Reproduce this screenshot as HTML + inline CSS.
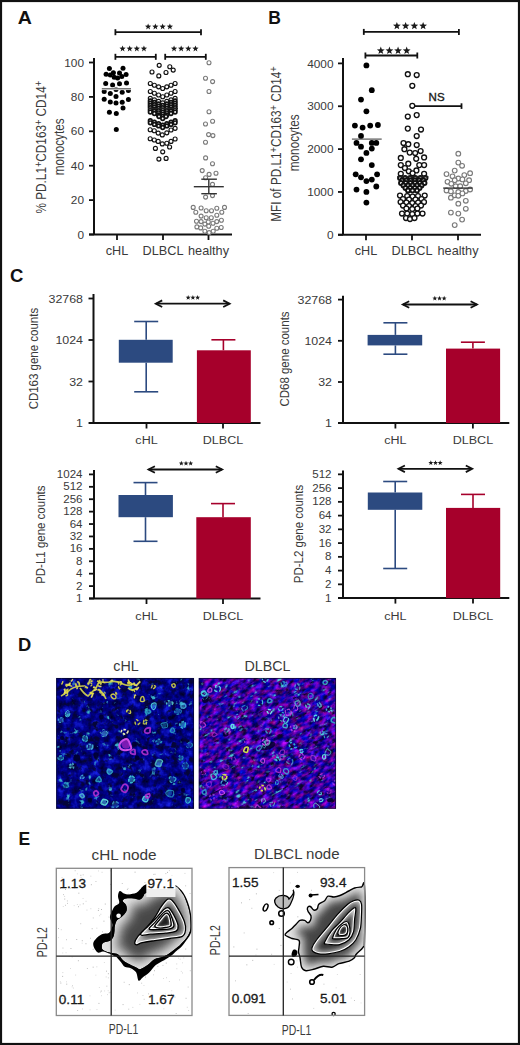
<!DOCTYPE html>
<html><head><meta charset="utf-8"><style>
html,body{margin:0;padding:0;background:#fff;}
svg{display:block;}
text{font-family:"Liberation Sans",sans-serif;}
</style></head><body>
<svg width="520" height="1045" viewBox="0 0 520 1045">
<rect width="520" height="1045" fill="#fff"/>
<rect x="1" y="1" width="518" height="1043" fill="none" stroke="#111" stroke-width="2.2"/>
<text x="0" y="0" font-size="17.5" font-weight="bold" fill="#111" transform="translate(17.8,23.6) scale(1.12,1)">A</text>
<text x="0" y="0" font-size="17.5" font-weight="bold" fill="#111" transform="translate(268.3,23.6) scale(1.0,1)">B</text>
<text x="0" y="0" font-size="18.5" font-weight="bold" fill="#111" transform="translate(10,282.3) scale(1.0,1)">C</text>
<text x="0" y="0" font-size="17.5" font-weight="bold" fill="#111" transform="translate(18,651.3) scale(1.05,1)">D</text>
<text x="0" y="0" font-size="17.5" font-weight="bold" fill="#111" transform="translate(18.5,845) scale(1.0,1)">E</text>
<line x1="94" y1="58" x2="94" y2="234.5" stroke="#111" stroke-width="2"/>
<line x1="89" y1="234.5" x2="94" y2="234.5" stroke="#111" stroke-width="1.8"/>
<text x="0" y="0" font-size="11.5" text-anchor="end" fill="#3a3a3a" transform="translate(84,238.6) scale(1.03,1)">0</text>
<line x1="89" y1="200.1" x2="94" y2="200.1" stroke="#111" stroke-width="1.8"/>
<text x="0" y="0" font-size="11.5" text-anchor="end" fill="#3a3a3a" transform="translate(84,204.2) scale(1.03,1)">20</text>
<line x1="89" y1="165.7" x2="94" y2="165.7" stroke="#111" stroke-width="1.8"/>
<text x="0" y="0" font-size="11.5" text-anchor="end" fill="#3a3a3a" transform="translate(84,169.8) scale(1.03,1)">40</text>
<line x1="89" y1="131.3" x2="94" y2="131.3" stroke="#111" stroke-width="1.8"/>
<text x="0" y="0" font-size="11.5" text-anchor="end" fill="#3a3a3a" transform="translate(84,135.4) scale(1.03,1)">60</text>
<line x1="89" y1="96.9" x2="94" y2="96.9" stroke="#111" stroke-width="1.8"/>
<text x="0" y="0" font-size="11.5" text-anchor="end" fill="#3a3a3a" transform="translate(84,101.0) scale(1.03,1)">80</text>
<line x1="89" y1="62.5" x2="94" y2="62.5" stroke="#111" stroke-width="1.8"/>
<text x="0" y="0" font-size="11.5" text-anchor="end" fill="#3a3a3a" transform="translate(84,66.6) scale(1.03,1)">100</text>
<line x1="89" y1="234.5" x2="232" y2="234.5" stroke="#111" stroke-width="2"/>
<line x1="117" y1="234.5" x2="117" y2="240.0" stroke="#111" stroke-width="1.8"/>
<text x="0" y="0" font-size="12" text-anchor="middle" fill="#3a3a3a" transform="translate(117,255.2) scale(1.06,1)">cHL</text>
<line x1="163" y1="234.5" x2="163" y2="240.0" stroke="#111" stroke-width="1.8"/>
<text x="0" y="0" font-size="12" text-anchor="middle" fill="#3a3a3a" transform="translate(163,255.2) scale(1.06,1)">DLBCL</text>
<line x1="208.5" y1="234.5" x2="208.5" y2="240.0" stroke="#111" stroke-width="1.8"/>
<text x="0" y="0" font-size="12" text-anchor="middle" fill="#3a3a3a" transform="translate(208.5,255.2) scale(1.06,1)">healthy</text>
<text x="0" y="0" font-size="12.8" text-anchor="middle" fill="#3a3a3a" transform="translate(46.3,147.2) rotate(-90) scale(0.92,1.1)">% PD.L1<tspan dy="-4.2" font-size="10">+</tspan><tspan dy="4.2">CD163</tspan><tspan dy="-4.2" font-size="10">+</tspan><tspan dy="4.2"> CD14</tspan><tspan dy="-4.2" font-size="10">+</tspan></text>
<text x="0" y="0" font-size="12.8" text-anchor="middle" fill="#3a3a3a" transform="translate(63.8,146.8) rotate(-90) scale(0.92,1.12)">monocytes</text>
<line x1="115.4" y1="32.2" x2="201" y2="32.2" stroke="#111" stroke-width="1.8"/><line x1="115.4" y1="29.200000000000003" x2="115.4" y2="35.2" stroke="#111" stroke-width="1.8"/><line x1="201" y1="29.200000000000003" x2="201" y2="35.2" stroke="#111" stroke-width="1.8"/><polygon points="148.12,23.43 148.94,25.61 151.26,25.71 149.44,27.16 150.06,29.40 148.12,28.12 146.19,29.40 146.81,27.16 144.99,25.71 147.31,25.61" fill="#1a1a1a"/><polygon points="155.38,23.43 156.19,25.61 158.51,25.71 156.69,27.16 157.31,29.40 155.38,28.12 153.44,29.40 154.06,27.16 152.24,25.71 154.56,25.61" fill="#1a1a1a"/><polygon points="162.62,23.43 163.44,25.61 165.76,25.71 163.94,27.16 164.56,29.40 162.62,28.12 160.69,29.40 161.31,27.16 159.49,25.71 161.81,25.61" fill="#1a1a1a"/><polygon points="169.88,23.43 170.69,25.61 173.01,25.71 171.19,27.16 171.81,29.40 169.88,28.12 167.94,29.40 168.56,27.16 166.74,25.71 169.06,25.61" fill="#1a1a1a"/>
<line x1="115.4" y1="56.8" x2="155.8" y2="56.8" stroke="#111" stroke-width="1.8"/><line x1="115.4" y1="53.8" x2="115.4" y2="59.8" stroke="#111" stroke-width="1.8"/><line x1="155.8" y1="53.8" x2="155.8" y2="59.8" stroke="#111" stroke-width="1.8"/><polygon points="122.56,45.43 123.38,47.61 125.70,47.71 123.88,49.16 124.50,51.40 122.56,50.12 120.62,51.40 121.24,49.16 119.42,47.71 121.75,47.61" fill="#1a1a1a"/><polygon points="129.69,45.43 130.50,47.61 132.83,47.71 131.01,49.16 131.63,51.40 129.69,50.12 127.75,51.40 128.37,49.16 126.55,47.71 128.87,47.61" fill="#1a1a1a"/><polygon points="136.81,45.43 137.63,47.61 139.95,47.71 138.13,49.16 138.75,51.40 136.81,50.12 134.87,51.40 135.49,49.16 133.67,47.71 136.00,47.61" fill="#1a1a1a"/><polygon points="143.94,45.43 144.75,47.61 147.08,47.71 145.26,49.16 145.88,51.40 143.94,50.12 142.00,51.40 142.62,49.16 140.80,47.71 143.12,47.61" fill="#1a1a1a"/>
<line x1="165.2" y1="56.8" x2="205.8" y2="56.8" stroke="#111" stroke-width="1.8"/><line x1="165.2" y1="53.8" x2="165.2" y2="59.8" stroke="#111" stroke-width="1.8"/><line x1="205.8" y1="53.8" x2="205.8" y2="59.8" stroke="#111" stroke-width="1.8"/><polygon points="174.06,45.43 174.88,47.61 177.20,47.71 175.38,49.16 176.00,51.40 174.06,50.12 172.12,51.40 172.74,49.16 170.92,47.71 173.25,47.61" fill="#1a1a1a"/><polygon points="181.19,45.43 182.00,47.61 184.33,47.71 182.51,49.16 183.13,51.40 181.19,50.12 179.25,51.40 179.87,49.16 178.05,47.71 180.37,47.61" fill="#1a1a1a"/><polygon points="188.31,45.43 189.13,47.61 191.45,47.71 189.63,49.16 190.25,51.40 188.31,50.12 186.37,51.40 186.99,49.16 185.17,47.71 187.50,47.61" fill="#1a1a1a"/><polygon points="195.44,45.43 196.25,47.61 198.58,47.71 196.76,49.16 197.38,51.40 195.44,50.12 193.50,51.40 194.12,49.16 192.30,47.71 194.62,47.61" fill="#1a1a1a"/>
<line x1="343" y1="58" x2="343" y2="234.8" stroke="#111" stroke-width="2"/>
<line x1="338" y1="234.8" x2="343" y2="234.8" stroke="#111" stroke-width="1.8"/>
<text x="0" y="0" font-size="11.5" text-anchor="end" fill="#3a3a3a" transform="translate(333.5,238.9) scale(1.03,1)">0</text>
<line x1="338" y1="191.95000000000002" x2="343" y2="191.95000000000002" stroke="#111" stroke-width="1.8"/>
<text x="0" y="0" font-size="11.5" text-anchor="end" fill="#3a3a3a" transform="translate(333.5,196.1) scale(1.03,1)">1000</text>
<line x1="338" y1="149.10000000000002" x2="343" y2="149.10000000000002" stroke="#111" stroke-width="1.8"/>
<text x="0" y="0" font-size="11.5" text-anchor="end" fill="#3a3a3a" transform="translate(333.5,153.2) scale(1.03,1)">2000</text>
<line x1="338" y1="106.25" x2="343" y2="106.25" stroke="#111" stroke-width="1.8"/>
<text x="0" y="0" font-size="11.5" text-anchor="end" fill="#3a3a3a" transform="translate(333.5,110.4) scale(1.03,1)">3000</text>
<line x1="338" y1="63.400000000000006" x2="343" y2="63.400000000000006" stroke="#111" stroke-width="1.8"/>
<text x="0" y="0" font-size="11.5" text-anchor="end" fill="#3a3a3a" transform="translate(333.5,67.5) scale(1.03,1)">4000</text>
<line x1="338" y1="234.8" x2="481" y2="234.8" stroke="#111" stroke-width="2"/>
<line x1="366" y1="234.8" x2="366" y2="240.3" stroke="#111" stroke-width="1.8"/>
<text x="0" y="0" font-size="12" text-anchor="middle" fill="#3a3a3a" transform="translate(366,254.8) scale(1.06,1)">cHL</text>
<line x1="412" y1="234.8" x2="412" y2="240.3" stroke="#111" stroke-width="1.8"/>
<text x="0" y="0" font-size="12" text-anchor="middle" fill="#3a3a3a" transform="translate(412,254.8) scale(1.06,1)">DLBCL</text>
<line x1="458" y1="234.8" x2="458" y2="240.3" stroke="#111" stroke-width="1.8"/>
<text x="0" y="0" font-size="12" text-anchor="middle" fill="#3a3a3a" transform="translate(458,254.8) scale(1.06,1)">healthy</text>
<text x="0" y="0" font-size="12.8" text-anchor="middle" fill="#3a3a3a" transform="translate(281.2,144) rotate(-90) scale(0.92,1.1)">MFI of PD.L1<tspan dy="-4.2" font-size="10">+</tspan><tspan dy="4.2">CD163</tspan><tspan dy="-4.2" font-size="10">+</tspan><tspan dy="4.2"> CD14</tspan><tspan dy="-4.2" font-size="10">+</tspan></text>
<text x="0" y="0" font-size="12.8" text-anchor="middle" fill="#3a3a3a" transform="translate(298.6,142.8) rotate(-90) scale(0.92,1.12)">monocytes</text>
<line x1="363.8" y1="31.9" x2="458.9" y2="31.9" stroke="#111" stroke-width="1.8"/><line x1="363.8" y1="28.9" x2="363.8" y2="34.9" stroke="#111" stroke-width="1.8"/><line x1="458.9" y1="28.9" x2="458.9" y2="34.9" stroke="#111" stroke-width="1.8"/><polygon points="396.88,21.91 397.89,24.62 400.77,24.74 398.51,26.54 399.28,29.33 396.88,27.73 394.47,29.33 395.24,26.54 392.98,24.74 395.86,24.62" fill="#1a1a1a"/><polygon points="405.62,21.91 406.64,24.62 409.52,24.74 407.26,26.54 408.03,29.33 405.62,27.73 403.22,29.33 403.99,26.54 401.73,24.74 404.61,24.62" fill="#1a1a1a"/><polygon points="414.38,21.91 415.39,24.62 418.27,24.74 416.01,26.54 416.78,29.33 414.38,27.73 411.97,29.33 412.74,26.54 410.48,24.74 413.36,24.62" fill="#1a1a1a"/><polygon points="423.12,21.91 424.14,24.62 427.02,24.74 424.76,26.54 425.53,29.33 423.12,27.73 420.72,29.33 421.49,26.54 419.23,24.74 422.11,24.62" fill="#1a1a1a"/>
<line x1="365.4" y1="55.5" x2="417.3" y2="55.5" stroke="#111" stroke-width="1.8"/><line x1="365.4" y1="52.5" x2="365.4" y2="58.5" stroke="#111" stroke-width="1.8"/><line x1="417.3" y1="52.5" x2="417.3" y2="58.5" stroke="#111" stroke-width="1.8"/><polygon points="380.81,46.61 381.82,49.32 384.71,49.44 382.45,51.24 383.22,54.03 380.81,52.43 378.40,54.03 379.17,51.24 376.91,49.44 379.80,49.32" fill="#1a1a1a"/><polygon points="389.44,46.61 390.45,49.32 393.34,49.44 391.08,51.24 391.85,54.03 389.44,52.43 387.03,54.03 387.80,51.24 385.54,49.44 388.43,49.32" fill="#1a1a1a"/><polygon points="398.06,46.61 399.07,49.32 401.96,49.44 399.70,51.24 400.47,54.03 398.06,52.43 395.65,54.03 396.42,51.24 394.16,49.44 397.05,49.32" fill="#1a1a1a"/><polygon points="406.69,46.61 407.70,49.32 410.59,49.44 408.33,51.24 409.10,54.03 406.69,52.43 404.28,54.03 405.05,51.24 402.79,49.44 405.68,49.32" fill="#1a1a1a"/>
<line x1="412.4" y1="106.1" x2="461.5" y2="106.1" stroke="#111" stroke-width="1.8"/><line x1="461.5" y1="103.3" x2="461.5" y2="108.9" stroke="#111" stroke-width="1.8"/>
<text x="428.6" y="100.6" font-size="11.5" text-anchor="start" fill="#1a1a1a" font-weight="normal" stroke="#1a1a1a" stroke-width="0.35">NS</text>
<circle cx="109.4" cy="68.5" r="2.5" fill="#000"/>
<circle cx="123.0" cy="68.3" r="2.5" fill="#000"/>
<circle cx="106.1" cy="74.2" r="2.5" fill="#000"/>
<circle cx="110.3" cy="75.0" r="2.5" fill="#000"/>
<circle cx="113.4" cy="72.7" r="2.5" fill="#000"/>
<circle cx="114.2" cy="77.3" r="2.5" fill="#000"/>
<circle cx="117.6" cy="78.1" r="2.5" fill="#000"/>
<circle cx="119.5" cy="73.1" r="2.5" fill="#000"/>
<circle cx="121.8" cy="76.5" r="2.5" fill="#000"/>
<circle cx="126.1" cy="74.6" r="2.5" fill="#000"/>
<circle cx="105.7" cy="83.5" r="2.5" fill="#000"/>
<circle cx="112.6" cy="85.0" r="2.5" fill="#000"/>
<circle cx="119.5" cy="83.8" r="2.5" fill="#000"/>
<circle cx="126.5" cy="83.1" r="2.5" fill="#000"/>
<circle cx="104.2" cy="91.5" r="2.5" fill="#000"/>
<circle cx="110.3" cy="93.5" r="2.5" fill="#000"/>
<circle cx="116.0" cy="89.5" r="2.5" fill="#000"/>
<circle cx="122.2" cy="92.3" r="2.5" fill="#000"/>
<circle cx="128.4" cy="90.4" r="2.5" fill="#000"/>
<circle cx="116.0" cy="96.5" r="2.5" fill="#000"/>
<circle cx="104.2" cy="99.2" r="2.5" fill="#000"/>
<circle cx="110.3" cy="101.9" r="2.5" fill="#000"/>
<circle cx="116.0" cy="103.0" r="2.5" fill="#000"/>
<circle cx="122.2" cy="102.3" r="2.5" fill="#000"/>
<circle cx="128.4" cy="99.6" r="2.5" fill="#000"/>
<circle cx="123.0" cy="108.0" r="2.5" fill="#000"/>
<circle cx="109.4" cy="112.2" r="2.5" fill="#000"/>
<circle cx="116.3" cy="113.5" r="2.5" fill="#000"/>
<circle cx="116.3" cy="129.6" r="2.5" fill="#000"/>
<line x1="101.8" y1="88.8" x2="131" y2="88.8" stroke="#fff" stroke-width="2.6"/>
<line x1="101.8" y1="88.8" x2="131" y2="88.8" stroke="#555" stroke-width="1.2"/>
<circle cx="159.2" cy="65.3" r="2.0" fill="#fff" stroke="#111" stroke-width="1.15"/>
<circle cx="169.8" cy="66.7" r="2.0" fill="#fff" stroke="#111" stroke-width="1.15"/>
<circle cx="173.2" cy="70.1" r="2.0" fill="#fff" stroke="#111" stroke-width="1.15"/>
<circle cx="152.0" cy="72.0" r="2.0" fill="#fff" stroke="#111" stroke-width="1.15"/>
<circle cx="166.0" cy="72.5" r="2.0" fill="#fff" stroke="#111" stroke-width="1.15"/>
<circle cx="158.8" cy="75.9" r="2.0" fill="#fff" stroke="#111" stroke-width="1.15"/>
<circle cx="150.3" cy="83.5" r="2.0" fill="#fff" stroke="#111" stroke-width="1.15"/>
<circle cx="154.4" cy="85.2" r="2.0" fill="#fff" stroke="#111" stroke-width="1.15"/>
<circle cx="158.6" cy="86.8" r="2.0" fill="#fff" stroke="#111" stroke-width="1.15"/>
<circle cx="162.7" cy="88.5" r="2.0" fill="#fff" stroke="#111" stroke-width="1.15"/>
<circle cx="166.8" cy="86.8" r="2.0" fill="#fff" stroke="#111" stroke-width="1.15"/>
<circle cx="171.0" cy="85.2" r="2.0" fill="#fff" stroke="#111" stroke-width="1.15"/>
<circle cx="175.1" cy="83.5" r="2.0" fill="#fff" stroke="#111" stroke-width="1.15"/>
<circle cx="150.3" cy="91.5" r="2.0" fill="#fff" stroke="#111" stroke-width="1.15"/>
<circle cx="154.4" cy="93.2" r="2.0" fill="#fff" stroke="#111" stroke-width="1.15"/>
<circle cx="158.6" cy="95.0" r="2.0" fill="#fff" stroke="#111" stroke-width="1.15"/>
<circle cx="162.7" cy="96.7" r="2.0" fill="#fff" stroke="#111" stroke-width="1.15"/>
<circle cx="166.8" cy="95.0" r="2.0" fill="#fff" stroke="#111" stroke-width="1.15"/>
<circle cx="171.0" cy="93.2" r="2.0" fill="#fff" stroke="#111" stroke-width="1.15"/>
<circle cx="175.1" cy="91.5" r="2.0" fill="#fff" stroke="#111" stroke-width="1.15"/>
<circle cx="150.3" cy="98.3" r="2.0" fill="#fff" stroke="#111" stroke-width="1.15"/>
<circle cx="154.4" cy="99.8" r="2.0" fill="#fff" stroke="#111" stroke-width="1.15"/>
<circle cx="158.6" cy="101.3" r="2.0" fill="#fff" stroke="#111" stroke-width="1.15"/>
<circle cx="162.7" cy="102.8" r="2.0" fill="#fff" stroke="#111" stroke-width="1.15"/>
<circle cx="166.8" cy="101.3" r="2.0" fill="#fff" stroke="#111" stroke-width="1.15"/>
<circle cx="171.0" cy="99.8" r="2.0" fill="#fff" stroke="#111" stroke-width="1.15"/>
<circle cx="175.1" cy="98.3" r="2.0" fill="#fff" stroke="#111" stroke-width="1.15"/>
<circle cx="150.2" cy="129.7" r="2.0" fill="#fff" stroke="#111" stroke-width="1.15"/>
<circle cx="154.3" cy="130.7" r="2.0" fill="#fff" stroke="#111" stroke-width="1.15"/>
<circle cx="158.2" cy="133.1" r="2.0" fill="#fff" stroke="#111" stroke-width="1.15"/>
<circle cx="162.3" cy="134.9" r="2.0" fill="#fff" stroke="#111" stroke-width="1.15"/>
<circle cx="166.8" cy="132.8" r="2.0" fill="#fff" stroke="#111" stroke-width="1.15"/>
<circle cx="171.0" cy="130.0" r="2.0" fill="#fff" stroke="#111" stroke-width="1.15"/>
<circle cx="175.1" cy="128.3" r="2.0" fill="#fff" stroke="#111" stroke-width="1.15"/>
<circle cx="150.2" cy="138.7" r="2.0" fill="#fff" stroke="#111" stroke-width="1.15"/>
<circle cx="154.3" cy="140.0" r="2.0" fill="#fff" stroke="#111" stroke-width="1.15"/>
<circle cx="158.2" cy="141.4" r="2.0" fill="#fff" stroke="#111" stroke-width="1.15"/>
<circle cx="162.3" cy="143.9" r="2.0" fill="#fff" stroke="#111" stroke-width="1.15"/>
<circle cx="166.8" cy="143.2" r="2.0" fill="#fff" stroke="#111" stroke-width="1.15"/>
<circle cx="171.0" cy="141.4" r="2.0" fill="#fff" stroke="#111" stroke-width="1.15"/>
<circle cx="175.1" cy="139.0" r="2.0" fill="#fff" stroke="#111" stroke-width="1.15"/>
<circle cx="169.6" cy="147.0" r="2.0" fill="#fff" stroke="#111" stroke-width="1.15"/>
<circle cx="155.4" cy="148.4" r="2.0" fill="#fff" stroke="#111" stroke-width="1.15"/>
<circle cx="162.7" cy="151.8" r="2.0" fill="#fff" stroke="#111" stroke-width="1.15"/>
<circle cx="158.9" cy="159.1" r="2.0" fill="#fff" stroke="#111" stroke-width="1.15"/>
<circle cx="166.1" cy="158.4" r="2.0" fill="#fff" stroke="#111" stroke-width="1.15"/>
<circle cx="150.3" cy="101.0" r="1.8" fill="#fff" stroke="#111" stroke-width="1.7"/>
<circle cx="154.4" cy="102.5" r="1.8" fill="#fff" stroke="#111" stroke-width="1.7"/>
<circle cx="158.6" cy="104.0" r="1.8" fill="#fff" stroke="#111" stroke-width="1.7"/>
<circle cx="162.7" cy="105.5" r="1.8" fill="#fff" stroke="#111" stroke-width="1.7"/>
<circle cx="166.8" cy="104.0" r="1.8" fill="#fff" stroke="#111" stroke-width="1.7"/>
<circle cx="171.0" cy="102.5" r="1.8" fill="#fff" stroke="#111" stroke-width="1.7"/>
<circle cx="175.1" cy="101.0" r="1.8" fill="#fff" stroke="#111" stroke-width="1.7"/>
<circle cx="150.3" cy="103.2" r="1.8" fill="#fff" stroke="#111" stroke-width="1.7"/>
<circle cx="154.4" cy="104.7" r="1.8" fill="#fff" stroke="#111" stroke-width="1.7"/>
<circle cx="158.6" cy="106.2" r="1.8" fill="#fff" stroke="#111" stroke-width="1.7"/>
<circle cx="162.7" cy="107.7" r="1.8" fill="#fff" stroke="#111" stroke-width="1.7"/>
<circle cx="166.8" cy="106.2" r="1.8" fill="#fff" stroke="#111" stroke-width="1.7"/>
<circle cx="171.0" cy="104.7" r="1.8" fill="#fff" stroke="#111" stroke-width="1.7"/>
<circle cx="175.1" cy="103.2" r="1.8" fill="#fff" stroke="#111" stroke-width="1.7"/>
<circle cx="150.3" cy="105.4" r="1.8" fill="#fff" stroke="#111" stroke-width="1.7"/>
<circle cx="154.4" cy="106.9" r="1.8" fill="#fff" stroke="#111" stroke-width="1.7"/>
<circle cx="158.6" cy="108.4" r="1.8" fill="#fff" stroke="#111" stroke-width="1.7"/>
<circle cx="162.7" cy="109.9" r="1.8" fill="#fff" stroke="#111" stroke-width="1.7"/>
<circle cx="166.8" cy="108.4" r="1.8" fill="#fff" stroke="#111" stroke-width="1.7"/>
<circle cx="171.0" cy="106.9" r="1.8" fill="#fff" stroke="#111" stroke-width="1.7"/>
<circle cx="175.1" cy="105.4" r="1.8" fill="#fff" stroke="#111" stroke-width="1.7"/>
<circle cx="150.3" cy="107.6" r="1.8" fill="#fff" stroke="#111" stroke-width="1.7"/>
<circle cx="154.4" cy="109.1" r="1.8" fill="#fff" stroke="#111" stroke-width="1.7"/>
<circle cx="158.6" cy="110.6" r="1.8" fill="#fff" stroke="#111" stroke-width="1.7"/>
<circle cx="162.7" cy="112.1" r="1.8" fill="#fff" stroke="#111" stroke-width="1.7"/>
<circle cx="166.8" cy="110.6" r="1.8" fill="#fff" stroke="#111" stroke-width="1.7"/>
<circle cx="171.0" cy="109.1" r="1.8" fill="#fff" stroke="#111" stroke-width="1.7"/>
<circle cx="175.1" cy="107.6" r="1.8" fill="#fff" stroke="#111" stroke-width="1.7"/>
<circle cx="150.3" cy="109.8" r="1.8" fill="#fff" stroke="#111" stroke-width="1.7"/>
<circle cx="154.4" cy="111.3" r="1.8" fill="#fff" stroke="#111" stroke-width="1.7"/>
<circle cx="158.6" cy="112.8" r="1.8" fill="#fff" stroke="#111" stroke-width="1.7"/>
<circle cx="162.7" cy="114.3" r="1.8" fill="#fff" stroke="#111" stroke-width="1.7"/>
<circle cx="166.8" cy="112.8" r="1.8" fill="#fff" stroke="#111" stroke-width="1.7"/>
<circle cx="171.0" cy="111.3" r="1.8" fill="#fff" stroke="#111" stroke-width="1.7"/>
<circle cx="175.1" cy="109.8" r="1.8" fill="#fff" stroke="#111" stroke-width="1.7"/>
<circle cx="150.3" cy="112.0" r="1.8" fill="#fff" stroke="#111" stroke-width="1.7"/>
<circle cx="154.4" cy="113.5" r="1.8" fill="#fff" stroke="#111" stroke-width="1.7"/>
<circle cx="158.6" cy="115.0" r="1.8" fill="#fff" stroke="#111" stroke-width="1.7"/>
<circle cx="162.7" cy="116.5" r="1.8" fill="#fff" stroke="#111" stroke-width="1.7"/>
<circle cx="166.8" cy="115.0" r="1.8" fill="#fff" stroke="#111" stroke-width="1.7"/>
<circle cx="171.0" cy="113.5" r="1.8" fill="#fff" stroke="#111" stroke-width="1.7"/>
<circle cx="175.1" cy="112.0" r="1.8" fill="#fff" stroke="#111" stroke-width="1.7"/>
<circle cx="150.3" cy="120.7" r="1.8" fill="#fff" stroke="#111" stroke-width="1.7"/>
<circle cx="154.4" cy="122.2" r="1.8" fill="#fff" stroke="#111" stroke-width="1.7"/>
<circle cx="158.6" cy="123.7" r="1.8" fill="#fff" stroke="#111" stroke-width="1.7"/>
<circle cx="162.7" cy="125.2" r="1.8" fill="#fff" stroke="#111" stroke-width="1.7"/>
<circle cx="166.8" cy="123.7" r="1.8" fill="#fff" stroke="#111" stroke-width="1.7"/>
<circle cx="171.0" cy="122.2" r="1.8" fill="#fff" stroke="#111" stroke-width="1.7"/>
<circle cx="175.1" cy="120.7" r="1.8" fill="#fff" stroke="#111" stroke-width="1.7"/>
<circle cx="150.3" cy="122.8" r="1.8" fill="#fff" stroke="#111" stroke-width="1.7"/>
<circle cx="154.4" cy="124.4" r="1.8" fill="#fff" stroke="#111" stroke-width="1.7"/>
<circle cx="158.6" cy="125.9" r="1.8" fill="#fff" stroke="#111" stroke-width="1.7"/>
<circle cx="162.7" cy="127.5" r="1.8" fill="#fff" stroke="#111" stroke-width="1.7"/>
<circle cx="166.8" cy="125.9" r="1.8" fill="#fff" stroke="#111" stroke-width="1.7"/>
<circle cx="171.0" cy="124.4" r="1.8" fill="#fff" stroke="#111" stroke-width="1.7"/>
<circle cx="175.1" cy="122.8" r="1.8" fill="#fff" stroke="#111" stroke-width="1.7"/>
<circle cx="159.0" cy="116.5" r="1.8" fill="#fff" stroke="#111" stroke-width="1.7"/>
<circle cx="166.0" cy="116.5" r="1.8" fill="#fff" stroke="#111" stroke-width="1.7"/>
<circle cx="162.7" cy="118.5" r="1.8" fill="#fff" stroke="#111" stroke-width="1.7"/>
<line x1="148" y1="108.5" x2="178" y2="108.5" stroke="#222" stroke-width="1.2"/>
<circle cx="209.0" cy="62.7" r="2.0" fill="#fff" stroke="#7a7a7a" stroke-width="1.1"/>
<circle cx="205.5" cy="78.3" r="2.0" fill="#fff" stroke="#7a7a7a" stroke-width="1.1"/>
<circle cx="212.6" cy="81.6" r="2.0" fill="#fff" stroke="#7a7a7a" stroke-width="1.1"/>
<circle cx="209.0" cy="91.5" r="2.0" fill="#fff" stroke="#7a7a7a" stroke-width="1.1"/>
<circle cx="209.0" cy="111.7" r="2.0" fill="#fff" stroke="#7a7a7a" stroke-width="1.1"/>
<circle cx="212.6" cy="121.3" r="2.0" fill="#fff" stroke="#7a7a7a" stroke-width="1.1"/>
<circle cx="205.5" cy="124.0" r="2.0" fill="#fff" stroke="#7a7a7a" stroke-width="1.1"/>
<circle cx="208.6" cy="134.6" r="2.0" fill="#fff" stroke="#7a7a7a" stroke-width="1.1"/>
<circle cx="212.9" cy="135.6" r="2.0" fill="#fff" stroke="#7a7a7a" stroke-width="1.1"/>
<circle cx="205.5" cy="142.3" r="2.0" fill="#fff" stroke="#7a7a7a" stroke-width="1.1"/>
<circle cx="205.6" cy="157.9" r="2.0" fill="#fff" stroke="#7a7a7a" stroke-width="1.1"/>
<circle cx="212.5" cy="163.7" r="2.0" fill="#fff" stroke="#7a7a7a" stroke-width="1.1"/>
<circle cx="202.2" cy="170.6" r="2.0" fill="#fff" stroke="#7a7a7a" stroke-width="1.1"/>
<circle cx="216.0" cy="173.2" r="2.0" fill="#fff" stroke="#7a7a7a" stroke-width="1.1"/>
<circle cx="209.1" cy="174.4" r="2.0" fill="#fff" stroke="#7a7a7a" stroke-width="1.1"/>
<circle cx="205.6" cy="177.8" r="2.0" fill="#fff" stroke="#7a7a7a" stroke-width="1.1"/>
<circle cx="212.5" cy="184.4" r="2.0" fill="#fff" stroke="#7a7a7a" stroke-width="1.1"/>
<circle cx="205.6" cy="197.1" r="2.0" fill="#fff" stroke="#7a7a7a" stroke-width="1.1"/>
<circle cx="212.5" cy="195.6" r="2.0" fill="#fff" stroke="#7a7a7a" stroke-width="1.1"/>
<circle cx="193.2" cy="207.4" r="2.0" fill="#fff" stroke="#7a7a7a" stroke-width="1.1"/>
<circle cx="195.8" cy="212.3" r="2.0" fill="#fff" stroke="#7a7a7a" stroke-width="1.1"/>
<circle cx="201.1" cy="208.0" r="2.0" fill="#fff" stroke="#7a7a7a" stroke-width="1.1"/>
<circle cx="206.2" cy="210.8" r="2.0" fill="#fff" stroke="#7a7a7a" stroke-width="1.1"/>
<circle cx="211.5" cy="210.8" r="2.0" fill="#fff" stroke="#7a7a7a" stroke-width="1.1"/>
<circle cx="216.8" cy="208.3" r="2.0" fill="#fff" stroke="#7a7a7a" stroke-width="1.1"/>
<circle cx="224.5" cy="207.4" r="2.0" fill="#fff" stroke="#7a7a7a" stroke-width="1.1"/>
<circle cx="221.8" cy="212.3" r="2.0" fill="#fff" stroke="#7a7a7a" stroke-width="1.1"/>
<circle cx="201.1" cy="216.1" r="2.0" fill="#fff" stroke="#7a7a7a" stroke-width="1.1"/>
<circle cx="206.2" cy="217.8" r="2.0" fill="#fff" stroke="#7a7a7a" stroke-width="1.1"/>
<circle cx="211.3" cy="217.8" r="2.0" fill="#fff" stroke="#7a7a7a" stroke-width="1.1"/>
<circle cx="216.8" cy="215.2" r="2.0" fill="#fff" stroke="#7a7a7a" stroke-width="1.1"/>
<circle cx="196.5" cy="221.2" r="2.0" fill="#fff" stroke="#7a7a7a" stroke-width="1.1"/>
<circle cx="201.1" cy="221.6" r="2.0" fill="#fff" stroke="#7a7a7a" stroke-width="1.1"/>
<circle cx="208.3" cy="222.0" r="2.0" fill="#fff" stroke="#7a7a7a" stroke-width="1.1"/>
<circle cx="213.0" cy="223.3" r="2.0" fill="#fff" stroke="#7a7a7a" stroke-width="1.1"/>
<circle cx="216.8" cy="221.6" r="2.0" fill="#fff" stroke="#7a7a7a" stroke-width="1.1"/>
<circle cx="221.4" cy="220.3" r="2.0" fill="#fff" stroke="#7a7a7a" stroke-width="1.1"/>
<circle cx="204.9" cy="224.1" r="2.0" fill="#fff" stroke="#7a7a7a" stroke-width="1.1"/>
<circle cx="196.9" cy="226.9" r="2.0" fill="#fff" stroke="#7a7a7a" stroke-width="1.1"/>
<circle cx="200.7" cy="227.9" r="2.0" fill="#fff" stroke="#7a7a7a" stroke-width="1.1"/>
<circle cx="208.7" cy="226.2" r="2.0" fill="#fff" stroke="#7a7a7a" stroke-width="1.1"/>
<circle cx="216.8" cy="228.3" r="2.0" fill="#fff" stroke="#7a7a7a" stroke-width="1.1"/>
<circle cx="221.2" cy="227.5" r="2.0" fill="#fff" stroke="#7a7a7a" stroke-width="1.1"/>
<circle cx="204.9" cy="231.3" r="2.0" fill="#fff" stroke="#7a7a7a" stroke-width="1.1"/>
<circle cx="209.2" cy="232.6" r="2.0" fill="#fff" stroke="#7a7a7a" stroke-width="1.1"/>
<circle cx="213.2" cy="231.3" r="2.0" fill="#fff" stroke="#7a7a7a" stroke-width="1.1"/>
<g stroke="#333" stroke-width="1.4"><line x1="193.8" y1="186.7" x2="223.8" y2="186.7"/><line x1="201.3" y1="179.2" x2="216.9" y2="179.2"/><line x1="201.3" y1="193.7" x2="216.9" y2="193.7"/><line x1="208.8" y1="179.2" x2="208.8" y2="193.7"/></g>
<circle cx="366.4" cy="65.4" r="2.9" fill="#000"/>
<circle cx="371.8" cy="90.2" r="2.9" fill="#000"/>
<circle cx="361.0" cy="99.6" r="2.9" fill="#000"/>
<circle cx="366.4" cy="111.3" r="2.9" fill="#000"/>
<circle cx="354.9" cy="125.6" r="2.9" fill="#000"/>
<circle cx="362.6" cy="127.6" r="2.9" fill="#000"/>
<circle cx="370.2" cy="125.6" r="2.9" fill="#000"/>
<circle cx="377.9" cy="125.0" r="2.9" fill="#000"/>
<circle cx="361.0" cy="136.0" r="2.9" fill="#000"/>
<circle cx="356.5" cy="142.9" r="2.9" fill="#000"/>
<circle cx="371.8" cy="142.9" r="2.9" fill="#000"/>
<circle cx="376.3" cy="142.9" r="2.9" fill="#000"/>
<circle cx="361.0" cy="146.7" r="2.9" fill="#000"/>
<circle cx="371.8" cy="148.6" r="2.9" fill="#000"/>
<circle cx="366.4" cy="152.9" r="2.9" fill="#000"/>
<circle cx="361.0" cy="159.3" r="2.9" fill="#000"/>
<circle cx="371.8" cy="165.1" r="2.9" fill="#000"/>
<circle cx="355.7" cy="174.3" r="2.9" fill="#000"/>
<circle cx="361.0" cy="177.3" r="2.9" fill="#000"/>
<circle cx="366.4" cy="181.1" r="2.9" fill="#000"/>
<circle cx="371.8" cy="179.6" r="2.9" fill="#000"/>
<circle cx="377.1" cy="174.3" r="2.9" fill="#000"/>
<circle cx="356.5" cy="189.6" r="2.9" fill="#000"/>
<circle cx="366.4" cy="191.9" r="2.9" fill="#000"/>
<circle cx="376.3" cy="186.5" r="2.9" fill="#000"/>
<circle cx="366.4" cy="202.6" r="2.9" fill="#000"/>
<line x1="351.9" y1="139.1" x2="381.7" y2="139.1" stroke="#555" stroke-width="1.2"/>
<circle cx="407.8" cy="74.2" r="2.45" fill="#fff" stroke="#111" stroke-width="1.35"/>
<circle cx="416.7" cy="75.0" r="2.45" fill="#fff" stroke="#111" stroke-width="1.35"/>
<circle cx="412.3" cy="85.8" r="2.45" fill="#fff" stroke="#111" stroke-width="1.35"/>
<circle cx="412.3" cy="105.8" r="2.45" fill="#fff" stroke="#111" stroke-width="1.35"/>
<circle cx="407.8" cy="116.5" r="2.45" fill="#fff" stroke="#111" stroke-width="1.35"/>
<circle cx="416.7" cy="115.1" r="2.45" fill="#fff" stroke="#111" stroke-width="1.35"/>
<circle cx="407.8" cy="128.6" r="2.45" fill="#fff" stroke="#111" stroke-width="1.35"/>
<circle cx="421.0" cy="129.5" r="2.45" fill="#fff" stroke="#111" stroke-width="1.35"/>
<circle cx="416.7" cy="136.0" r="2.45" fill="#fff" stroke="#111" stroke-width="1.35"/>
<circle cx="403.5" cy="143.0" r="2.45" fill="#fff" stroke="#111" stroke-width="1.35"/>
<circle cx="408.3" cy="144.2" r="2.45" fill="#fff" stroke="#111" stroke-width="1.35"/>
<circle cx="416.7" cy="145.0" r="2.45" fill="#fff" stroke="#111" stroke-width="1.35"/>
<circle cx="404.4" cy="149.2" r="2.45" fill="#fff" stroke="#111" stroke-width="1.35"/>
<circle cx="409.7" cy="152.6" r="2.45" fill="#fff" stroke="#111" stroke-width="1.35"/>
<circle cx="415.2" cy="153.0" r="2.45" fill="#fff" stroke="#111" stroke-width="1.35"/>
<circle cx="420.6" cy="151.0" r="2.45" fill="#fff" stroke="#111" stroke-width="1.35"/>
<circle cx="400.8" cy="157.9" r="2.45" fill="#fff" stroke="#111" stroke-width="1.35"/>
<circle cx="416.2" cy="158.8" r="2.45" fill="#fff" stroke="#111" stroke-width="1.35"/>
<circle cx="424.1" cy="157.4" r="2.45" fill="#fff" stroke="#111" stroke-width="1.35"/>
<circle cx="400.8" cy="165.1" r="2.45" fill="#fff" stroke="#111" stroke-width="1.35"/>
<circle cx="408.3" cy="163.7" r="2.45" fill="#fff" stroke="#111" stroke-width="1.35"/>
<circle cx="419.3" cy="165.1" r="2.45" fill="#fff" stroke="#111" stroke-width="1.35"/>
<circle cx="424.1" cy="165.1" r="2.45" fill="#fff" stroke="#111" stroke-width="1.35"/>
<circle cx="404.9" cy="168.0" r="2.45" fill="#fff" stroke="#111" stroke-width="1.35"/>
<circle cx="408.8" cy="171.3" r="2.45" fill="#fff" stroke="#111" stroke-width="1.35"/>
<circle cx="416.4" cy="170.4" r="2.45" fill="#fff" stroke="#111" stroke-width="1.35"/>
<circle cx="400.8" cy="173.8" r="2.45" fill="#fff" stroke="#111" stroke-width="1.35"/>
<circle cx="412.6" cy="173.3" r="2.45" fill="#fff" stroke="#111" stroke-width="1.35"/>
<circle cx="424.1" cy="173.8" r="2.45" fill="#fff" stroke="#111" stroke-width="1.35"/>
<circle cx="400.0" cy="195.5" r="2.45" fill="#fff" stroke="#111" stroke-width="1.35"/>
<circle cx="407.2" cy="196.0" r="2.45" fill="#fff" stroke="#111" stroke-width="1.35"/>
<circle cx="412.6" cy="196.5" r="2.45" fill="#fff" stroke="#111" stroke-width="1.35"/>
<circle cx="418.0" cy="196.0" r="2.45" fill="#fff" stroke="#111" stroke-width="1.35"/>
<circle cx="424.7" cy="195.5" r="2.45" fill="#fff" stroke="#111" stroke-width="1.35"/>
<circle cx="403.0" cy="199.0" r="2.45" fill="#fff" stroke="#111" stroke-width="1.35"/>
<circle cx="409.0" cy="199.5" r="2.45" fill="#fff" stroke="#111" stroke-width="1.35"/>
<circle cx="415.5" cy="199.5" r="2.45" fill="#fff" stroke="#111" stroke-width="1.35"/>
<circle cx="421.5" cy="199.0" r="2.45" fill="#fff" stroke="#111" stroke-width="1.35"/>
<circle cx="400.6" cy="202.0" r="2.45" fill="#fff" stroke="#111" stroke-width="1.35"/>
<circle cx="406.4" cy="202.5" r="2.45" fill="#fff" stroke="#111" stroke-width="1.35"/>
<circle cx="412.3" cy="203.0" r="2.45" fill="#fff" stroke="#111" stroke-width="1.35"/>
<circle cx="418.1" cy="202.5" r="2.45" fill="#fff" stroke="#111" stroke-width="1.35"/>
<circle cx="424.0" cy="202.0" r="2.45" fill="#fff" stroke="#111" stroke-width="1.35"/>
<circle cx="403.0" cy="205.5" r="2.45" fill="#fff" stroke="#111" stroke-width="1.35"/>
<circle cx="409.0" cy="206.0" r="2.45" fill="#fff" stroke="#111" stroke-width="1.35"/>
<circle cx="415.5" cy="206.0" r="2.45" fill="#fff" stroke="#111" stroke-width="1.35"/>
<circle cx="421.0" cy="205.5" r="2.45" fill="#fff" stroke="#111" stroke-width="1.35"/>
<circle cx="406.4" cy="208.5" r="2.45" fill="#fff" stroke="#111" stroke-width="1.35"/>
<circle cx="412.3" cy="209.0" r="2.45" fill="#fff" stroke="#111" stroke-width="1.35"/>
<circle cx="417.4" cy="208.5" r="2.45" fill="#fff" stroke="#111" stroke-width="1.35"/>
<circle cx="402.0" cy="213.5" r="2.45" fill="#fff" stroke="#111" stroke-width="1.35"/>
<circle cx="407.2" cy="213.5" r="2.45" fill="#fff" stroke="#111" stroke-width="1.35"/>
<circle cx="412.3" cy="214.0" r="2.45" fill="#fff" stroke="#111" stroke-width="1.35"/>
<circle cx="417.4" cy="213.5" r="2.45" fill="#fff" stroke="#111" stroke-width="1.35"/>
<circle cx="422.5" cy="213.5" r="2.45" fill="#fff" stroke="#111" stroke-width="1.35"/>
<circle cx="406.0" cy="218.0" r="2.45" fill="#fff" stroke="#111" stroke-width="1.35"/>
<circle cx="410.0" cy="219.0" r="2.45" fill="#fff" stroke="#111" stroke-width="1.35"/>
<circle cx="414.5" cy="218.0" r="2.45" fill="#fff" stroke="#111" stroke-width="1.35"/>
<circle cx="400.0" cy="178.0" r="2.0" fill="#fff" stroke="#111" stroke-width="1.9"/>
<circle cx="405.1" cy="178.0" r="2.0" fill="#fff" stroke="#111" stroke-width="1.9"/>
<circle cx="410.2" cy="178.0" r="2.0" fill="#fff" stroke="#111" stroke-width="1.9"/>
<circle cx="415.3" cy="178.0" r="2.0" fill="#fff" stroke="#111" stroke-width="1.9"/>
<circle cx="420.4" cy="178.0" r="2.0" fill="#fff" stroke="#111" stroke-width="1.9"/>
<circle cx="425.5" cy="178.0" r="2.0" fill="#fff" stroke="#111" stroke-width="1.9"/>
<circle cx="402.0" cy="180.5" r="2.0" fill="#fff" stroke="#111" stroke-width="1.9"/>
<circle cx="406.3" cy="180.5" r="2.0" fill="#fff" stroke="#111" stroke-width="1.9"/>
<circle cx="410.6" cy="180.5" r="2.0" fill="#fff" stroke="#111" stroke-width="1.9"/>
<circle cx="414.9" cy="180.5" r="2.0" fill="#fff" stroke="#111" stroke-width="1.9"/>
<circle cx="419.2" cy="180.5" r="2.0" fill="#fff" stroke="#111" stroke-width="1.9"/>
<circle cx="423.5" cy="180.5" r="2.0" fill="#fff" stroke="#111" stroke-width="1.9"/>
<circle cx="401.0" cy="183.0" r="2.0" fill="#fff" stroke="#111" stroke-width="1.9"/>
<circle cx="405.7" cy="183.0" r="2.0" fill="#fff" stroke="#111" stroke-width="1.9"/>
<circle cx="410.4" cy="183.0" r="2.0" fill="#fff" stroke="#111" stroke-width="1.9"/>
<circle cx="415.1" cy="183.0" r="2.0" fill="#fff" stroke="#111" stroke-width="1.9"/>
<circle cx="419.8" cy="183.0" r="2.0" fill="#fff" stroke="#111" stroke-width="1.9"/>
<circle cx="424.5" cy="183.0" r="2.0" fill="#fff" stroke="#111" stroke-width="1.9"/>
<circle cx="403.5" cy="185.5" r="2.0" fill="#fff" stroke="#111" stroke-width="1.9"/>
<circle cx="408.0" cy="185.5" r="2.0" fill="#fff" stroke="#111" stroke-width="1.9"/>
<circle cx="412.5" cy="185.5" r="2.0" fill="#fff" stroke="#111" stroke-width="1.9"/>
<circle cx="417.0" cy="185.5" r="2.0" fill="#fff" stroke="#111" stroke-width="1.9"/>
<circle cx="421.5" cy="185.5" r="2.0" fill="#fff" stroke="#111" stroke-width="1.9"/>
<circle cx="405.5" cy="188.0" r="2.0" fill="#fff" stroke="#111" stroke-width="1.9"/>
<circle cx="410.2" cy="188.0" r="2.0" fill="#fff" stroke="#111" stroke-width="1.9"/>
<circle cx="414.8" cy="188.0" r="2.0" fill="#fff" stroke="#111" stroke-width="1.9"/>
<circle cx="419.5" cy="188.0" r="2.0" fill="#fff" stroke="#111" stroke-width="1.9"/>
<circle cx="408.0" cy="190.5" r="2.0" fill="#fff" stroke="#111" stroke-width="1.9"/>
<circle cx="412.5" cy="190.5" r="2.0" fill="#fff" stroke="#111" stroke-width="1.9"/>
<circle cx="417.0" cy="190.5" r="2.0" fill="#fff" stroke="#111" stroke-width="1.9"/>
<line x1="397.3" y1="176.8" x2="428.4" y2="176.8" stroke="#222" stroke-width="1.3"/>
<circle cx="458.3" cy="153.7" r="2.35" fill="#fff" stroke="#7a7a7a" stroke-width="1.15"/>
<circle cx="458.3" cy="162.6" r="2.35" fill="#fff" stroke="#7a7a7a" stroke-width="1.15"/>
<circle cx="462.1" cy="165.8" r="2.35" fill="#fff" stroke="#7a7a7a" stroke-width="1.15"/>
<circle cx="454.7" cy="170.6" r="2.35" fill="#fff" stroke="#7a7a7a" stroke-width="1.15"/>
<circle cx="446.5" cy="174.1" r="2.35" fill="#fff" stroke="#7a7a7a" stroke-width="1.15"/>
<circle cx="470.1" cy="173.2" r="2.35" fill="#fff" stroke="#7a7a7a" stroke-width="1.15"/>
<circle cx="452.5" cy="176.3" r="2.35" fill="#fff" stroke="#7a7a7a" stroke-width="1.15"/>
<circle cx="464.3" cy="175.1" r="2.35" fill="#fff" stroke="#7a7a7a" stroke-width="1.15"/>
<circle cx="458.3" cy="178.5" r="2.35" fill="#fff" stroke="#7a7a7a" stroke-width="1.15"/>
<circle cx="447.5" cy="181.8" r="2.35" fill="#fff" stroke="#7a7a7a" stroke-width="1.15"/>
<circle cx="454.7" cy="180.2" r="2.35" fill="#fff" stroke="#7a7a7a" stroke-width="1.15"/>
<circle cx="462.4" cy="179.4" r="2.35" fill="#fff" stroke="#7a7a7a" stroke-width="1.15"/>
<circle cx="469.1" cy="180.2" r="2.35" fill="#fff" stroke="#7a7a7a" stroke-width="1.15"/>
<circle cx="451.3" cy="183.8" r="2.35" fill="#fff" stroke="#7a7a7a" stroke-width="1.15"/>
<circle cx="465.8" cy="183.3" r="2.35" fill="#fff" stroke="#7a7a7a" stroke-width="1.15"/>
<circle cx="455.7" cy="186.2" r="2.35" fill="#fff" stroke="#7a7a7a" stroke-width="1.15"/>
<circle cx="460.2" cy="186.2" r="2.35" fill="#fff" stroke="#7a7a7a" stroke-width="1.15"/>
<circle cx="446.5" cy="190.5" r="2.35" fill="#fff" stroke="#7a7a7a" stroke-width="1.15"/>
<circle cx="450.9" cy="191.4" r="2.35" fill="#fff" stroke="#7a7a7a" stroke-width="1.15"/>
<circle cx="458.3" cy="192.0" r="2.35" fill="#fff" stroke="#7a7a7a" stroke-width="1.15"/>
<circle cx="465.8" cy="191.0" r="2.35" fill="#fff" stroke="#7a7a7a" stroke-width="1.15"/>
<circle cx="470.1" cy="189.5" r="2.35" fill="#fff" stroke="#7a7a7a" stroke-width="1.15"/>
<circle cx="450.9" cy="197.7" r="2.35" fill="#fff" stroke="#7a7a7a" stroke-width="1.15"/>
<circle cx="454.7" cy="195.3" r="2.35" fill="#fff" stroke="#7a7a7a" stroke-width="1.15"/>
<circle cx="458.3" cy="195.8" r="2.35" fill="#fff" stroke="#7a7a7a" stroke-width="1.15"/>
<circle cx="462.4" cy="193.4" r="2.35" fill="#fff" stroke="#7a7a7a" stroke-width="1.15"/>
<circle cx="465.8" cy="200.8" r="2.35" fill="#fff" stroke="#7a7a7a" stroke-width="1.15"/>
<circle cx="458.3" cy="203.7" r="2.35" fill="#fff" stroke="#7a7a7a" stroke-width="1.15"/>
<circle cx="465.8" cy="208.8" r="2.35" fill="#fff" stroke="#7a7a7a" stroke-width="1.15"/>
<circle cx="450.9" cy="212.6" r="2.35" fill="#fff" stroke="#7a7a7a" stroke-width="1.15"/>
<circle cx="458.3" cy="213.6" r="2.35" fill="#fff" stroke="#7a7a7a" stroke-width="1.15"/>
<circle cx="462.1" cy="219.6" r="2.35" fill="#fff" stroke="#7a7a7a" stroke-width="1.15"/>
<circle cx="454.7" cy="225.1" r="2.35" fill="#fff" stroke="#7a7a7a" stroke-width="1.15"/>
<line x1="443.2" y1="188.1" x2="472.5" y2="188.1" stroke="#333" stroke-width="1.4"/>
<line x1="93.5" y1="294" x2="93.5" y2="423" stroke="#111" stroke-width="2"/>
<line x1="88.5" y1="298.5" x2="93.5" y2="298.5" stroke="#111" stroke-width="1.8"/>
<text x="0" y="0" font-size="11.3" text-anchor="end" fill="#3a3a3a" transform="translate(83,302.6) scale(1.1,1)">32768</text>
<line x1="88.5" y1="340" x2="93.5" y2="340" stroke="#111" stroke-width="1.8"/>
<text x="0" y="0" font-size="11.3" text-anchor="end" fill="#3a3a3a" transform="translate(83,344.1) scale(1.1,1)">1024</text>
<line x1="88.5" y1="381.5" x2="93.5" y2="381.5" stroke="#111" stroke-width="1.8"/>
<text x="0" y="0" font-size="11.3" text-anchor="end" fill="#3a3a3a" transform="translate(83,385.6) scale(1.1,1)">32</text>
<line x1="88.5" y1="423" x2="93.5" y2="423" stroke="#111" stroke-width="1.8"/>
<text x="0" y="0" font-size="11.3" text-anchor="end" fill="#3a3a3a" transform="translate(83,427.1) scale(1.1,1)">1</text>
<line x1="89" y1="423" x2="260.5" y2="423" stroke="#111" stroke-width="2"/>
<line x1="146.5" y1="423" x2="146.5" y2="428.5" stroke="#111" stroke-width="1.8"/>
<text x="0" y="0" font-size="11" text-anchor="middle" fill="#3a3a3a" transform="translate(146.5,443.6) scale(1.14,1)">cHL</text>
<line x1="223" y1="423" x2="223" y2="428.5" stroke="#111" stroke-width="1.8"/>
<text x="0" y="0" font-size="11" text-anchor="middle" fill="#3a3a3a" transform="translate(223,443.6) scale(1.14,1)">DLBCL</text>
<text x="0" y="0" font-size="11.5" text-anchor="middle" fill="#3a3a3a" transform="translate(38.3,358.6) rotate(-90) scale(1.0,1.18)">CD163 gene counts</text>
<rect x="118.8" y="339.8" width="53.89999999999999" height="22.899999999999977" fill="#2c4a80"/>
<line x1="146.2" y1="321.5" x2="146.2" y2="339.8" stroke="#2c4a80" stroke-width="1.6"/>
<line x1="134.2" y1="321.5" x2="158.2" y2="321.5" stroke="#2c4a80" stroke-width="1.6"/>
<line x1="146.2" y1="362.7" x2="146.2" y2="391.8" stroke="#2c4a80" stroke-width="1.6"/>
<line x1="134.2" y1="391.8" x2="158.2" y2="391.8" stroke="#2c4a80" stroke-width="1.6"/>
<rect x="196.9" y="350.3" width="53.900000000000006" height="72.69999999999999" fill="#a6002b"/>
<line x1="223.4" y1="339.8" x2="223.4" y2="350.3" stroke="#a6002b" stroke-width="1.6"/>
<line x1="211.4" y1="339.8" x2="235.4" y2="339.8" stroke="#a6002b" stroke-width="1.6"/>
<line x1="156" y1="303.7" x2="229.4" y2="303.7" stroke="#111" stroke-width="1.8"/><polyline points="162.2,300.4 155.8,303.7 162.2,307.0" fill="none" stroke="#111" stroke-width="1.8" stroke-linejoin="miter"/><polyline points="223.20000000000002,300.4 229.6,303.7 223.20000000000002,307.0" fill="none" stroke="#111" stroke-width="1.8" stroke-linejoin="miter"/><polygon points="188.17,294.96 188.81,296.68 190.64,296.76 189.21,297.90 189.69,299.66 188.17,298.65 186.64,299.66 187.13,297.90 185.69,296.76 187.52,296.68" fill="#1a1a1a"/><polygon points="192.90,294.96 193.54,296.68 195.37,296.76 193.94,297.90 194.43,299.66 192.90,298.65 191.37,299.66 191.86,297.90 190.43,296.76 192.26,296.68" fill="#1a1a1a"/><polygon points="197.63,294.96 198.28,296.68 200.11,296.76 198.67,297.90 199.16,299.66 197.63,298.65 196.11,299.66 196.59,297.90 195.16,296.76 196.99,296.68" fill="#1a1a1a"/>
<line x1="343" y1="295.7" x2="343" y2="423" stroke="#111" stroke-width="2"/>
<line x1="338" y1="299.6" x2="343" y2="299.6" stroke="#111" stroke-width="1.8"/>
<text x="0" y="0" font-size="11.3" text-anchor="end" fill="#3a3a3a" transform="translate(332,303.7) scale(1.1,1)">32768</text>
<line x1="338" y1="340.8" x2="343" y2="340.8" stroke="#111" stroke-width="1.8"/>
<text x="0" y="0" font-size="11.3" text-anchor="end" fill="#3a3a3a" transform="translate(332,344.9) scale(1.1,1)">1024</text>
<line x1="338" y1="382" x2="343" y2="382" stroke="#111" stroke-width="1.8"/>
<text x="0" y="0" font-size="11.3" text-anchor="end" fill="#3a3a3a" transform="translate(332,386.1) scale(1.1,1)">32</text>
<line x1="338" y1="423" x2="343" y2="423" stroke="#111" stroke-width="1.8"/>
<text x="0" y="0" font-size="11.3" text-anchor="end" fill="#3a3a3a" transform="translate(332,427.1) scale(1.1,1)">1</text>
<line x1="338" y1="423" x2="509.3" y2="423" stroke="#111" stroke-width="2"/>
<line x1="395.4" y1="423" x2="395.4" y2="428.5" stroke="#111" stroke-width="1.8"/>
<text x="0" y="0" font-size="11" text-anchor="middle" fill="#3a3a3a" transform="translate(395.4,443.6) scale(1.14,1)">cHL</text>
<line x1="472.9" y1="423" x2="472.9" y2="428.5" stroke="#111" stroke-width="1.8"/>
<text x="0" y="0" font-size="11" text-anchor="middle" fill="#3a3a3a" transform="translate(472.9,443.6) scale(1.14,1)">DLBCL</text>
<text x="0" y="0" font-size="11.5" text-anchor="middle" fill="#3a3a3a" transform="translate(289,359) rotate(-90) scale(1.0,1.18)">CD68 gene counts</text>
<rect x="367.6" y="334.9" width="54.599999999999966" height="10.5" fill="#2c4a80"/>
<line x1="395.4" y1="322.8" x2="395.4" y2="334.9" stroke="#2c4a80" stroke-width="1.6"/>
<line x1="383.4" y1="322.8" x2="407.4" y2="322.8" stroke="#2c4a80" stroke-width="1.6"/>
<line x1="395.4" y1="345.4" x2="395.4" y2="354.2" stroke="#2c4a80" stroke-width="1.6"/>
<line x1="383.4" y1="354.2" x2="407.4" y2="354.2" stroke="#2c4a80" stroke-width="1.6"/>
<rect x="446" y="348.6" width="54.10000000000002" height="74.39999999999998" fill="#a6002b"/>
<line x1="472.9" y1="342.2" x2="472.9" y2="348.6" stroke="#a6002b" stroke-width="1.6"/>
<line x1="460.9" y1="342.2" x2="484.9" y2="342.2" stroke="#a6002b" stroke-width="1.6"/>
<line x1="403" y1="304.5" x2="476.8" y2="304.5" stroke="#111" stroke-width="1.8"/><polyline points="409.2,301.2 402.8,304.5 409.2,307.8" fill="none" stroke="#111" stroke-width="1.8" stroke-linejoin="miter"/><polyline points="470.6,301.2 477.0,304.5 470.6,307.8" fill="none" stroke="#111" stroke-width="1.8" stroke-linejoin="miter"/><polygon points="434.83,295.86 435.48,297.58 437.31,297.66 435.87,298.80 436.36,300.56 434.83,299.55 433.31,300.56 433.79,298.80 432.36,297.66 434.19,297.58" fill="#1a1a1a"/><polygon points="439.50,295.86 440.14,297.58 441.97,297.66 440.54,298.80 441.03,300.56 439.50,299.55 437.97,300.56 438.46,298.80 437.03,297.66 438.86,297.58" fill="#1a1a1a"/><polygon points="444.17,295.86 444.81,297.58 446.64,297.66 445.21,298.80 445.69,300.56 444.17,299.55 442.64,300.56 443.13,298.80 441.69,297.66 443.52,297.58" fill="#1a1a1a"/>
<line x1="94" y1="470" x2="94" y2="598.5" stroke="#111" stroke-width="2"/>
<line x1="89" y1="598.5" x2="94" y2="598.5" stroke="#111" stroke-width="1.8"/>
<text x="0" y="0" font-size="11.8" text-anchor="end" fill="#3a3a3a" transform="translate(82.5,602.0) scale(0.98,1)">1</text>
<line x1="89" y1="586.09" x2="94" y2="586.09" stroke="#111" stroke-width="1.8"/>
<text x="0" y="0" font-size="11.8" text-anchor="end" fill="#3a3a3a" transform="translate(82.5,589.6) scale(0.98,1)">2</text>
<line x1="89" y1="573.68" x2="94" y2="573.68" stroke="#111" stroke-width="1.8"/>
<text x="0" y="0" font-size="11.8" text-anchor="end" fill="#3a3a3a" transform="translate(82.5,577.2) scale(0.98,1)">4</text>
<line x1="89" y1="561.27" x2="94" y2="561.27" stroke="#111" stroke-width="1.8"/>
<text x="0" y="0" font-size="11.8" text-anchor="end" fill="#3a3a3a" transform="translate(82.5,564.8) scale(0.98,1)">8</text>
<line x1="89" y1="548.86" x2="94" y2="548.86" stroke="#111" stroke-width="1.8"/>
<text x="0" y="0" font-size="11.8" text-anchor="end" fill="#3a3a3a" transform="translate(82.5,552.4) scale(0.98,1)">16</text>
<line x1="89" y1="536.45" x2="94" y2="536.45" stroke="#111" stroke-width="1.8"/>
<text x="0" y="0" font-size="11.8" text-anchor="end" fill="#3a3a3a" transform="translate(82.5,540.0) scale(0.98,1)">32</text>
<line x1="89" y1="524.04" x2="94" y2="524.04" stroke="#111" stroke-width="1.8"/>
<text x="0" y="0" font-size="11.8" text-anchor="end" fill="#3a3a3a" transform="translate(82.5,527.6) scale(0.98,1)">64</text>
<line x1="89" y1="511.63" x2="94" y2="511.63" stroke="#111" stroke-width="1.8"/>
<text x="0" y="0" font-size="11.8" text-anchor="end" fill="#3a3a3a" transform="translate(82.5,515.2) scale(0.98,1)">128</text>
<line x1="89" y1="499.22" x2="94" y2="499.22" stroke="#111" stroke-width="1.8"/>
<text x="0" y="0" font-size="11.8" text-anchor="end" fill="#3a3a3a" transform="translate(82.5,502.8) scale(0.98,1)">256</text>
<line x1="89" y1="486.81" x2="94" y2="486.81" stroke="#111" stroke-width="1.8"/>
<text x="0" y="0" font-size="11.8" text-anchor="end" fill="#3a3a3a" transform="translate(82.5,490.4) scale(0.98,1)">512</text>
<line x1="89" y1="474.4" x2="94" y2="474.4" stroke="#111" stroke-width="1.8"/>
<text x="0" y="0" font-size="11.8" text-anchor="end" fill="#3a3a3a" transform="translate(82.5,477.9) scale(0.98,1)">1024</text>
<line x1="89" y1="598.5" x2="260.5" y2="598.5" stroke="#111" stroke-width="2"/>
<line x1="146.5" y1="598.5" x2="146.5" y2="604.0" stroke="#111" stroke-width="1.8"/>
<text x="0" y="0" font-size="11" text-anchor="middle" fill="#3a3a3a" transform="translate(146.5,619.6) scale(1.14,1)">cHL</text>
<line x1="223" y1="598.5" x2="223" y2="604.0" stroke="#111" stroke-width="1.8"/>
<text x="0" y="0" font-size="11" text-anchor="middle" fill="#3a3a3a" transform="translate(223,619.6) scale(1.14,1)">DLBCL</text>
<text x="0" y="0" font-size="11.5" text-anchor="middle" fill="#3a3a3a" transform="translate(44.5,534.7) rotate(-90) scale(1.0,1.18)">PD-L1 gene counts</text>
<rect x="118.5" y="495" width="54.400000000000006" height="22.200000000000045" fill="#2c4a80"/>
<line x1="145.5" y1="482.6" x2="145.5" y2="495" stroke="#2c4a80" stroke-width="1.6"/>
<line x1="133.5" y1="482.6" x2="157.5" y2="482.6" stroke="#2c4a80" stroke-width="1.6"/>
<line x1="145.5" y1="517.2" x2="145.5" y2="541.3" stroke="#2c4a80" stroke-width="1.6"/>
<line x1="133.5" y1="541.3" x2="157.5" y2="541.3" stroke="#2c4a80" stroke-width="1.6"/>
<rect x="196.3" y="517.2" width="54.5" height="81.29999999999995" fill="#a6002b"/>
<line x1="223" y1="503.6" x2="223" y2="517.2" stroke="#a6002b" stroke-width="1.6"/>
<line x1="211.0" y1="503.6" x2="235.0" y2="503.6" stroke="#a6002b" stroke-width="1.6"/>
<line x1="148.7" y1="469.5" x2="222" y2="469.5" stroke="#111" stroke-width="1.8"/><polyline points="154.89999999999998,466.2 148.5,469.5 154.89999999999998,472.8" fill="none" stroke="#111" stroke-width="1.8" stroke-linejoin="miter"/><polyline points="215.8,466.2 222.2,469.5 215.8,472.8" fill="none" stroke="#111" stroke-width="1.8" stroke-linejoin="miter"/><polygon points="181.33,460.86 181.98,462.58 183.81,462.66 182.37,463.80 182.86,465.56 181.33,464.55 179.81,465.56 180.29,463.80 178.86,462.66 180.69,462.58" fill="#1a1a1a"/><polygon points="186.00,460.86 186.64,462.58 188.47,462.66 187.04,463.80 187.53,465.56 186.00,464.55 184.47,465.56 184.96,463.80 183.53,462.66 185.36,462.58" fill="#1a1a1a"/><polygon points="190.67,460.86 191.31,462.58 193.14,462.66 191.71,463.80 192.19,465.56 190.67,464.55 189.14,465.56 189.63,463.80 188.19,462.66 190.02,462.58" fill="#1a1a1a"/>
<line x1="343" y1="470.6" x2="343" y2="598.1" stroke="#111" stroke-width="2"/>
<line x1="338" y1="598.1" x2="343" y2="598.1" stroke="#111" stroke-width="1.8"/>
<text x="0" y="0" font-size="11.8" text-anchor="end" fill="#3a3a3a" transform="translate(331.5,601.6) scale(0.98,1)">1</text>
<line x1="338" y1="584.35" x2="343" y2="584.35" stroke="#111" stroke-width="1.8"/>
<text x="0" y="0" font-size="11.8" text-anchor="end" fill="#3a3a3a" transform="translate(331.5,587.9) scale(0.98,1)">2</text>
<line x1="338" y1="570.6" x2="343" y2="570.6" stroke="#111" stroke-width="1.8"/>
<text x="0" y="0" font-size="11.8" text-anchor="end" fill="#3a3a3a" transform="translate(331.5,574.1) scale(0.98,1)">4</text>
<line x1="338" y1="556.85" x2="343" y2="556.85" stroke="#111" stroke-width="1.8"/>
<text x="0" y="0" font-size="11.8" text-anchor="end" fill="#3a3a3a" transform="translate(331.5,560.4) scale(0.98,1)">8</text>
<line x1="338" y1="543.1" x2="343" y2="543.1" stroke="#111" stroke-width="1.8"/>
<text x="0" y="0" font-size="11.8" text-anchor="end" fill="#3a3a3a" transform="translate(331.5,546.6) scale(0.98,1)">16</text>
<line x1="338" y1="529.35" x2="343" y2="529.35" stroke="#111" stroke-width="1.8"/>
<text x="0" y="0" font-size="11.8" text-anchor="end" fill="#3a3a3a" transform="translate(331.5,532.9) scale(0.98,1)">32</text>
<line x1="338" y1="515.6" x2="343" y2="515.6" stroke="#111" stroke-width="1.8"/>
<text x="0" y="0" font-size="11.8" text-anchor="end" fill="#3a3a3a" transform="translate(331.5,519.1) scale(0.98,1)">64</text>
<line x1="338" y1="501.85" x2="343" y2="501.85" stroke="#111" stroke-width="1.8"/>
<text x="0" y="0" font-size="11.8" text-anchor="end" fill="#3a3a3a" transform="translate(331.5,505.4) scale(0.98,1)">128</text>
<line x1="338" y1="488.1" x2="343" y2="488.1" stroke="#111" stroke-width="1.8"/>
<text x="0" y="0" font-size="11.8" text-anchor="end" fill="#3a3a3a" transform="translate(331.5,491.6) scale(0.98,1)">256</text>
<line x1="338" y1="474.35" x2="343" y2="474.35" stroke="#111" stroke-width="1.8"/>
<text x="0" y="0" font-size="11.8" text-anchor="end" fill="#3a3a3a" transform="translate(331.5,477.9) scale(0.98,1)">512</text>
<line x1="338" y1="598.1" x2="509.3" y2="598.1" stroke="#111" stroke-width="2"/>
<line x1="395.4" y1="598.1" x2="395.4" y2="603.6" stroke="#111" stroke-width="1.8"/>
<text x="0" y="0" font-size="11" text-anchor="middle" fill="#3a3a3a" transform="translate(395.4,619.6) scale(1.14,1)">cHL</text>
<line x1="473" y1="598.1" x2="473" y2="603.6" stroke="#111" stroke-width="1.8"/>
<text x="0" y="0" font-size="11" text-anchor="middle" fill="#3a3a3a" transform="translate(473,619.6) scale(1.14,1)">DLBCL</text>
<text x="0" y="0" font-size="11.5" text-anchor="middle" fill="#3a3a3a" transform="translate(302.5,534) rotate(-90) scale(1.0,1.18)">PD-L2 gene counts</text>
<rect x="367.8" y="492.5" width="54.5" height="17.30000000000001" fill="#2c4a80"/>
<line x1="395.2" y1="481.5" x2="395.2" y2="492.5" stroke="#2c4a80" stroke-width="1.6"/>
<line x1="383.2" y1="481.5" x2="407.2" y2="481.5" stroke="#2c4a80" stroke-width="1.6"/>
<line x1="395.2" y1="509.8" x2="395.2" y2="568.5" stroke="#2c4a80" stroke-width="1.6"/>
<line x1="383.2" y1="568.5" x2="407.2" y2="568.5" stroke="#2c4a80" stroke-width="1.6"/>
<rect x="446" y="507.9" width="54.19999999999999" height="90.20000000000005" fill="#a6002b"/>
<line x1="473" y1="494.4" x2="473" y2="507.9" stroke="#a6002b" stroke-width="1.6"/>
<line x1="461.0" y1="494.4" x2="485.0" y2="494.4" stroke="#a6002b" stroke-width="1.6"/>
<line x1="398.7" y1="468.8" x2="472" y2="468.8" stroke="#111" stroke-width="1.8"/><polyline points="404.9,465.5 398.5,468.8 404.9,472.1" fill="none" stroke="#111" stroke-width="1.8" stroke-linejoin="miter"/><polyline points="465.8,465.5 472.2,468.8 465.8,472.1" fill="none" stroke="#111" stroke-width="1.8" stroke-linejoin="miter"/><polygon points="430.83,460.26 431.48,461.98 433.31,462.06 431.87,463.20 432.36,464.96 430.83,463.95 429.31,464.96 429.79,463.20 428.36,462.06 430.19,461.98" fill="#1a1a1a"/><polygon points="435.50,460.26 436.14,461.98 437.97,462.06 436.54,463.20 437.03,464.96 435.50,463.95 433.97,464.96 434.46,463.20 433.03,462.06 434.86,461.98" fill="#1a1a1a"/><polygon points="440.17,460.26 440.81,461.98 442.64,462.06 441.21,463.20 441.69,464.96 440.17,463.95 438.64,464.96 439.13,463.20 437.69,462.06 439.52,461.98" fill="#1a1a1a"/>
<defs>
<filter id="texA" x="0" y="0" width="1" height="1" color-interpolation-filters="sRGB">
 <feTurbulence type="fractalNoise" baseFrequency="0.14" numOctaves="3" seed="4" result="n"/>
 <feColorMatrix in="n" type="matrix" values="0.3 0 0 0 -0.16  0.4 0 0 0 -0.21  1.05 0 0 0 0.0  0 0 0 0 1" result="b"/>
 <feColorMatrix in="n" type="matrix" values="0 0 0 0 0.02  0 0 0 0 0.02  0 0 0 0 0.22  0 -5 0 0 2.25" result="d"/>
 <feColorMatrix in="n" type="matrix" values="0 0 0 0 0.22  0 0 0 0 0.68  0 0 0 0 0.78  0 0 6 0 -4.1" result="c"/>
 <feComposite in="d" in2="b" operator="over" result="bd"/>
 <feComposite in="c" in2="bd" operator="over" result="bc"/>
 <feGaussianBlur in="bc" stdDeviation="0.4"/>
</filter>
<filter id="texB" x="0" y="0" width="1" height="1" color-interpolation-filters="sRGB">
 <feTurbulence type="fractalNoise" baseFrequency="0.14 0.26" numOctaves="3" seed="9" result="n"/>
 <feColorMatrix in="n" type="matrix" values="0.15 1.55 0 0 -0.64  0.4 0 0 0 -0.25  1.1 0.35 0 0 -0.08  0 0 0 0 1" result="b"/>
 <feColorMatrix in="n" type="matrix" values="0 0 0 0 0.04  0 0 0 0 0.02  0 0 0 0 0.16  0 0 0 -6 2.45" result="d"/>
 <feColorMatrix in="n" type="matrix" values="0 0 0 0 0.3  0 0 0 0 0.8  0 0 0 0 0.85  0 0 6 0 -4.0" result="c"/>
 <feComposite in="d" in2="b" operator="over" result="bd"/>
 <feComposite in="c" in2="bd" operator="over" result="bc"/>
 <feGaussianBlur in="bc" stdDeviation="0.4"/>
</filter>
<filter id="blur2" x="-20%" y="-20%" width="140%" height="140%"><feGaussianBlur stdDeviation="0.5"/></filter>
<clipPath id="clA"><rect x="56.2" y="678" width="137.8" height="130.7"/></clipPath><clipPath id="clB"><rect x="198.8" y="678" width="137.2" height="130.7"/></clipPath></defs>
<text x="0" y="0" font-size="14.3" text-anchor="middle" fill="#3a3a3a" transform="translate(126,670.6) scale(1,1.05)">cHL</text>
<text x="0" y="0" font-size="14.3" text-anchor="middle" fill="#3a3a3a" transform="translate(267.5,670.6) scale(1,1.05)">DLBCL</text>
<g clip-path="url(#clA)">
<rect x="56.2" y="678" width="137.8" height="130.7" filter="url(#texA)"/>
<g filter="url(#blur2)">
<circle cx="76.8" cy="758" r="3.4" fill="#04042a" opacity="0.85"/>
<circle cx="96" cy="755" r="2.8" fill="#04042a" opacity="0.85"/>
<circle cx="134.2" cy="744.2" r="2.4" fill="#04042a" opacity="0.85"/>
<circle cx="101.4" cy="717" r="2.4" fill="#04042a" opacity="0.85"/>
<circle cx="137" cy="758" r="2.4" fill="#04042a" opacity="0.85"/>
<circle cx="90" cy="800" r="2.2" fill="#04042a" opacity="0.85"/>
<circle cx="170" cy="718" r="2" fill="#04042a" opacity="0.85"/>
<circle cx="183" cy="790" r="2.2" fill="#04042a" opacity="0.85"/>
<circle cx="62" cy="738" r="2" fill="#04042a" opacity="0.85"/>
<path d="M62.6,719.7 C62.6,720.5 62.5,721.5 61.9,721.9 C61.4,722.3 60.0,722.5 59.3,722.1 C58.6,721.8 57.7,720.4 57.8,719.7 C57.8,719.0 59.1,718.6 59.7,718.2 C60.3,717.7 61.1,717.0 61.6,717.2 C62.0,717.5 62.5,718.9 62.6,719.7Z" fill="#48b8e0" opacity="0.35"/>
<path d="M62.8,720.0 C62.8,720.7 63.3,721.2 62.8,721.7 C62.3,722.1 60.8,722.6 60.0,722.5 C59.3,722.5 58.7,722.0 58.5,721.4 C58.2,720.8 58.3,719.5 58.7,718.9 C59.0,718.3 59.9,718.1 60.6,717.9 C61.3,717.7 62.5,717.2 62.8,717.6 C63.2,718.0 62.8,719.4 62.8,720.0Z" fill="none" stroke="#48b8e0" stroke-width="1.1" opacity="0.76" stroke-dasharray="2.3 1.2"/>
<path d="M70.3,714.0 C70.4,714.8 69.8,716.1 69.0,716.6 C68.2,717.1 66.2,717.3 65.6,716.9 C64.9,716.5 64.9,714.8 65.0,714.0 C65.1,713.2 65.7,712.6 66.3,712.2 C66.8,711.9 67.6,711.7 68.2,712.0 C68.9,712.3 70.1,713.2 70.3,714.0Z" fill="#50d8e0" opacity="0.40"/>
<path d="M69.9,713.8 C69.9,714.7 69.1,716.0 68.6,716.5 C68.1,717.0 67.5,717.1 67.0,716.8 C66.4,716.5 65.5,715.4 65.3,714.7 C65.0,714.0 65.4,713.3 65.7,712.6 C66.0,711.9 66.6,710.9 67.0,710.6 C67.5,710.3 68.1,710.4 68.6,710.9 C69.0,711.4 69.8,712.8 69.9,713.8Z" fill="none" stroke="#50d8e0" stroke-width="1.0" opacity="0.87" stroke-dasharray="3.2 0.8"/>
<path d="M88.1,738.8 C88.0,739.6 86.9,740.5 86.1,740.9 C85.3,741.3 83.9,741.6 83.3,741.2 C82.6,740.9 82.0,739.6 82.1,738.8 C82.2,738.0 83.1,736.9 83.8,736.4 C84.5,735.9 85.8,735.4 86.5,735.8 C87.2,736.3 88.2,738.0 88.1,738.8Z" fill="#3cc8d8" opacity="0.34"/>
<path d="M87.5,739.5 C87.5,740.2 87.2,740.7 86.8,741.1 C86.4,741.4 85.6,741.8 85.0,741.5 C84.3,741.3 83.1,740.3 82.7,739.6 C82.3,738.9 82.3,738.0 82.7,737.3 C83.0,736.6 84.1,735.5 84.8,735.5 C85.6,735.4 86.6,736.2 87.0,736.9 C87.4,737.6 87.5,738.8 87.5,739.5Z" fill="none" stroke="#3cc8d8" stroke-width="1.2" opacity="0.81" stroke-dasharray="3.4 0.9"/>
<path d="M93.0,747.0 C92.9,747.8 92.5,749.4 91.9,749.8 C91.3,750.2 89.8,749.6 89.2,749.2 C88.7,748.7 88.6,747.7 88.6,747.0 C88.7,746.3 89.0,745.0 89.6,744.7 C90.2,744.4 91.6,744.9 92.1,745.3 C92.7,745.6 93.0,746.2 93.0,747.0Z" fill="#48b8e0" opacity="0.43"/>
<path d="M92.7,747.4 C92.6,748.0 92.6,748.4 92.0,748.7 C91.5,749.1 90.2,749.3 89.4,749.3 C88.6,749.3 87.5,749.4 87.2,748.7 C86.9,747.9 87.2,745.5 87.6,744.8 C88.0,744.0 89.0,744.2 89.8,744.2 C90.6,744.3 92.1,744.5 92.6,745.0 C93.0,745.6 92.8,746.8 92.7,747.4Z" fill="none" stroke="#48b8e0" stroke-width="1.6" opacity="0.86" stroke-dasharray="2.8 1.0"/>
<path d="M107.3,733.3 C107.3,734.2 106.9,736.1 106.1,736.6 C105.4,737.0 103.8,736.4 103.0,735.9 C102.2,735.4 101.2,734.0 101.2,733.3 C101.1,732.6 101.9,731.8 102.7,731.4 C103.5,731.1 105.2,730.6 106.0,730.9 C106.8,731.2 107.3,732.4 107.3,733.3Z" fill="#60e0d8" opacity="0.40"/>
<path d="M107.8,733.4 C107.7,734.2 106.4,735.3 105.5,735.8 C104.6,736.3 103.1,736.8 102.4,736.5 C101.7,736.2 101.6,734.5 101.3,733.8 C100.9,733.1 100.1,733.0 100.4,732.3 C100.8,731.6 102.4,729.9 103.3,729.6 C104.2,729.4 105.0,730.3 105.7,730.9 C106.5,731.5 107.8,732.6 107.8,733.4Z" fill="none" stroke="#60e0d8" stroke-width="1.0" opacity="0.78" stroke-dasharray="3.0 1.6"/>
<path d="M150.5,711.5 C150.5,712.1 150.0,712.9 149.3,713.4 C148.6,713.8 147.0,714.4 146.3,714.1 C145.6,713.8 145.1,712.3 145.1,711.5 C145.1,710.7 145.6,709.7 146.2,709.4 C146.9,709.1 148.3,709.5 149.0,709.9 C149.7,710.2 150.4,710.9 150.5,711.5Z" fill="#2aa8c8" opacity="0.46"/>
<path d="M150.7,711.8 C150.8,712.5 149.6,713.0 148.9,713.3 C148.2,713.7 147.3,714.2 146.8,714.0 C146.2,713.9 145.7,713.0 145.4,712.4 C145.2,711.7 144.9,710.6 145.2,710.0 C145.5,709.4 146.8,708.7 147.4,708.6 C148.0,708.5 148.0,709.0 148.6,709.5 C149.2,710.1 150.7,711.2 150.7,711.8Z" fill="none" stroke="#2aa8c8" stroke-width="1.6" opacity="0.82" stroke-dasharray="3.3 1.1"/>
<path d="M155.2,706.0 C155.2,706.7 154.9,707.3 154.4,707.7 C153.9,708.0 152.8,708.4 152.3,708.1 C151.7,707.8 151.1,706.7 151.1,706.0 C151.1,705.3 151.8,704.1 152.3,703.7 C152.9,703.2 154.1,703.0 154.6,703.4 C155.1,703.8 155.3,705.3 155.2,706.0Z" fill="#50d8e0" opacity="0.40"/>
<path d="M156.0,705.2 C155.9,706.0 155.8,707.2 155.4,708.0 C154.9,708.7 154.0,709.7 153.3,709.6 C152.7,709.4 151.7,707.9 151.4,707.1 C151.0,706.3 151.1,705.5 151.3,704.9 C151.5,704.2 152.0,703.6 152.8,703.3 C153.5,703.0 155.3,702.9 155.8,703.2 C156.3,703.5 156.1,704.4 156.0,705.2Z" fill="none" stroke="#50d8e0" stroke-width="1.1" opacity="0.93"/>
<path d="M172.3,703.3 C172.3,703.9 171.5,704.6 170.9,705.0 C170.3,705.3 169.1,705.7 168.5,705.4 C168.0,705.2 167.7,704.1 167.7,703.3 C167.7,702.5 168.2,701.0 168.8,700.7 C169.4,700.3 170.5,700.9 171.1,701.3 C171.7,701.7 172.3,702.7 172.3,703.3Z" fill="#60e0d8" opacity="0.33"/>
<path d="M173.0,703.0 C172.9,703.6 172.0,704.9 171.2,705.4 C170.5,705.8 169.1,705.8 168.4,705.7 C167.7,705.5 167.3,705.2 167.0,704.6 C166.7,704.1 166.4,702.8 166.7,702.1 C166.9,701.4 167.7,700.8 168.5,700.7 C169.3,700.6 170.7,701.3 171.5,701.7 C172.2,702.0 173.0,702.3 173.0,703.0Z" fill="none" stroke="#60e0d8" stroke-width="1.5" opacity="0.83" stroke-dasharray="2.0 1.9"/>
<path d="M180.1,711.5 C180.1,712.4 179.5,713.6 178.9,713.9 C178.3,714.3 177.3,713.8 176.6,713.4 C176.0,713.0 174.8,712.2 174.8,711.5 C174.9,710.8 176.3,709.7 177.0,709.2 C177.7,708.7 178.5,708.2 179.0,708.6 C179.5,709.0 180.2,710.6 180.1,711.5Z" fill="#2aa8c8" opacity="0.45"/>
<path d="M181.4,710.8 C181.5,711.5 180.7,713.0 180.0,713.6 C179.3,714.2 178.1,714.6 177.3,714.5 C176.4,714.3 175.4,713.3 174.9,712.7 C174.5,712.1 174.4,711.4 174.7,710.8 C175.1,710.1 176.2,709.0 176.9,708.8 C177.7,708.6 178.5,709.1 179.3,709.4 C180.0,709.7 181.3,710.1 181.4,710.8Z" fill="none" stroke="#2aa8c8" stroke-width="1.1" opacity="0.77" stroke-dasharray="2.9 1.2"/>
<path d="M184.7,706.0 C184.7,706.6 184.9,707.1 184.5,707.4 C184.1,707.6 182.6,707.7 182.1,707.5 C181.6,707.2 181.2,706.6 181.3,706.0 C181.3,705.4 181.6,704.2 182.2,703.9 C182.7,703.6 184.3,703.6 184.7,704.0 C185.1,704.3 184.8,705.4 184.7,706.0Z" fill="#48b8e0" opacity="0.46"/>
<path d="M185.9,706.3 C185.9,707.0 184.8,707.8 184.3,708.1 C183.7,708.3 183.0,708.0 182.5,707.9 C182.0,707.9 181.6,708.3 181.3,707.8 C181.1,707.3 180.8,705.4 181.1,704.8 C181.3,704.2 182.2,704.2 182.8,704.0 C183.4,703.8 184.0,703.3 184.5,703.7 C185.0,704.1 185.9,705.6 185.9,706.3Z" fill="none" stroke="#48b8e0" stroke-width="1.5" opacity="0.82"/>
<path d="M166.7,725.0 C166.7,725.8 165.7,727.4 165.1,727.7 C164.5,727.9 163.5,727.1 163.1,726.7 C162.6,726.2 162.3,725.6 162.3,725.0 C162.3,724.4 162.5,723.2 163.0,722.8 C163.5,722.4 164.5,722.5 165.1,722.8 C165.8,723.2 166.7,724.2 166.7,725.0Z" fill="#2aa8c8" opacity="0.37"/>
<path d="M167.6,725.2 C167.7,726.0 167.8,726.7 167.0,727.2 C166.1,727.6 163.4,728.0 162.6,727.8 C161.8,727.6 162.4,726.7 162.1,726.1 C161.8,725.5 160.8,724.7 160.9,724.1 C161.1,723.6 162.2,723.1 163.1,722.9 C164.0,722.6 165.5,722.2 166.2,722.6 C167.0,723.0 167.5,724.5 167.6,725.2Z" fill="none" stroke="#2aa8c8" stroke-width="1.1" opacity="0.73"/>
<path d="M174.6,730.6 C174.6,731.2 174.2,731.7 173.7,731.9 C173.2,732.2 172.0,732.4 171.4,732.2 C170.8,731.9 170.3,731.1 170.2,730.6 C170.2,730.1 170.6,729.3 171.1,729.0 C171.6,728.6 172.5,728.3 173.1,728.6 C173.7,728.9 174.5,730.0 174.6,730.6Z" fill="#2aa8c8" opacity="0.29"/>
<path d="M174.6,731.2 C174.6,731.8 173.9,732.0 173.5,732.2 C173.0,732.4 172.5,732.6 171.9,732.5 C171.4,732.3 170.5,731.6 170.3,731.3 C170.0,730.9 170.3,730.7 170.6,730.2 C170.8,729.7 171.2,728.5 171.7,728.2 C172.1,727.9 173.1,727.9 173.6,728.4 C174.0,728.9 174.6,730.5 174.6,731.2Z" fill="none" stroke="#2aa8c8" stroke-width="1.4" opacity="0.83"/>
<path d="M185.2,725.0 C185.2,725.9 185.2,726.9 184.7,727.3 C184.1,727.6 182.9,727.7 182.0,727.3 C181.2,726.9 179.8,725.8 179.8,725.0 C179.7,724.2 181.1,723.1 181.9,722.6 C182.7,722.1 184.0,721.7 184.5,722.1 C185.1,722.5 185.1,724.1 185.2,725.0Z" fill="#3cc8d8" opacity="0.49"/>
<path d="M185.5,725.3 C185.4,726.2 184.9,727.2 184.5,727.7 C184.1,728.1 183.8,728.4 183.1,728.3 C182.4,728.1 180.8,727.5 180.3,726.7 C179.7,726.0 179.4,724.7 179.8,723.8 C180.3,723.0 182.1,721.9 183.0,721.6 C183.8,721.3 184.7,721.7 185.2,722.3 C185.6,722.9 185.6,724.4 185.5,725.3Z" fill="none" stroke="#3cc8d8" stroke-width="1.3" opacity="0.90" stroke-dasharray="2.6 1.6"/>
<path d="M161.6,741.5 C161.6,742.1 161.0,743.4 160.3,743.6 C159.7,743.9 158.4,743.4 157.8,743.1 C157.2,742.7 156.8,742.1 156.7,741.5 C156.6,740.9 156.5,739.5 157.1,739.2 C157.8,739.0 159.6,739.6 160.3,740.0 C161.1,740.4 161.6,740.9 161.6,741.5Z" fill="#2aa8c8" opacity="0.37"/>
<path d="M161.6,741.4 C161.7,742.0 161.1,742.4 160.6,742.9 C160.1,743.4 159.6,744.1 158.7,744.1 C157.9,744.2 156.2,743.8 155.8,743.2 C155.4,742.7 156.0,741.6 156.4,740.9 C156.8,740.3 157.4,739.6 158.0,739.3 C158.6,739.1 159.5,739.1 160.1,739.4 C160.7,739.8 161.5,740.8 161.6,741.4Z" fill="none" stroke="#2aa8c8" stroke-width="1.5" opacity="0.85" stroke-dasharray="2.1 1.9"/>
<path d="M62.2,758.0 C62.2,758.8 62.1,760.1 61.7,760.5 C61.2,760.9 60.1,760.9 59.6,760.5 C59.0,760.0 58.4,758.9 58.4,758.0 C58.4,757.1 59.0,755.7 59.5,755.3 C60.0,754.9 60.9,755.2 61.3,755.6 C61.8,756.1 62.1,757.2 62.2,758.0Z" fill="#2aa8c8" opacity="0.39"/>
<path d="M63.3,758.7 C63.2,759.4 62.1,759.6 61.6,759.8 C61.1,760.0 60.8,760.2 60.2,759.9 C59.6,759.7 58.2,758.9 58.0,758.4 C57.8,757.9 58.5,757.1 58.8,756.8 C59.1,756.4 59.1,756.4 59.8,756.2 C60.4,756.1 61.9,755.4 62.5,755.9 C63.0,756.3 63.4,758.0 63.3,758.7Z" fill="none" stroke="#2aa8c8" stroke-width="1.4" opacity="0.85" stroke-dasharray="2.9 1.3"/>
<path d="M72.9,766.0 C72.9,766.7 73.2,767.6 72.7,768.0 C72.3,768.3 70.5,768.5 70.0,768.2 C69.5,767.8 69.5,766.7 69.6,766.0 C69.7,765.3 70.1,764.5 70.6,764.1 C71.1,763.8 72.2,763.6 72.6,763.9 C73.0,764.2 72.9,765.3 72.9,766.0Z" fill="#60e0d8" opacity="0.37"/>
<path d="M73.7,766.5 C73.7,767.3 73.5,768.2 73.0,768.4 C72.5,768.6 71.1,768.0 70.5,767.7 C69.8,767.5 69.1,767.2 69.0,766.8 C68.8,766.5 69.0,766.1 69.4,765.5 C69.9,764.9 71.0,763.6 71.5,763.2 C72.0,762.9 72.3,762.7 72.6,763.2 C73.0,763.8 73.6,765.6 73.7,766.5Z" fill="none" stroke="#60e0d8" stroke-width="1.5" opacity="0.71" stroke-dasharray="2.2 1.7"/>
<path d="M84.4,777.0 C84.4,777.5 83.9,778.3 83.3,778.6 C82.8,778.9 81.8,779.3 81.2,779.0 C80.6,778.7 79.7,777.7 79.7,777.0 C79.8,776.3 80.8,775.1 81.3,774.9 C81.9,774.7 82.6,775.4 83.1,775.7 C83.6,776.1 84.3,776.5 84.4,777.0Z" fill="#48b8e0" opacity="0.33"/>
<path d="M84.2,777.4 C84.3,777.8 83.9,777.8 83.6,778.0 C83.3,778.3 82.7,778.7 82.2,778.7 C81.6,778.7 80.5,778.4 80.3,778.1 C80.1,777.7 80.4,777.0 80.7,776.5 C81.0,776.1 81.7,775.6 82.1,775.4 C82.5,775.2 82.9,775.0 83.2,775.3 C83.5,775.6 84.1,776.9 84.2,777.4Z" fill="none" stroke="#48b8e0" stroke-width="1.1" opacity="0.89" stroke-dasharray="2.2 1.3"/>
<path d="M101.6,779.7 C101.6,780.5 100.4,782.2 99.8,782.5 C99.1,782.7 98.3,781.6 97.8,781.2 C97.3,780.7 96.9,780.2 96.8,779.7 C96.7,779.2 96.8,778.6 97.2,778.3 C97.7,777.9 98.8,777.4 99.6,777.7 C100.3,777.9 101.6,778.9 101.6,779.7Z" fill="#2aa8c8" opacity="0.28"/>
<path d="M101.1,779.4 C101.2,780.0 101.2,781.0 100.8,781.4 C100.3,781.7 99.3,781.7 98.5,781.6 C97.7,781.6 96.3,781.3 95.9,780.9 C95.6,780.6 96.1,780.1 96.6,779.4 C97.1,778.6 98.3,776.8 98.9,776.6 C99.5,776.3 99.7,777.4 100.1,777.8 C100.4,778.3 100.9,778.9 101.1,779.4Z" fill="none" stroke="#2aa8c8" stroke-width="1.5" opacity="0.84"/>
<path d="M111.8,771.5 C111.7,772.0 111.2,772.4 110.6,772.8 C110.0,773.2 109.0,774.1 108.4,773.9 C107.8,773.7 107.0,772.2 107.0,771.5 C107.0,770.8 107.8,770.3 108.4,770.0 C109.1,769.6 110.3,769.3 110.9,769.6 C111.4,769.9 111.8,771.0 111.8,771.5Z" fill="#3cc8d8" opacity="0.48"/>
<path d="M112.6,771.2 C112.7,771.7 111.7,772.8 111.1,773.3 C110.5,773.8 109.7,774.5 109.1,774.3 C108.4,774.1 107.4,772.7 107.1,772.0 C106.9,771.2 107.5,770.3 107.7,769.8 C107.9,769.3 107.8,768.9 108.3,768.9 C108.8,768.9 110.0,769.6 110.7,770.0 C111.4,770.4 112.5,770.6 112.6,771.2Z" fill="none" stroke="#3cc8d8" stroke-width="1.5" opacity="0.73"/>
<path d="M134.1,779.7 C134.1,780.7 133.5,781.8 132.9,782.3 C132.3,782.9 130.9,783.4 130.2,783.0 C129.6,782.5 128.9,780.8 128.8,779.7 C128.7,778.6 129.0,777.0 129.7,776.5 C130.4,775.9 132.2,775.9 132.9,776.4 C133.7,777.0 134.1,778.7 134.1,779.7Z" fill="#3cc8d8" opacity="0.45"/>
<path d="M134.8,778.8 C134.7,779.5 133.9,781.0 133.4,781.7 C132.8,782.3 132.0,782.8 131.3,782.9 C130.6,782.9 129.4,782.5 129.0,781.7 C128.7,780.9 128.6,779.0 129.1,778.0 C129.5,777.0 130.8,775.8 131.6,775.7 C132.4,775.7 133.4,776.9 134.0,777.4 C134.5,777.9 134.9,778.1 134.8,778.8Z" fill="none" stroke="#3cc8d8" stroke-width="1.4" opacity="0.93" stroke-dasharray="3.1 0.9"/>
<path d="M146.8,798.8 C146.7,799.4 146.9,800.2 146.4,800.5 C145.9,800.8 144.5,800.9 144.0,800.7 C143.5,800.4 143.4,799.5 143.4,798.8 C143.4,798.1 143.5,797.0 144.0,796.7 C144.5,796.4 146.0,796.5 146.5,796.8 C147.0,797.2 146.8,798.2 146.8,798.8Z" fill="#50d8e0" opacity="0.50"/>
<path d="M148.0,799.1 C148.0,799.9 147.5,800.9 147.0,801.3 C146.4,801.7 145.4,801.8 144.7,801.6 C144.0,801.3 142.8,800.3 142.6,799.7 C142.3,799.1 142.9,798.7 143.2,798.2 C143.4,797.7 143.3,796.9 144.0,796.6 C144.6,796.3 146.4,796.1 147.1,796.5 C147.8,796.9 148.0,798.3 148.0,799.1Z" fill="none" stroke="#50d8e0" stroke-width="1.5" opacity="0.93"/>
<path d="M171.9,793.4 C171.8,794.2 171.6,794.7 171.0,795.3 C170.5,795.9 169.2,797.3 168.5,797.0 C167.9,796.7 167.1,794.6 166.9,793.4 C166.8,792.2 167.0,790.3 167.8,789.8 C168.5,789.3 170.7,789.9 171.4,790.5 C172.1,791.1 171.9,792.6 171.9,793.4Z" fill="#2aa8c8" opacity="0.37"/>
<path d="M173.7,793.0 C173.6,794.0 173.4,796.1 172.6,796.7 C171.7,797.3 169.7,796.8 168.7,796.5 C167.6,796.1 166.8,795.1 166.3,794.4 C165.9,793.8 165.6,793.0 166.0,792.4 C166.4,791.7 167.5,790.7 168.7,790.4 C169.8,790.2 172.1,790.3 173.0,790.7 C173.8,791.1 173.8,792.0 173.7,793.0Z" fill="none" stroke="#2aa8c8" stroke-width="1.1" opacity="0.73"/>
<path d="M182.3,758.0 C182.3,758.8 182.4,759.9 182.0,760.4 C181.6,760.8 180.3,761.0 179.8,760.6 C179.3,760.2 179.0,758.8 179.0,758.0 C178.9,757.2 179.2,756.2 179.7,755.8 C180.2,755.4 181.4,755.5 181.8,755.8 C182.2,756.2 182.3,757.2 182.3,758.0Z" fill="#2aa8c8" opacity="0.41"/>
<path d="M183.0,757.6 C183.0,758.2 182.3,759.4 181.8,759.7 C181.4,760.1 180.8,760.1 180.3,759.9 C179.7,759.7 178.7,758.9 178.4,758.5 C178.2,758.0 178.5,757.7 178.8,757.2 C179.0,756.7 179.2,755.8 179.7,755.6 C180.3,755.4 181.6,755.9 182.2,756.2 C182.7,756.5 183.1,757.0 183.0,757.6Z" fill="none" stroke="#2aa8c8" stroke-width="1.3" opacity="0.80" stroke-dasharray="2.2 1.7"/>
<path d="M188.2,766.0 C188.1,767.0 188.4,768.8 187.9,769.3 C187.3,769.8 185.7,769.6 184.8,769.1 C184.0,768.6 182.9,767.0 182.9,766.0 C182.9,765.0 184.1,763.6 184.9,763.2 C185.7,762.7 187.3,763.1 187.9,763.5 C188.4,764.0 188.2,765.0 188.2,766.0Z" fill="#2aa8c8" opacity="0.28"/>
<path d="M188.5,765.4 C188.4,766.0 188.1,767.4 187.5,768.0 C186.9,768.7 185.6,769.5 184.8,769.3 C184.0,769.1 182.9,767.8 182.5,766.9 C182.2,766.0 182.2,764.6 182.8,763.9 C183.5,763.2 185.4,762.5 186.3,762.6 C187.1,762.8 187.7,764.1 188.1,764.6 C188.5,765.0 188.6,764.8 188.5,765.4Z" fill="none" stroke="#2aa8c8" stroke-width="1.1" opacity="0.74" stroke-dasharray="2.1 1.0"/>
<path d="M68.7,785.2 C68.8,785.8 67.9,786.5 67.2,786.8 C66.5,787.1 64.9,787.3 64.5,787.1 C64.0,786.8 64.4,785.7 64.4,785.2 C64.4,784.7 64.1,784.1 64.5,783.8 C64.8,783.5 65.9,783.2 66.6,783.4 C67.3,783.7 68.6,784.6 68.7,785.2Z" fill="#2aa8c8" opacity="0.34"/>
<path d="M68.5,785.9 C68.7,786.4 68.9,786.5 68.2,786.8 C67.5,787.1 65.2,787.6 64.5,787.6 C63.9,787.5 64.4,787.0 64.1,786.5 C63.9,786.0 62.8,785.2 63.1,784.5 C63.3,783.9 64.9,782.7 65.5,782.5 C66.1,782.3 66.2,782.9 66.7,783.5 C67.2,784.1 68.2,785.3 68.5,785.9Z" fill="none" stroke="#2aa8c8" stroke-width="1.4" opacity="0.82" stroke-dasharray="3.9 0.9"/>
<path d="M84.2,796.0 C84.2,796.4 83.9,797.1 83.4,797.3 C83.0,797.5 82.0,797.5 81.4,797.3 C80.9,797.1 80.3,796.5 80.3,796.0 C80.3,795.5 80.7,794.6 81.3,794.4 C81.8,794.1 83.1,794.4 83.6,794.7 C84.1,795.0 84.3,795.6 84.2,796.0Z" fill="#60e0d8" opacity="0.34"/>
<path d="M84.3,796.3 C84.4,796.8 84.3,796.8 83.9,797.1 C83.5,797.4 82.4,798.1 81.9,798.0 C81.4,798.0 81.2,797.2 80.8,796.7 C80.4,796.2 79.4,795.7 79.6,795.2 C79.8,794.8 81.2,794.1 81.7,793.9 C82.3,793.7 82.7,793.8 83.1,794.2 C83.5,794.6 84.2,795.8 84.3,796.3Z" fill="none" stroke="#60e0d8" stroke-width="1.5" opacity="0.70"/>
<path d="M106.0,801.6 C106.0,802.3 106.3,803.3 105.8,803.8 C105.2,804.2 103.5,804.8 102.8,804.5 C102.1,804.1 101.2,802.3 101.3,801.6 C101.4,800.9 102.6,800.4 103.3,800.1 C104.0,799.7 105.3,799.2 105.7,799.5 C106.2,799.7 106.0,800.9 106.0,801.6Z" fill="#60e0d8" opacity="0.47"/>
<path d="M107.8,801.3 C107.9,802.2 106.5,804.0 105.9,804.6 C105.3,805.2 105.0,805.1 104.2,804.9 C103.3,804.7 101.3,804.1 101.0,803.3 C100.8,802.5 102.0,800.7 102.4,800.0 C102.9,799.3 103.0,799.3 103.5,799.2 C104.1,799.2 105.0,799.3 105.7,799.6 C106.4,800.0 107.8,800.5 107.8,801.3Z" fill="none" stroke="#60e0d8" stroke-width="1.5" opacity="0.93"/>
<path d="M175.9,779.7 C175.9,780.4 174.9,781.1 174.1,781.5 C173.3,781.8 171.8,782.0 171.0,781.7 C170.2,781.4 169.2,780.4 169.2,779.7 C169.1,779.0 170.2,777.9 170.9,777.5 C171.7,777.0 173.0,776.8 173.8,777.2 C174.7,777.6 175.8,779.0 175.9,779.7Z" fill="#3cc8d8" opacity="0.27"/>
<path d="M176.0,778.6 C176.1,779.3 175.2,780.6 174.4,781.2 C173.7,781.9 172.2,782.4 171.5,782.5 C170.8,782.5 170.5,782.2 170.1,781.3 C169.7,780.5 169.1,778.0 169.4,777.2 C169.7,776.5 171.2,777.0 171.9,776.9 C172.6,776.9 173.0,776.7 173.7,777.0 C174.4,777.2 175.9,777.9 176.0,778.6Z" fill="none" stroke="#3cc8d8" stroke-width="1.2" opacity="0.85" stroke-dasharray="3.8 1.5"/>
<path d="M161.4,763.4 C161.4,764.3 160.9,765.9 160.1,766.3 C159.4,766.6 157.7,766.0 157.0,765.5 C156.2,765.0 155.5,764.3 155.6,763.4 C155.8,762.5 156.9,760.6 157.7,760.1 C158.5,759.7 159.7,760.1 160.3,760.6 C160.9,761.2 161.5,762.5 161.4,763.4Z" fill="#60e0d8" opacity="0.40"/>
<path d="M161.4,763.4 C161.1,764.2 161.3,765.2 160.9,765.7 C160.5,766.2 159.9,766.6 159.0,766.5 C158.1,766.4 155.9,766.0 155.5,765.1 C155.0,764.3 155.9,762.2 156.4,761.3 C156.8,760.4 157.0,759.7 158.0,759.6 C159.0,759.5 161.7,760.2 162.3,760.8 C162.9,761.5 161.6,762.6 161.4,763.4Z" fill="none" stroke="#60e0d8" stroke-width="1.5" opacity="0.71"/>
<path d="M193.2,745.0 C193.3,745.7 192.4,746.4 191.7,746.9 C190.9,747.3 189.4,748.2 188.8,747.8 C188.1,747.5 187.9,745.9 187.8,745.0 C187.7,744.1 187.5,743.0 188.2,742.6 C188.8,742.2 190.6,742.0 191.4,742.4 C192.3,742.8 193.2,744.3 193.2,745.0Z" fill="#2aa8c8" opacity="0.27"/>
<path d="M192.4,745.1 C192.5,745.9 191.9,746.8 191.3,747.2 C190.7,747.7 189.4,747.8 188.7,747.8 C187.9,747.7 186.8,747.7 186.7,747.0 C186.5,746.4 187.3,744.6 187.6,743.9 C188.0,743.1 188.2,742.7 188.8,742.4 C189.3,742.2 190.5,741.9 191.1,742.4 C191.7,742.8 192.4,744.3 192.4,745.1Z" fill="none" stroke="#2aa8c8" stroke-width="1.0" opacity="0.84" stroke-dasharray="3.6 1.6"/>
<path d="M118.0,805.0 C117.9,805.9 116.9,806.5 116.2,807.0 C115.5,807.5 114.7,808.4 113.9,808.1 C113.2,807.8 111.8,806.1 111.8,805.0 C111.8,803.9 113.1,802.3 113.9,801.8 C114.7,801.2 115.9,801.1 116.5,801.7 C117.2,802.2 118.0,804.1 118.0,805.0Z" fill="#48b8e0" opacity="0.26"/>
<path d="M118.5,805.5 C118.3,806.2 117.4,807.0 116.6,807.3 C115.8,807.6 114.5,807.3 113.8,807.3 C113.0,807.3 112.4,807.9 112.2,807.4 C112.0,806.9 112.2,805.5 112.5,804.5 C112.8,803.5 113.2,801.8 114.1,801.5 C115.0,801.2 117.2,802.0 118.0,802.7 C118.7,803.4 118.7,804.7 118.5,805.5Z" fill="none" stroke="#48b8e0" stroke-width="1.4" opacity="0.73" stroke-dasharray="3.3 1.8"/>
<path d="M190.2,800.0 C190.2,800.8 189.6,802.3 189.1,802.7 C188.5,803.1 187.5,802.8 186.9,802.4 C186.3,801.9 185.6,800.9 185.5,800.0 C185.5,799.1 186.0,797.6 186.6,797.2 C187.2,796.8 188.5,797.2 189.1,797.7 C189.7,798.1 190.2,799.2 190.2,800.0Z" fill="#3cc8d8" opacity="0.36"/>
<path d="M190.6,800.2 C190.6,800.9 190.0,801.5 189.6,802.0 C189.1,802.5 188.5,803.4 187.9,803.3 C187.2,803.3 186.1,802.4 185.8,801.6 C185.6,800.8 186.0,799.0 186.1,798.4 C186.3,797.7 186.1,797.8 186.7,797.7 C187.3,797.7 189.1,797.5 189.8,798.0 C190.4,798.4 190.6,799.5 190.6,800.2Z" fill="none" stroke="#3cc8d8" stroke-width="1.1" opacity="0.95"/>
<path d="M61,696 q6,-3 10,-7 q5,-3 12,-3 M80,688 q4,6 8,8 q4,-4 8,-8 q2,-4 4,-8 M97,681 q6,2 12,1 q8,-2 14,2 q6,3 12,-1 M128,688 q4,4 9,0 M100,690 q4,4 6,9" fill="none" stroke="#d8d848" stroke-width="1.7" opacity="0.9"/>
<path d="M115.8,696.1 C115.9,696.6 116.1,697.7 115.7,698.2 C115.3,698.6 114.2,698.9 113.5,698.8 C112.9,698.6 112.2,697.9 111.7,697.3 C111.3,696.7 110.7,695.8 110.9,695.3 C111.2,694.8 112.5,694.1 113.2,694.0 C113.9,694.0 114.6,694.8 115.1,695.1 C115.5,695.5 115.7,695.6 115.8,696.1Z" fill="none" stroke="#d8d848" stroke-width="1.4" opacity="0.90"/>
<path d="M144.1,699.4 C144.2,700.0 144.8,700.4 144.5,700.8 C144.1,701.2 142.8,701.7 142.2,701.6 C141.5,701.6 140.6,701.2 140.4,700.7 C140.2,700.1 140.6,699.0 140.8,698.4 C141.0,697.8 141.2,697.1 141.6,696.9 C142.1,696.6 143.1,696.4 143.5,696.9 C143.9,697.3 143.9,698.7 144.1,699.4Z" fill="none" stroke="#d8d848" stroke-width="1.4" opacity="0.90"/>
<path d="M130.4,711.3 C130.6,711.8 130.8,713.0 130.4,713.3 C130.1,713.6 128.9,713.1 128.5,713.0 C128.0,712.8 127.9,712.8 127.6,712.4 C127.3,712.1 126.3,711.5 126.5,711.0 C126.7,710.6 128.3,709.8 128.8,709.7 C129.3,709.5 129.3,710.0 129.6,710.3 C129.9,710.6 130.3,710.8 130.4,711.3Z" fill="none" stroke="#d8d848" stroke-width="1.4" opacity="0.90" stroke-dasharray="3.9 1.4"/>
<path d="M139.8,722.7 C139.9,723.2 139.1,723.7 138.6,724.1 C138.2,724.4 137.6,724.8 137.1,724.8 C136.5,724.7 135.6,724.3 135.3,723.7 C135.0,723.2 135.1,722.1 135.3,721.4 C135.5,720.8 136.2,719.8 136.6,719.7 C137.1,719.5 137.6,720.3 138.1,720.8 C138.6,721.3 139.7,722.1 139.8,722.7Z" fill="none" stroke="#d8d848" stroke-width="1.4" opacity="0.90" stroke-dasharray="2.9 1.8"/>
<path d="M155.6,686.4 C155.5,686.8 154.3,688.1 153.9,688.4 C153.4,688.8 153.2,688.5 152.8,688.5 C152.4,688.5 151.5,688.8 151.4,688.4 C151.3,688.0 151.9,686.8 152.1,686.2 C152.2,685.6 152.1,684.9 152.5,684.8 C152.9,684.7 154.0,685.5 154.5,685.7 C155.0,686.0 155.7,685.9 155.6,686.4Z" fill="none" stroke="#d8d848" stroke-width="1.4" opacity="0.90" stroke-dasharray="3.6 1.6"/>
<path d="M175.2,685.3 C175.2,685.7 175.1,686.6 174.8,686.9 C174.5,687.3 173.9,687.5 173.5,687.4 C173.1,687.4 172.7,687.2 172.4,686.7 C172.1,686.2 171.6,685.1 171.8,684.6 C172.0,684.1 173.2,683.9 173.7,683.8 C174.2,683.7 174.3,683.9 174.5,684.2 C174.8,684.4 175.2,684.8 175.2,685.3Z" fill="none" stroke="#d8d848" stroke-width="1.4" opacity="0.90"/>
<path d="M67.5,694.2 C67.6,694.6 67.6,695.2 67.2,695.5 C66.9,695.7 65.8,695.7 65.3,695.6 C64.8,695.5 64.4,695.6 64.2,695.2 C64.0,694.7 64.1,693.5 64.3,693.0 C64.6,692.5 65.3,692.3 65.6,692.2 C66.0,692.2 66.3,692.5 66.6,692.9 C66.9,693.2 67.4,693.8 67.5,694.2Z" fill="none" stroke="#d8d848" stroke-width="1.4" opacity="0.90" stroke-dasharray="3.0 1.8"/>
<path d="M91.9,684.4 C91.9,684.9 91.5,685.5 91.2,685.7 C90.9,685.9 90.5,685.9 90.1,685.7 C89.6,685.6 88.8,685.1 88.4,684.7 C88.1,684.3 87.7,683.6 87.9,683.2 C88.1,682.8 88.9,682.5 89.4,682.5 C90.0,682.5 90.8,682.8 91.2,683.2 C91.6,683.5 91.9,684.0 91.9,684.4Z" fill="none" stroke="#d8d848" stroke-width="1.4" opacity="0.90" stroke-dasharray="2.3 2.0"/>
<path d="M121.5,682.9 C121.5,683.4 121.2,684.3 120.9,684.6 C120.5,685.0 119.9,685.3 119.6,685.1 C119.2,685.0 118.8,684.2 118.6,683.7 C118.3,683.1 118.2,682.3 118.3,681.9 C118.4,681.5 118.6,681.4 119.1,681.4 C119.6,681.4 120.8,681.5 121.2,681.7 C121.6,682.0 121.6,682.4 121.5,682.9Z" fill="none" stroke="#d8d848" stroke-width="1.4" opacity="0.90" stroke-dasharray="2.9 1.2"/>
<path d="M146.6,722.1 C146.5,722.8 146.3,724.3 146.0,724.6 C145.8,725.0 145.6,724.4 145.1,724.1 C144.5,723.9 143.2,723.8 143.0,723.4 C142.7,723.0 143.3,722.4 143.6,721.8 C143.8,721.2 143.8,720.1 144.4,719.9 C145.0,719.7 146.6,720.1 146.9,720.5 C147.3,720.9 146.8,721.5 146.6,722.1Z" fill="none" stroke="#d8d848" stroke-width="1.4" opacity="0.90" stroke-dasharray="2.5 0.9"/>
<path d="M136.5,685.0 Q134.0,685.4 134.2,683.7" fill="none" stroke="#f0e860" stroke-width="1.9" opacity="0.9"/>
<path d="M97.6,690.5 Q99.6,688.4 100.1,691.6" fill="none" stroke="#e8e040" stroke-width="1.7" opacity="0.9"/>
<path d="M77.2,681.8 Q79.6,681.6 79.4,685.9" fill="none" stroke="#d8d850" stroke-width="1.7" opacity="0.9"/>
<path d="M64.0,692.4 Q66.0,693.1 64.4,688.6" fill="none" stroke="#f0e860" stroke-width="2.0" opacity="0.9"/>
<path d="M130.1,682.1 Q130.1,684.9 128.2,679.4" fill="none" stroke="#f0e860" stroke-width="1.6" opacity="0.9"/>
<path d="M70.0,685.0 Q67.0,684.5 72.3,686.4" fill="none" stroke="#d8d850" stroke-width="1.5" opacity="0.9"/>
<path d="M131.7,685.4 Q131.0,683.5 132.0,683.0" fill="none" stroke="#e8e040" stroke-width="1.6" opacity="0.9"/>
<path d="M98.1,685.7 Q99.7,686.8 101.4,686.2" fill="none" stroke="#f0e860" stroke-width="1.5" opacity="0.9"/>
<path d="M69.4,682.6 Q71.3,685.0 65.4,684.7" fill="none" stroke="#f0e860" stroke-width="2.0" opacity="0.9"/>
<path d="M119.1,686.3 Q117.6,687.4 120.2,689.0" fill="none" stroke="#e8e040" stroke-width="1.5" opacity="0.9"/>
<path d="M104.7,693.2 Q105.3,692.4 103.2,694.9" fill="none" stroke="#e8e040" stroke-width="1.8" opacity="0.9"/>
<path d="M76.6,688.0 Q78.0,689.2 75.2,683.4" fill="none" stroke="#d8d850" stroke-width="2.1" opacity="0.9"/>
<path d="M128.7,684.2 Q126.6,681.2 130.7,683.2" fill="none" stroke="#e8e040" stroke-width="1.9" opacity="0.9"/>
<path d="M91.6,694.0 Q93.9,693.0 91.2,697.7" fill="none" stroke="#f0e860" stroke-width="1.6" opacity="0.9"/>
<path d="M93.5,688.3 Q93.3,685.9 95.5,688.0" fill="none" stroke="#f0e860" stroke-width="1.4" opacity="0.9"/>
<path d="M105.0,682.3 Q102.5,683.7 103.0,679.1" fill="none" stroke="#d8d850" stroke-width="1.4" opacity="0.9"/>
<path d="M90.0,692.0 Q91.7,694.5 93.8,693.0" fill="none" stroke="#e8e040" stroke-width="1.9" opacity="0.9"/>
<path d="M131.7,690.4 Q134.0,688.7 134.7,692.2" fill="none" stroke="#d8d850" stroke-width="1.4" opacity="0.9"/>
<path d="M84.3,686.4 Q82.7,685.1 87.9,688.1" fill="none" stroke="#e8e040" stroke-width="1.8" opacity="0.9"/>
<path d="M67.8,685.1 Q68.6,684.6 65.7,686.4" fill="none" stroke="#d8d850" stroke-width="2.0" opacity="0.9"/>
<path d="M90.5,680.3 Q90.5,677.5 88.5,684.3" fill="none" stroke="#d8d850" stroke-width="1.9" opacity="0.9"/>
<path d="M136.5,688.9 Q136.2,691.2 138.7,687.0" fill="none" stroke="#f0e860" stroke-width="1.6" opacity="0.9"/>
<path d="M102.5,693.3 Q103.5,694.0 99.5,691.9" fill="none" stroke="#d8d850" stroke-width="2.0" opacity="0.9"/>
<path d="M71.9,679.6 Q73.6,679.1 71.0,681.5" fill="none" stroke="#f0e860" stroke-width="1.4" opacity="0.9"/>
<path d="M62.7,681.0 Q63.3,682.2 61.5,684.5" fill="none" stroke="#e8e040" stroke-width="1.4" opacity="0.9"/>
<path d="M68.5,689.5 Q65.7,689.2 67.7,693.3" fill="none" stroke="#e8e040" stroke-width="1.9" opacity="0.9"/>
<path d="M104.2,695.9 Q104.0,695.7 101.3,694.7" fill="none" stroke="#e8e040" stroke-width="1.4" opacity="0.9"/>
<path d="M100.0,684.1 Q102.3,683.3 98.3,682.4" fill="none" stroke="#d8d850" stroke-width="2.1" opacity="0.9"/>
<path d="M137.2,685.3 Q135.0,686.8 140.3,681.4" fill="none" stroke="#f0e860" stroke-width="1.7" opacity="0.9"/>
<path d="M90.6,681.7 Q91.7,680.6 92.6,681.5" fill="none" stroke="#e8e040" stroke-width="1.8" opacity="0.9"/>
<path d="M97.0,689.2 Q94.2,691.1 94.2,690.0" fill="none" stroke="#f0e860" stroke-width="1.6" opacity="0.9"/>
<path d="M117.3,693.8 Q115.0,694.1 116.3,692.0" fill="none" stroke="#e8e040" stroke-width="1.6" opacity="0.9"/>
<path d="M110.9,681.3 Q110.9,680.0 112.9,680.5" fill="none" stroke="#f0e860" stroke-width="1.5" opacity="0.9"/>
<path d="M135.7,695.9 Q134.9,693.0 134.3,698.4" fill="none" stroke="#f0e860" stroke-width="1.4" opacity="0.9"/>
<path d="M128.0,731.4 C128.1,732.0 126.8,733.2 126.3,733.7 C125.7,734.1 125.5,734.3 124.7,734.1 C123.9,733.9 122.0,733.2 121.5,732.5 C121.1,731.8 121.6,730.4 122.1,729.9 C122.6,729.4 123.9,729.7 124.5,729.7 C125.1,729.6 125.1,729.6 125.7,729.9 C126.3,730.2 127.9,730.7 128.0,731.4Z" fill="none" stroke="#e8e8b0" stroke-width="1.6" opacity="1.00" stroke-dasharray="2.4 1.7"/>
<circle cx="126" cy="744.2" r="4.5" fill="#9020b8" opacity="0.85"/><path d="M130.1,744.2 C130.6,745.7 131.9,748.0 130.8,749.0 C129.7,749.9 125.2,750.4 123.3,750.0 C121.4,749.6 119.7,747.7 119.4,746.3 C119.0,745.0 120.4,742.9 121.3,741.7 C122.3,740.6 124.0,739.7 125.1,739.3 C126.2,739.0 127.1,738.9 127.9,739.7 C128.7,740.5 129.6,742.6 130.1,744.2Z" fill="none" stroke="#d050e8" stroke-width="2.0" opacity="1.00"/>
<path d="M150.0,730.1 C149.9,730.8 150.4,731.9 149.8,732.4 C149.2,732.9 147.3,733.3 146.4,733.1 C145.5,733.0 144.7,732.0 144.6,731.4 C144.4,730.8 145.1,729.9 145.5,729.3 C145.9,728.8 146.3,728.3 147.1,728.1 C147.8,727.9 149.7,727.7 150.2,728.0 C150.7,728.4 150.0,729.4 150.0,730.1Z" fill="none" stroke="#b030d0" stroke-width="1.8" opacity="0.90"/>
<path d="M147.4,752.1 C147.6,752.7 148.0,753.7 147.6,754.1 C147.2,754.5 145.7,754.6 145.0,754.5 C144.2,754.4 143.5,754.2 143.0,753.7 C142.5,753.2 141.7,752.2 142.0,751.5 C142.3,750.9 143.8,750.0 144.7,749.9 C145.5,749.7 146.4,750.3 146.9,750.7 C147.3,751.1 147.3,751.5 147.4,752.1Z" fill="none" stroke="#b030d0" stroke-width="1.8" opacity="0.90"/>
<path d="M128.1,787.2 C128.2,788.3 127.3,790.5 126.6,791.3 C125.9,792.1 124.6,792.4 123.7,792.0 C122.8,791.7 121.4,790.1 121.1,789.4 C120.8,788.6 121.4,788.2 121.8,787.5 C122.3,786.7 123.0,785.1 123.8,784.6 C124.5,784.1 125.5,784.0 126.2,784.5 C126.9,784.9 128.0,786.1 128.1,787.2Z" fill="none" stroke="#b030d0" stroke-width="1.8" opacity="0.90"/>
<path d="M98.5,793.4 C98.5,794.0 97.5,794.9 97.0,795.3 C96.5,795.8 95.8,796.1 95.3,795.9 C94.8,795.7 94.2,794.7 94.0,794.2 C93.7,793.6 93.5,793.2 93.7,792.7 C94.0,792.1 95.0,791.0 95.6,790.8 C96.1,790.6 96.6,790.8 97.0,791.3 C97.5,791.7 98.5,792.7 98.5,793.4Z" fill="none" stroke="#b030d0" stroke-width="1.8" opacity="0.90"/>
<path d="M149.7,795.7 C149.5,796.3 148.9,797.2 148.5,797.6 C148.1,798.0 147.7,798.1 147.3,798.1 C146.9,798.1 146.5,797.9 146.2,797.4 C145.9,797.0 145.3,796.0 145.6,795.4 C145.8,794.9 147.2,794.4 147.8,794.1 C148.5,793.9 149.0,793.5 149.3,793.7 C149.6,794.0 149.8,795.0 149.7,795.7Z" fill="none" stroke="#b030d0" stroke-width="1.8" opacity="0.90"/>
<path d="M135.0,751.4 C135.0,752.1 135.5,753.6 135.1,754.1 C134.8,754.5 133.3,754.2 132.6,754.1 C131.9,753.9 131.2,753.5 130.8,753.1 C130.5,752.6 130.1,751.9 130.4,751.4 C130.7,750.8 132.0,749.9 132.8,749.6 C133.5,749.3 134.4,749.5 134.8,749.8 C135.2,750.1 134.9,750.7 135.0,751.4Z" fill="none" stroke="#b030d0" stroke-width="1.8" opacity="0.90"/>
</g></g>
<g clip-path="url(#clB)">
<g transform="rotate(-30 267.75 743.45)"><rect x="170" y="650" width="200" height="190" filter="url(#texB)"/></g>
<g filter="url(#blur2)">
<ellipse cx="226" cy="734" rx="3" ry="2.5" fill="#05052a" opacity="0.85" transform="rotate(-20 226 734)"/>
<ellipse cx="268" cy="746" rx="8" ry="3.5" fill="#05052a" opacity="0.85" transform="rotate(-20 268 746)"/>
<ellipse cx="330" cy="800" rx="3" ry="2" fill="#05052a" opacity="0.85" transform="rotate(-20 330 800)"/>
<ellipse cx="205" cy="700" rx="3" ry="3" fill="#05052a" opacity="0.85" transform="rotate(-20 205 700)"/>
<path d="M285.6,683.9 C285.7,684.7 285.3,685.7 284.7,686.1 C284.2,686.4 283.0,686.4 282.4,686.1 C281.9,685.8 281.7,685.0 281.5,684.4 C281.3,683.8 281.1,683.1 281.2,682.6 C281.3,682.1 281.6,681.7 282.1,681.6 C282.6,681.4 283.7,681.5 284.3,681.9 C284.9,682.3 285.5,683.2 285.6,683.9Z" fill="none" stroke="#38b0d0" stroke-width="1.5" opacity="0.72" stroke-dasharray="3.4 1.7"/>
<path d="M265.6,800.9 C265.7,801.4 265.4,801.5 265.0,801.9 C264.5,802.3 263.4,803.2 262.9,803.1 C262.3,803.0 261.8,801.9 261.6,801.3 C261.4,800.7 261.5,800.2 261.8,799.6 C262.0,799.0 262.6,797.9 263.1,797.7 C263.5,797.6 263.9,798.3 264.3,798.8 C264.7,799.3 265.4,800.4 265.6,800.9Z" fill="none" stroke="#70e8e0" stroke-width="1.2" opacity="0.66" stroke-dasharray="3.5 1.8"/>
<path d="M262.7,702.0 C262.8,702.9 262.2,704.2 261.5,704.8 C260.8,705.3 259.2,705.5 258.4,705.3 C257.7,705.0 257.4,704.0 257.2,703.2 C256.9,702.4 257.0,701.2 257.2,700.5 C257.3,699.8 257.3,699.0 258.0,698.9 C258.6,698.7 260.4,699.1 261.1,699.6 C261.9,700.1 262.6,701.2 262.7,702.0Z" fill="none" stroke="#48d0e0" stroke-width="1.2" opacity="0.90" stroke-dasharray="2.4 1.9"/>
<path d="M239.1,717.5 C239.0,717.9 238.8,718.2 238.5,718.5 C238.1,718.7 237.3,719.2 236.7,719.0 C236.2,718.9 235.5,718.0 235.2,717.5 C235.0,717.1 234.9,716.9 235.2,716.3 C235.6,715.8 236.6,714.3 237.2,714.3 C237.8,714.2 238.3,715.4 238.6,715.9 C239.0,716.5 239.1,717.0 239.1,717.5Z" fill="none" stroke="#60e0e8" stroke-width="1.0" opacity="0.77" stroke-dasharray="2.5 1.4"/>
<path d="M287.2,684.1 C287.2,684.5 287.0,684.5 286.7,684.8 C286.4,685.1 285.7,685.8 285.3,685.7 C284.9,685.6 284.5,684.9 284.3,684.4 C284.2,683.9 284.0,682.9 284.1,682.5 C284.2,682.2 284.8,682.3 285.2,682.3 C285.6,682.2 286.0,681.8 286.3,682.1 C286.7,682.4 287.1,683.6 287.2,684.1Z" fill="none" stroke="#48d0e0" stroke-width="1.2" opacity="0.62" stroke-dasharray="2.3 1.7"/>
<path d="M287.4,724.8 C287.4,725.4 287.1,727.3 286.7,727.8 C286.4,728.2 286.0,727.7 285.4,727.6 C284.8,727.5 283.6,727.6 283.3,727.2 C282.9,726.7 282.9,725.6 283.2,724.9 C283.5,724.3 284.5,723.5 285.0,723.3 C285.6,723.1 286.0,723.7 286.3,724.0 C286.7,724.2 287.3,724.2 287.4,724.8Z" fill="none" stroke="#38b0d0" stroke-width="1.3" opacity="0.98"/>
<path d="M265.6,745.9 C265.4,746.4 265.4,747.2 265.1,747.5 C264.8,747.8 264.4,747.9 264.0,747.7 C263.6,747.6 262.9,747.2 262.7,746.7 C262.4,746.2 262.5,745.1 262.6,744.8 C262.7,744.5 262.9,744.7 263.4,744.7 C264.0,744.7 265.4,744.5 265.7,744.7 C266.1,744.9 265.7,745.5 265.6,745.9Z" fill="none" stroke="#60e0e8" stroke-width="1.0" opacity="0.60" stroke-dasharray="3.4 0.9"/>
<path d="M322.7,800.3 C322.6,800.7 322.6,800.9 322.2,801.1 C321.9,801.4 321.4,801.6 320.9,801.7 C320.4,801.7 319.4,801.7 319.2,801.2 C319.1,800.8 319.5,799.5 319.8,799.1 C320.1,798.6 320.6,798.8 321.1,798.8 C321.7,798.7 322.7,798.7 323.0,798.9 C323.3,799.2 322.9,799.9 322.7,800.3Z" fill="none" stroke="#60e0e8" stroke-width="1.3" opacity="0.93" stroke-dasharray="3.8 1.2"/>
<path d="M336.3,719.5 C336.4,720.4 336.3,722.7 335.8,723.1 C335.2,723.6 333.8,722.4 333.1,722.2 C332.4,721.9 331.8,721.9 331.5,721.5 C331.3,721.1 331.2,720.2 331.4,719.5 C331.7,718.9 332.6,717.8 333.2,717.5 C333.9,717.2 334.7,717.4 335.2,717.8 C335.7,718.1 336.2,718.6 336.3,719.5Z" fill="none" stroke="#38b0d0" stroke-width="1.7" opacity="0.88"/>
<path d="M283.1,776.6 C283.2,777.3 283.1,778.1 282.7,778.3 C282.3,778.4 281.1,778.1 280.5,777.8 C279.9,777.5 279.3,776.8 279.0,776.4 C278.8,776.0 278.7,775.6 278.9,775.3 C279.2,774.9 280.0,774.3 280.5,774.2 C281.0,774.1 281.5,774.2 281.9,774.6 C282.4,775.0 283.0,776.0 283.1,776.6Z" fill="none" stroke="#48d0e0" stroke-width="1.0" opacity="0.90" stroke-dasharray="3.7 1.2"/>
<path d="M247.5,708.1 C247.4,708.7 246.4,708.9 245.8,709.5 C245.1,710.0 244.3,711.3 243.6,711.2 C243.0,711.1 242.2,709.4 241.8,708.8 C241.5,708.1 241.1,707.9 241.5,707.4 C241.9,706.9 243.4,706.0 244.2,705.7 C245.0,705.4 245.8,705.2 246.4,705.6 C246.9,706.0 247.6,707.5 247.5,708.1Z" fill="none" stroke="#48d0e0" stroke-width="1.2" opacity="0.59" stroke-dasharray="3.6 1.5"/>
<path d="M216.8,777.1 C216.6,777.7 215.6,778.7 214.8,779.1 C214.0,779.4 212.7,779.6 212.1,779.2 C211.6,778.9 211.7,777.7 211.5,777.0 C211.3,776.3 210.6,775.8 210.9,775.2 C211.2,774.7 212.6,773.6 213.3,773.6 C214.1,773.5 215.0,774.6 215.6,775.2 C216.1,775.8 216.9,776.4 216.8,777.1Z" fill="none" stroke="#48d0e0" stroke-width="1.4" opacity="0.86"/>
<path d="M229.2,729.7 C229.2,730.2 228.6,730.4 228.2,730.8 C227.8,731.1 227.2,732.1 226.7,732.0 C226.2,731.9 225.5,730.8 225.2,730.2 C224.9,729.7 224.9,728.9 225.1,728.6 C225.3,728.2 226.0,728.3 226.5,728.2 C226.9,728.0 227.4,727.5 227.9,727.7 C228.3,728.0 229.1,729.2 229.2,729.7Z" fill="none" stroke="#60e0e8" stroke-width="1.6" opacity="0.68" stroke-dasharray="4.0 1.5"/>
<path d="M319.5,806.4 C319.7,807.2 319.7,808.6 318.9,809.2 C318.1,809.7 315.4,810.0 314.6,809.8 C313.8,809.5 314.1,808.5 314.0,807.7 C313.9,806.8 313.6,805.3 313.8,804.6 C314.0,803.9 314.9,803.3 315.5,803.2 C316.1,803.2 316.7,803.9 317.3,804.4 C318.0,804.9 319.2,805.6 319.5,806.4Z" fill="none" stroke="#70e8e0" stroke-width="1.0" opacity="0.82"/>
<path d="M283.2,708.1 C283.2,708.7 282.2,709.8 281.8,710.3 C281.4,710.7 281.5,711.1 280.9,711.0 C280.4,710.8 278.7,709.8 278.4,709.2 C278.2,708.6 279.0,707.7 279.3,707.3 C279.7,706.8 280.1,706.4 280.6,706.4 C281.0,706.3 281.6,706.8 282.1,707.0 C282.5,707.3 283.3,707.6 283.2,708.1Z" fill="none" stroke="#48d0e0" stroke-width="1.1" opacity="0.89" stroke-dasharray="3.1 1.5"/>
<path d="M325.5,756.9 C325.5,757.4 326.0,757.6 325.7,758.0 C325.4,758.3 324.2,759.1 323.7,759.1 C323.1,759.0 322.7,758.0 322.5,757.5 C322.3,757.0 322.4,756.5 322.5,756.1 C322.7,755.7 322.8,755.0 323.3,754.9 C323.8,754.7 325.1,754.7 325.4,755.1 C325.8,755.4 325.4,756.4 325.5,756.9Z" fill="none" stroke="#70e8e0" stroke-width="1.1" opacity="0.94"/>
<path d="M217.3,772.7 C217.3,773.4 217.1,773.9 216.7,774.1 C216.3,774.3 215.0,774.0 214.6,773.8 C214.2,773.7 214.2,773.4 214.1,773.0 C214.1,772.6 214.0,771.8 214.2,771.4 C214.4,771.0 215.1,770.9 215.5,770.6 C215.9,770.4 216.4,769.7 216.7,770.0 C217.0,770.4 217.3,772.0 217.3,772.7Z" fill="none" stroke="#48d0e0" stroke-width="1.6" opacity="0.79" stroke-dasharray="3.5 1.2"/>
<path d="M233.7,725.9 C233.7,726.4 234.1,727.3 233.8,727.7 C233.5,728.1 232.4,728.5 232.0,728.3 C231.5,728.2 231.2,727.4 231.1,726.9 C231.0,726.4 231.0,725.8 231.2,725.4 C231.3,725.1 231.5,724.7 231.9,724.6 C232.4,724.5 233.6,724.6 233.9,724.8 C234.2,725.0 233.7,725.4 233.7,725.9Z" fill="none" stroke="#60e0e8" stroke-width="1.5" opacity="0.99"/>
<path d="M269.7,742.5 C269.6,743.1 269.0,744.3 268.4,744.7 C267.9,745.0 266.9,745.1 266.4,744.8 C265.8,744.5 265.6,743.4 265.3,742.8 C264.9,742.3 263.9,742.1 264.2,741.7 C264.5,741.3 266.3,740.7 267.1,740.5 C268.0,740.4 268.8,740.4 269.3,740.7 C269.7,741.0 269.9,741.8 269.7,742.5Z" fill="none" stroke="#70e8e0" stroke-width="1.5" opacity="0.69"/>
<path d="M296.9,726.9 C296.9,727.6 296.4,728.6 296.1,728.8 C295.8,729.1 295.4,728.6 295.0,728.6 C294.6,728.5 293.7,728.8 293.6,728.4 C293.5,728.0 294.1,726.7 294.3,726.2 C294.5,725.7 294.8,725.4 295.1,725.2 C295.4,725.0 295.9,724.8 296.2,725.1 C296.5,725.3 296.9,726.3 296.9,726.9Z" fill="none" stroke="#48d0e0" stroke-width="1.1" opacity="0.64"/>
<path d="M268.0,679.3 C268.1,679.8 267.2,681.0 266.7,681.5 C266.2,682.0 265.7,682.4 265.1,682.2 C264.4,682.0 263.2,681.0 262.8,680.3 C262.3,679.6 262.2,678.4 262.5,678.0 C262.8,677.6 264.2,677.9 264.8,677.9 C265.4,678.0 265.7,678.1 266.2,678.3 C266.8,678.5 268.0,678.8 268.0,679.3Z" fill="none" stroke="#48d0e0" stroke-width="1.3" opacity="0.95" stroke-dasharray="2.7 1.0"/>
<path d="M296.3,747.2 C296.3,747.7 295.2,747.5 294.4,747.7 C293.6,748.0 292.1,748.8 291.4,748.9 C290.7,749.0 290.6,749.0 290.2,748.2 C289.9,747.3 289.0,744.7 289.3,743.8 C289.6,742.8 291.1,742.4 292.0,742.5 C292.8,742.6 293.7,743.7 294.4,744.5 C295.2,745.2 296.3,746.6 296.3,747.2Z" fill="none" stroke="#38b0d0" stroke-width="1.6" opacity="0.99" stroke-dasharray="2.3 1.8"/>
<path d="M292.8,761.2 C292.8,761.8 292.6,763.1 292.2,763.6 C291.8,764.1 291.3,764.4 290.4,764.2 C289.5,764.0 287.3,763.0 286.9,762.3 C286.4,761.5 287.2,760.6 287.7,759.9 C288.1,759.2 288.9,758.1 289.7,758.1 C290.4,758.1 291.7,759.3 292.2,759.8 C292.7,760.3 292.8,760.5 292.8,761.2Z" fill="none" stroke="#60e0e8" stroke-width="1.3" opacity="0.56" stroke-dasharray="3.9 1.5"/>
<path d="M284.6,717.6 C284.7,718.4 283.0,720.0 282.4,720.6 C281.7,721.1 281.4,721.1 280.8,720.8 C280.2,720.4 279.2,719.3 278.9,718.5 C278.6,717.7 278.6,716.5 278.8,715.9 C279.0,715.3 279.4,714.7 279.9,714.7 C280.5,714.8 281.4,715.6 282.2,716.1 C282.9,716.6 284.6,716.9 284.6,717.6Z" fill="none" stroke="#70e8e0" stroke-width="1.1" opacity="0.74" stroke-dasharray="2.1 1.9"/>
<path d="M278.1,756.8 C278.3,757.6 278.4,758.9 277.9,759.4 C277.3,760.0 275.7,760.4 275.0,760.1 C274.3,759.8 274.0,758.4 273.6,757.7 C273.3,757.0 272.5,756.7 272.8,756.2 C273.1,755.6 274.8,754.8 275.5,754.6 C276.1,754.4 276.4,754.4 276.9,754.7 C277.3,755.1 278.0,756.0 278.1,756.8Z" fill="none" stroke="#38b0d0" stroke-width="1.5" opacity="0.67" stroke-dasharray="2.8 1.9"/>
<path d="M284.6,714.7 C284.7,715.3 284.2,715.7 283.7,716.0 C283.2,716.2 282.2,716.1 281.8,716.1 C281.3,716.1 280.9,716.1 280.9,715.7 C280.8,715.4 281.1,714.4 281.3,713.9 C281.6,713.3 282.0,712.7 282.4,712.4 C282.7,712.2 282.9,712.2 283.3,712.6 C283.7,713.0 284.6,714.1 284.6,714.7Z" fill="none" stroke="#38b0d0" stroke-width="1.2" opacity="0.85" stroke-dasharray="2.7 1.0"/>
<path d="M328.5,735.8 C328.5,736.3 327.9,736.9 327.4,737.2 C326.8,737.6 325.7,738.0 325.2,737.9 C324.7,737.8 324.4,737.2 324.3,736.6 C324.2,736.1 324.3,735.0 324.5,734.5 C324.8,734.0 325.2,733.8 325.6,733.7 C326.1,733.7 326.7,733.6 327.2,733.9 C327.6,734.3 328.4,735.3 328.5,735.8Z" fill="none" stroke="#48d0e0" stroke-width="1.3" opacity="0.73" stroke-dasharray="2.4 1.9"/>
<path d="M207.3,697.4 C207.1,698.1 206.1,698.9 205.4,699.1 C204.6,699.4 203.4,699.3 203.0,699.0 C202.5,698.7 202.6,697.7 202.5,697.1 C202.4,696.6 202.1,696.1 202.4,695.5 C202.7,694.9 203.6,693.6 204.2,693.5 C204.9,693.4 205.6,694.2 206.1,694.9 C206.6,695.5 207.4,696.7 207.3,697.4Z" fill="none" stroke="#38b0d0" stroke-width="1.0" opacity="0.68" stroke-dasharray="2.3 1.4"/>
<path d="M310.1,706.4 C310.0,706.9 309.3,707.5 308.9,707.9 C308.6,708.3 308.5,708.9 308.1,708.8 C307.8,708.7 307.2,707.9 306.8,707.4 C306.4,706.9 305.7,706.2 305.7,705.7 C305.7,705.1 306.4,704.2 307.1,704.1 C307.7,704.0 309.2,704.6 309.7,705.0 C310.3,705.4 310.3,705.9 310.1,706.4Z" fill="none" stroke="#70e8e0" stroke-width="1.5" opacity="0.71" stroke-dasharray="3.6 0.9"/>
<path d="M318.5,717.6 C318.3,718.3 317.6,719.6 316.9,720.1 C316.3,720.6 315.1,720.9 314.6,720.8 C314.1,720.8 314.1,720.4 314.0,719.8 C313.8,719.2 313.5,718.0 313.7,717.3 C314.0,716.5 314.7,715.5 315.4,715.3 C316.1,715.1 317.4,715.6 317.9,716.0 C318.4,716.4 318.7,716.9 318.5,717.6Z" fill="none" stroke="#60e0e8" stroke-width="1.7" opacity="0.91" stroke-dasharray="3.6 1.3"/>
<path d="M227.7,781.9 C227.8,782.6 226.5,784.7 225.7,785.2 C224.9,785.7 223.8,785.1 223.1,785.0 C222.4,784.9 221.5,785.2 221.3,784.7 C221.0,784.2 221.0,782.7 221.5,781.8 C222.0,781.0 223.7,779.9 224.3,779.7 C224.9,779.5 224.6,780.5 225.1,780.8 C225.7,781.2 227.6,781.1 227.7,781.9Z" fill="none" stroke="#60e0e8" stroke-width="1.1" opacity="0.79" stroke-dasharray="3.3 1.5"/>
<path d="M321.3,793.3 C321.4,793.9 321.7,794.3 321.3,794.5 C320.8,794.7 319.1,794.5 318.5,794.4 C317.8,794.3 317.6,794.2 317.4,793.8 C317.3,793.5 317.3,792.7 317.5,792.2 C317.7,791.8 318.3,791.3 318.8,791.0 C319.3,790.7 319.9,790.2 320.3,790.6 C320.7,790.9 321.1,792.6 321.3,793.3Z" fill="none" stroke="#48d0e0" stroke-width="1.1" opacity="0.94" stroke-dasharray="3.8 2.0"/>
<path d="M292.5,714.2 C292.7,714.8 293.1,715.5 292.7,715.8 C292.3,716.0 290.9,715.8 290.3,715.7 C289.7,715.6 289.3,715.4 289.1,715.0 C288.8,714.6 288.4,713.7 288.8,713.3 C289.1,712.8 290.6,712.6 291.1,712.4 C291.7,712.2 291.7,711.7 291.9,712.0 C292.1,712.3 292.4,713.5 292.5,714.2Z" fill="none" stroke="#38b0d0" stroke-width="1.6" opacity="0.64" stroke-dasharray="2.1 1.5"/>
<path d="M261.8,747.2 C261.8,747.9 260.4,749.1 259.8,749.7 C259.3,750.3 259.3,751.0 258.7,750.9 C258.2,750.8 256.6,749.9 256.4,749.2 C256.1,748.6 256.8,747.5 257.3,746.9 C257.7,746.4 258.3,746.2 258.8,746.0 C259.3,745.8 259.6,745.3 260.1,745.5 C260.6,745.7 261.9,746.5 261.8,747.2Z" fill="none" stroke="#38b0d0" stroke-width="1.3" opacity="0.73"/>
<path d="M242.1,728.1 C242.0,728.6 241.7,729.4 241.3,729.8 C241.0,730.2 240.4,730.5 240.1,730.3 C239.7,730.1 239.3,729.3 239.1,728.8 C239.0,728.3 238.8,727.7 239.0,727.3 C239.1,726.9 239.8,726.3 240.3,726.2 C240.7,726.1 241.6,726.4 241.9,726.7 C242.2,727.0 242.2,727.6 242.1,728.1Z" fill="none" stroke="#38b0d0" stroke-width="1.6" opacity="0.63" stroke-dasharray="3.9 1.9"/>
<path d="M313.0,697.1 C313.0,697.7 313.4,697.8 312.8,698.0 C312.1,698.3 310.0,698.9 309.2,698.8 C308.5,698.7 308.6,698.1 308.4,697.5 C308.2,696.9 308.0,695.8 308.3,695.2 C308.5,694.5 309.1,693.6 309.9,693.5 C310.6,693.4 312.3,694.1 312.8,694.7 C313.4,695.3 313.0,696.6 313.0,697.1Z" fill="none" stroke="#38b0d0" stroke-width="1.2" opacity="0.70"/>
<path d="M300.3,704.1 C300.3,704.9 300.0,705.1 299.5,705.5 C299.0,705.9 297.9,706.5 297.3,706.4 C296.7,706.4 296.3,706.0 296.0,705.3 C295.6,704.5 294.8,702.8 295.0,702.1 C295.2,701.4 296.3,701.2 297.0,701.0 C297.8,700.9 298.9,700.5 299.4,701.0 C300.0,701.5 300.2,703.4 300.3,704.1Z" fill="none" stroke="#70e8e0" stroke-width="1.6" opacity="0.62"/>
<path d="M274.5,803.3 C274.4,803.9 273.7,805.3 273.1,805.8 C272.6,806.4 271.6,806.6 271.1,806.4 C270.6,806.2 270.3,805.3 270.1,804.7 C269.8,804.1 269.1,803.4 269.5,803.0 C269.8,802.6 271.3,802.4 272.0,802.3 C272.7,802.2 273.3,802.3 273.7,802.5 C274.1,802.7 274.6,802.8 274.5,803.3Z" fill="none" stroke="#70e8e0" stroke-width="1.3" opacity="0.58" stroke-dasharray="3.4 1.1"/>
<path d="M303.1,751.2 C303.1,751.6 302.6,751.9 302.3,752.2 C301.9,752.4 301.5,752.6 301.1,752.6 C300.7,752.5 300.3,752.0 300.1,751.7 C299.9,751.3 299.6,751.0 299.8,750.6 C299.9,750.3 300.5,749.7 301.0,749.6 C301.4,749.4 301.9,749.5 302.3,749.7 C302.7,750.0 303.1,750.8 303.1,751.2Z" fill="none" stroke="#48d0e0" stroke-width="1.6" opacity="0.98" stroke-dasharray="3.9 0.9"/>
<path d="M323.7,732.9 C323.7,733.2 323.6,733.4 323.1,733.7 C322.7,734.0 321.5,734.7 321.0,734.6 C320.5,734.5 320.3,733.5 320.2,733.1 C320.1,732.7 320.2,732.4 320.4,732.0 C320.6,731.6 321.0,730.8 321.4,730.8 C321.8,730.7 322.5,731.5 322.9,731.9 C323.3,732.2 323.7,732.6 323.7,732.9Z" fill="none" stroke="#48d0e0" stroke-width="1.4" opacity="0.70" stroke-dasharray="2.4 1.8"/>
<path d="M271.8,711.7 C271.7,712.3 270.9,713.2 270.5,713.6 C270.1,714.0 269.8,714.3 269.3,714.1 C268.8,713.9 268.1,713.1 267.7,712.6 C267.4,712.0 267.1,711.1 267.2,710.6 C267.3,710.0 267.6,709.6 268.3,709.5 C269.0,709.4 270.8,709.7 271.4,710.0 C271.9,710.4 271.9,711.1 271.8,711.7Z" fill="none" stroke="#70e8e0" stroke-width="1.4" opacity="0.99" stroke-dasharray="2.9 1.6"/>
<path d="M271.1,730.5 C271.1,731.2 270.0,732.9 269.4,733.3 C268.7,733.8 267.9,733.2 267.4,733.0 C266.9,732.9 266.8,732.9 266.5,732.3 C266.2,731.7 265.2,729.8 265.4,729.2 C265.6,728.7 266.9,729.0 267.6,729.0 C268.3,729.0 269.0,728.9 269.6,729.2 C270.2,729.4 271.2,729.8 271.1,730.5Z" fill="none" stroke="#38b0d0" stroke-width="1.4" opacity="0.80" stroke-dasharray="3.6 1.3"/>
<path d="M288.4,719.7 C288.3,720.5 287.4,721.6 287.0,722.1 C286.6,722.6 286.6,722.7 286.0,722.6 C285.4,722.4 283.8,721.7 283.4,721.0 C283.1,720.4 283.7,719.3 284.0,718.7 C284.2,718.1 284.4,717.3 285.1,717.2 C285.7,717.0 287.2,717.3 287.8,717.7 C288.4,718.1 288.6,719.0 288.4,719.7Z" fill="none" stroke="#60e0e8" stroke-width="1.3" opacity="0.86" stroke-dasharray="3.9 0.9"/>
<path d="M288.7,771.6 C288.7,772.3 288.1,773.5 287.6,773.8 C287.1,774.1 286.5,773.9 285.9,773.6 C285.3,773.3 284.2,772.7 283.9,772.1 C283.5,771.4 283.4,770.2 283.8,769.6 C284.1,769.0 285.2,768.7 285.8,768.7 C286.5,768.6 287.4,769.1 287.8,769.6 C288.3,770.1 288.8,770.9 288.7,771.6Z" fill="none" stroke="#38b0d0" stroke-width="1.2" opacity="0.88"/>
<path d="M327.6,682.1 C327.6,682.5 326.8,683.6 326.5,683.9 C326.1,684.3 326.0,684.1 325.5,684.2 C325.0,684.2 323.9,684.4 323.5,684.0 C323.2,683.5 323.0,682.0 323.4,681.4 C323.8,680.8 325.1,680.6 325.7,680.6 C326.3,680.6 326.5,681.2 326.8,681.4 C327.1,681.7 327.7,681.7 327.6,682.1Z" fill="none" stroke="#48d0e0" stroke-width="1.5" opacity="0.73"/>
<path d="M299.7,686.7 C299.9,687.4 299.9,688.6 299.5,689.1 C299.1,689.5 297.9,689.6 297.2,689.5 C296.5,689.4 295.4,689.2 295.1,688.5 C294.8,687.8 294.9,686.2 295.3,685.4 C295.7,684.6 296.9,683.8 297.4,683.8 C298.0,683.7 298.2,684.4 298.5,684.9 C298.9,685.4 299.6,686.0 299.7,686.7Z" fill="none" stroke="#70e8e0" stroke-width="1.4" opacity="0.58" stroke-dasharray="3.2 0.9"/>
<path d="M280.3,758.3 C280.2,758.8 280.1,759.9 279.7,760.3 C279.4,760.7 279.0,760.9 278.4,760.9 C277.8,760.9 276.8,760.6 276.3,760.1 C275.9,759.5 275.5,758.0 275.6,757.6 C275.8,757.1 276.8,757.2 277.5,757.3 C278.2,757.3 279.4,757.5 279.9,757.7 C280.4,757.8 280.3,757.9 280.3,758.3Z" fill="none" stroke="#48d0e0" stroke-width="1.6" opacity="0.93" stroke-dasharray="2.6 1.9"/>
<path d="M330.9,751.9 C331.0,752.8 329.8,754.7 329.0,755.1 C328.2,755.6 327.0,754.7 326.3,754.6 C325.7,754.5 325.0,755.2 324.9,754.6 C324.8,754.0 325.4,751.9 325.8,750.9 C326.2,749.9 327.0,748.9 327.4,748.7 C327.9,748.5 328.0,749.4 328.6,749.9 C329.2,750.4 330.9,751.0 330.9,751.9Z" fill="none" stroke="#48d0e0" stroke-width="1.1" opacity="0.68"/>
<path d="M206.1,791.9 C206.2,792.6 206.5,793.2 206.0,793.6 C205.5,794.0 203.9,794.4 203.2,794.1 C202.6,793.9 202.4,792.8 202.3,792.3 C202.1,791.9 202.1,791.9 202.3,791.6 C202.6,791.3 203.3,790.7 203.8,790.4 C204.4,790.0 205.1,789.2 205.5,789.5 C205.8,789.7 206.0,791.2 206.1,791.9Z" fill="none" stroke="#38b0d0" stroke-width="1.6" opacity="0.78"/>
<path d="M220.3,687.9 C220.4,688.6 220.4,690.4 219.7,691.0 C219.1,691.6 217.1,691.6 216.3,691.4 C215.4,691.2 214.7,690.5 214.6,689.8 C214.5,689.2 215.5,688.1 215.7,687.4 C216.0,686.7 215.2,685.6 215.9,685.5 C216.5,685.5 218.8,686.4 219.6,686.8 C220.3,687.2 220.3,687.2 220.3,687.9Z" fill="none" stroke="#60e0e8" stroke-width="1.3" opacity="0.92" stroke-dasharray="3.8 1.7"/>
<path d="M321.2,705.4 C321.3,705.9 321.1,706.3 320.7,706.6 C320.2,706.9 318.8,707.2 318.4,707.1 C318.0,707.0 318.3,706.5 318.2,705.9 C318.1,705.4 317.5,704.1 317.6,703.6 C317.8,703.1 318.6,703.1 319.0,703.0 C319.4,703.0 319.6,703.1 320.0,703.5 C320.4,703.9 321.1,704.9 321.2,705.4Z" fill="none" stroke="#60e0e8" stroke-width="1.7" opacity="0.67" stroke-dasharray="3.1 1.3"/>
<path d="M206.5,694.0 C206.6,694.5 206.2,694.7 205.8,695.1 C205.5,695.4 205.1,696.1 204.3,695.9 C203.6,695.8 201.8,694.8 201.5,694.1 C201.1,693.4 201.8,692.4 202.3,691.9 C202.7,691.5 203.6,691.4 204.2,691.4 C204.7,691.4 205.1,691.6 205.5,692.0 C205.9,692.4 206.5,693.5 206.5,694.0Z" fill="none" stroke="#48d0e0" stroke-width="1.6" opacity="0.89"/>
<path d="M271.9,701.2 C271.8,701.6 271.2,702.0 270.7,702.3 C270.2,702.5 269.5,702.8 269.0,702.7 C268.5,702.6 267.7,702.0 267.5,701.7 C267.3,701.3 267.7,701.0 267.9,700.6 C268.1,700.2 268.0,699.2 268.6,699.1 C269.1,698.9 270.8,699.2 271.3,699.6 C271.9,699.9 272.0,700.7 271.9,701.2Z" fill="none" stroke="#38b0d0" stroke-width="1.6" opacity="0.83"/>
<path d="M278.5,782.4 C278.4,782.9 278.2,783.7 277.8,784.0 C277.4,784.4 276.3,784.7 275.9,784.6 C275.6,784.5 275.7,784.1 275.7,783.5 C275.6,783.0 275.6,781.9 275.7,781.4 C275.8,780.8 275.9,780.3 276.3,780.2 C276.7,780.2 277.7,780.7 278.1,781.0 C278.4,781.4 278.5,781.9 278.5,782.4Z" fill="none" stroke="#38b0d0" stroke-width="1.1" opacity="0.87" stroke-dasharray="3.0 1.0"/>
<path d="M331.1,710.0 C331.2,710.7 332.2,711.5 331.7,711.7 C331.2,712.0 329.1,711.8 328.3,711.6 C327.4,711.4 326.8,710.9 326.6,710.4 C326.3,709.9 326.4,709.4 326.7,708.8 C327.1,708.2 327.9,706.7 328.6,706.5 C329.3,706.4 330.4,707.2 330.8,707.8 C331.2,708.3 330.9,709.4 331.1,710.0Z" fill="none" stroke="#60e0e8" stroke-width="1.5" opacity="0.76" stroke-dasharray="2.1 1.4"/>
<path d="M238.2,807.3 C238.1,807.9 237.4,809.3 236.8,810.0 C236.1,810.7 235.1,811.6 234.4,811.6 C233.6,811.6 232.7,810.6 232.3,809.9 C231.9,809.2 231.8,808.2 231.9,807.4 C232.1,806.6 232.2,805.1 233.2,804.9 C234.1,804.7 236.7,805.9 237.6,806.3 C238.4,806.7 238.3,806.7 238.2,807.3Z" fill="none" stroke="#c040e0" stroke-width="1.3" opacity="0.62" stroke-dasharray="2.8 1.7"/>
<path d="M280.6,770.7 C280.5,771.3 280.7,772.5 280.3,772.7 C279.9,773.0 278.9,772.5 278.2,772.3 C277.5,772.1 276.6,771.9 276.2,771.5 C275.8,771.2 275.6,770.8 275.9,770.1 C276.2,769.5 277.3,768.0 278.1,767.7 C278.9,767.5 280.3,768.2 280.7,768.7 C281.1,769.2 280.7,770.0 280.6,770.7Z" fill="none" stroke="#b030d0" stroke-width="1.2" opacity="0.92"/>
<path d="M264.6,760.6 C264.6,761.2 264.5,762.5 264.1,762.9 C263.8,763.3 263.2,763.2 262.7,763.0 C262.1,762.8 261.1,762.0 260.8,761.5 C260.5,761.0 260.5,760.7 260.9,760.2 C261.3,759.7 262.6,758.6 263.2,758.4 C263.7,758.3 264.1,759.0 264.3,759.3 C264.5,759.7 264.7,760.0 264.6,760.6Z" fill="none" stroke="#c040e0" stroke-width="1.2" opacity="0.96"/>
<path d="M337.8,782.7 C337.8,783.3 337.1,784.4 336.8,784.9 C336.4,785.3 336.4,785.6 335.7,785.4 C335.1,785.2 333.4,784.4 333.1,783.8 C332.7,783.1 333.4,781.9 333.8,781.5 C334.2,781.0 335.2,780.8 335.7,780.9 C336.2,780.9 336.4,781.3 336.8,781.6 C337.1,781.9 337.8,782.2 337.8,782.7Z" fill="none" stroke="#d050f0" stroke-width="1.4" opacity="0.65" stroke-dasharray="3.0 1.9"/>
<path d="M230.4,730.8 C230.4,731.3 229.5,733.0 228.8,733.5 C228.1,734.0 226.8,733.9 226.3,733.9 C225.7,733.8 225.6,733.7 225.3,733.0 C225.1,732.3 224.6,730.4 224.9,729.8 C225.1,729.3 226.2,729.5 226.8,729.6 C227.5,729.7 228.4,730.1 229.0,730.3 C229.5,730.5 230.4,730.2 230.4,730.8Z" fill="none" stroke="#d050f0" stroke-width="1.6" opacity="0.51" stroke-dasharray="3.6 1.9"/>
<path d="M296.7,727.1 C296.7,727.9 295.7,730.2 295.0,730.9 C294.4,731.6 293.5,731.7 292.7,731.3 C292.0,730.9 291.1,729.2 290.8,728.5 C290.4,727.7 290.2,727.1 290.5,726.6 C290.7,726.1 291.6,725.8 292.4,725.8 C293.2,725.7 294.4,725.9 295.1,726.1 C295.8,726.4 296.8,726.3 296.7,727.1Z" fill="none" stroke="#d050f0" stroke-width="1.5" opacity="0.70" stroke-dasharray="2.0 1.6"/>
<path d="M236.2,760.1 C236.3,760.7 236.1,760.7 235.6,760.9 C235.1,761.0 233.7,761.3 233.0,761.1 C232.4,760.9 232.1,760.2 231.9,759.7 C231.6,759.2 231.2,758.5 231.5,758.1 C231.7,757.8 232.8,757.7 233.3,757.5 C233.8,757.4 234.1,756.8 234.6,757.3 C235.0,757.7 236.0,759.5 236.2,760.1Z" fill="none" stroke="#d050f0" stroke-width="1.1" opacity="0.51" stroke-dasharray="3.2 1.7"/>
<path d="M205.8,773.0 C205.7,773.7 204.9,774.7 204.5,775.0 C204.1,775.2 204.0,774.7 203.5,774.6 C203.0,774.5 202.0,774.8 201.7,774.3 C201.4,773.8 201.3,772.0 201.5,771.5 C201.8,770.9 202.7,771.1 203.2,771.0 C203.8,770.8 204.3,770.4 204.7,770.7 C205.2,771.1 205.8,772.3 205.8,773.0Z" fill="none" stroke="#b030d0" stroke-width="1.0" opacity="0.93" stroke-dasharray="2.0 1.5"/>
<path d="M268.8,742.3 C269.0,743.1 267.6,743.4 267.1,743.9 C266.5,744.4 266.0,745.4 265.3,745.4 C264.5,745.3 263.0,744.4 262.6,743.6 C262.2,742.7 262.6,741.0 262.9,740.3 C263.1,739.5 263.7,739.1 264.2,738.9 C264.8,738.6 265.4,738.2 266.1,738.8 C266.9,739.3 268.7,741.4 268.8,742.3Z" fill="none" stroke="#d050f0" stroke-width="1.3" opacity="0.93" stroke-dasharray="3.4 1.6"/>
<path d="M330.9,792.0 C330.8,792.6 330.5,792.9 330.2,793.2 C329.8,793.6 329.4,794.0 328.9,793.9 C328.4,793.7 327.4,793.2 327.2,792.6 C327.0,792.0 327.3,790.6 327.5,790.1 C327.7,789.7 328.0,789.9 328.5,789.9 C329.1,789.8 330.3,789.4 330.7,789.7 C331.1,790.1 331.0,791.4 330.9,792.0Z" fill="none" stroke="#b030d0" stroke-width="1.2" opacity="0.76" stroke-dasharray="2.3 1.2"/>
<path d="M291.5,712.0 C291.6,712.8 290.9,714.0 290.1,714.6 C289.4,715.2 287.8,715.6 287.1,715.6 C286.5,715.6 286.4,715.3 286.1,714.5 C285.8,713.8 285.0,711.8 285.4,710.9 C285.9,710.0 288.1,709.2 288.9,709.1 C289.6,709.0 289.3,709.6 289.7,710.1 C290.2,710.6 291.4,711.3 291.5,712.0Z" fill="none" stroke="#d050f0" stroke-width="1.4" opacity="0.74" stroke-dasharray="3.5 0.9"/>
<path d="M315.9,759.1 C315.9,759.9 315.3,760.9 314.7,761.1 C314.0,761.2 312.5,760.4 312.0,760.1 C311.4,759.9 311.5,760.1 311.3,759.7 C311.1,759.3 310.9,758.1 310.9,757.5 C310.9,756.8 310.8,755.9 311.4,755.7 C312.1,755.6 314.2,755.8 314.9,756.4 C315.7,757.0 316.0,758.3 315.9,759.1Z" fill="none" stroke="#d050f0" stroke-width="1.2" opacity="0.60"/>
<path d="M270.8,780.1 C270.8,780.6 270.3,781.0 269.9,781.3 C269.4,781.6 268.5,781.9 268.0,781.8 C267.5,781.7 267.1,781.4 266.9,780.7 C266.6,780.1 266.4,778.5 266.5,778.1 C266.7,777.6 267.1,778.2 267.7,778.3 C268.3,778.3 269.5,778.2 270.0,778.5 C270.5,778.8 270.8,779.6 270.8,780.1Z" fill="none" stroke="#c040e0" stroke-width="1.1" opacity="0.62"/>
<path d="M283.8,756.4 C283.8,757.1 283.9,758.3 283.5,758.8 C283.0,759.3 281.7,759.6 281.2,759.5 C280.7,759.3 280.5,758.7 280.3,758.0 C280.1,757.4 279.7,756.4 280.0,755.8 C280.2,755.3 281.2,754.9 281.7,754.7 C282.2,754.5 282.6,754.3 283.0,754.6 C283.3,754.9 283.7,755.7 283.8,756.4Z" fill="none" stroke="#b030d0" stroke-width="1.5" opacity="0.63"/>
<path d="M211.4,784.4 C211.3,785.3 210.5,786.4 210.1,786.8 C209.7,787.2 209.5,787.0 209.0,786.8 C208.4,786.6 207.3,786.2 206.9,785.5 C206.5,784.9 206.3,783.5 206.6,782.9 C206.9,782.3 207.9,782.3 208.6,782.0 C209.2,781.8 210.2,781.3 210.7,781.7 C211.1,782.1 211.5,783.6 211.4,784.4Z" fill="none" stroke="#c040e0" stroke-width="1.1" opacity="0.56"/>
<path d="M304.9,756.1 C304.8,756.7 303.7,758.7 303.2,759.3 C302.7,759.9 302.4,760.2 301.8,759.9 C301.1,759.6 299.6,758.3 299.2,757.5 C298.8,756.8 299.1,756.1 299.5,755.5 C300.0,754.8 301.2,753.4 301.9,753.4 C302.5,753.4 302.9,755.0 303.4,755.4 C303.9,755.9 304.9,755.4 304.9,756.1Z" fill="none" stroke="#c040e0" stroke-width="1.2" opacity="0.97" stroke-dasharray="3.4 1.0"/>
<path d="M324.6,775.9 C324.7,776.5 323.8,777.2 323.2,777.6 C322.6,778.0 321.8,778.4 321.1,778.3 C320.5,778.1 319.6,777.3 319.3,776.8 C318.9,776.4 318.6,776.2 318.9,775.7 C319.3,775.3 320.8,774.3 321.4,774.0 C322.1,773.7 322.2,773.8 322.8,774.2 C323.3,774.5 324.5,775.4 324.6,775.9Z" fill="none" stroke="#c040e0" stroke-width="1.1" opacity="0.87" stroke-dasharray="3.2 1.3"/>
<path d="M205.6,725.5 C205.5,726.3 204.1,727.0 203.4,727.3 C202.7,727.6 202.1,727.8 201.4,727.4 C200.8,727.1 199.8,726.0 199.6,725.3 C199.4,724.5 200.1,723.6 200.3,723.0 C200.6,722.3 200.5,721.5 201.1,721.4 C201.7,721.4 203.2,722.1 203.9,722.8 C204.7,723.5 205.7,724.8 205.6,725.5Z" fill="none" stroke="#b030d0" stroke-width="1.5" opacity="0.96" stroke-dasharray="3.8 1.0"/>
<path d="M271.6,788.0 C271.7,788.7 270.6,788.9 270.1,789.1 C269.6,789.4 269.1,789.4 268.6,789.3 C268.1,789.1 267.4,788.5 267.2,788.1 C266.9,787.6 266.8,787.2 267.0,786.7 C267.3,786.1 268.2,785.2 268.7,785.0 C269.2,784.8 269.6,785.0 270.0,785.5 C270.5,786.0 271.6,787.4 271.6,788.0Z" fill="none" stroke="#b030d0" stroke-width="1.3" opacity="0.92"/>
<path d="M214.2,797.0 C214.1,797.8 213.8,799.2 213.4,799.7 C213.0,800.2 212.3,800.2 211.6,799.9 C211.0,799.7 209.8,798.7 209.4,798.2 C209.1,797.6 209.4,797.1 209.7,796.5 C210.0,795.9 210.4,794.8 211.1,794.5 C211.8,794.2 213.3,794.2 213.8,794.6 C214.3,795.0 214.3,796.1 214.2,797.0Z" fill="none" stroke="#d050f0" stroke-width="1.4" opacity="0.58" stroke-dasharray="2.3 2.0"/>
<path d="M228.6,766.6 C228.7,767.1 229.2,767.9 228.8,768.4 C228.3,768.8 226.9,769.5 225.9,769.4 C225.0,769.3 223.5,768.4 223.1,767.6 C222.7,766.7 223.1,764.8 223.6,764.2 C224.2,763.7 225.7,764.3 226.4,764.5 C227.1,764.6 227.5,764.8 227.8,765.1 C228.2,765.5 228.4,766.0 228.6,766.6Z" fill="none" stroke="#b030d0" stroke-width="1.1" opacity="0.60"/>
<path d="M217.1,734.4 C217.1,734.9 215.9,735.7 215.3,736.0 C214.7,736.4 213.9,736.7 213.4,736.6 C212.8,736.5 212.2,735.8 212.1,735.4 C212.0,734.9 212.3,734.6 212.6,734.0 C212.9,733.5 213.6,732.2 214.0,732.0 C214.5,731.8 214.8,732.6 215.3,733.0 C215.8,733.3 217.1,733.8 217.1,734.4Z" fill="none" stroke="#b030d0" stroke-width="1.2" opacity="0.71"/>
<path d="M211.6,690.5 C211.6,691.0 211.7,691.3 211.4,691.6 C211.0,691.8 209.9,692.2 209.4,692.2 C208.8,692.2 208.1,692.1 207.9,691.7 C207.7,691.3 207.7,690.5 208.1,689.9 C208.4,689.2 209.5,687.9 210.1,687.7 C210.7,687.6 211.4,688.6 211.7,689.0 C211.9,689.5 211.7,690.1 211.6,690.5Z" fill="none" stroke="#c040e0" stroke-width="1.5" opacity="0.87"/>
<path d="M297.7,708.4 C297.7,708.9 297.4,709.8 297.0,710.1 C296.7,710.4 296.0,710.4 295.5,710.2 C295.1,710.0 294.3,709.3 294.1,708.9 C293.8,708.5 293.8,708.4 293.9,707.8 C294.0,707.3 294.1,705.7 294.6,705.5 C295.1,705.4 296.6,706.3 297.2,706.8 C297.7,707.2 297.7,707.8 297.7,708.4Z" fill="none" stroke="#c040e0" stroke-width="1.1" opacity="0.94" stroke-dasharray="3.9 1.6"/>
<path d="M248.3,741.7 C248.3,742.2 248.0,742.3 247.6,742.6 C247.2,742.9 246.2,743.6 245.7,743.5 C245.2,743.4 244.7,742.7 244.5,742.1 C244.4,741.5 244.7,740.5 244.8,740.0 C244.9,739.6 244.8,739.5 245.2,739.4 C245.6,739.2 246.7,738.9 247.2,739.2 C247.7,739.6 248.2,741.1 248.3,741.7Z" fill="none" stroke="#c040e0" stroke-width="1.0" opacity="0.72" stroke-dasharray="2.3 1.8"/>
<path d="M299.2,701.3 C299.1,702.0 298.1,702.8 297.6,703.4 C297.2,703.9 297.0,704.5 296.5,704.6 C295.9,704.6 294.7,704.4 294.3,703.6 C293.9,702.8 293.9,700.6 294.2,699.9 C294.5,699.1 295.8,699.2 296.4,699.1 C297.0,699.0 297.5,698.8 298.0,699.2 C298.4,699.5 299.3,700.6 299.2,701.3Z" fill="none" stroke="#c040e0" stroke-width="1.2" opacity="0.59" stroke-dasharray="3.9 1.9"/>
<path d="M284.2,753.1 C284.1,753.8 284.4,754.4 283.9,754.6 C283.4,754.8 281.8,754.4 281.1,754.3 C280.3,754.1 279.5,754.0 279.4,753.6 C279.2,753.3 279.7,752.6 280.0,752.1 C280.3,751.5 280.5,750.6 281.2,750.3 C281.9,750.0 283.8,749.8 284.3,750.2 C284.8,750.7 284.2,752.4 284.2,753.1Z" fill="none" stroke="#c040e0" stroke-width="1.1" opacity="0.64"/>
<path d="M260.7,807.5 C260.6,808.0 259.9,809.6 259.4,810.2 C258.8,810.8 257.9,811.2 257.3,811.0 C256.6,810.8 255.8,809.9 255.6,809.1 C255.3,808.3 255.6,807.0 255.9,806.3 C256.2,805.7 256.7,805.0 257.3,805.1 C257.9,805.2 259.0,806.6 259.6,807.0 C260.2,807.4 260.7,806.9 260.7,807.5Z" fill="none" stroke="#c040e0" stroke-width="1.3" opacity="0.76"/>
<path d="M224.6,793.1 C224.6,793.6 223.9,793.7 223.4,794.0 C222.8,794.3 221.7,794.7 221.1,794.7 C220.6,794.7 220.5,794.7 220.2,794.2 C219.9,793.7 219.3,792.4 219.5,791.7 C219.7,791.1 220.8,790.5 221.4,790.3 C221.9,790.2 222.4,790.5 222.9,790.9 C223.5,791.4 224.5,792.5 224.6,793.1Z" fill="none" stroke="#d050f0" stroke-width="1.1" opacity="0.95"/>
<path d="M297.0,777.3 C296.9,777.9 296.7,779.7 296.3,780.1 C296.0,780.6 295.5,780.5 294.9,780.2 C294.3,779.8 292.9,778.7 292.6,778.2 C292.4,777.7 293.2,777.7 293.5,777.3 C293.9,776.9 294.3,775.9 294.8,775.8 C295.3,775.7 296.3,776.4 296.7,776.6 C297.1,776.9 297.1,776.7 297.0,777.3Z" fill="none" stroke="#c040e0" stroke-width="1.1" opacity="0.51"/>
<path d="M264.8,788.0 C265.0,788.6 265.5,789.3 265.1,789.8 C264.6,790.2 262.9,790.6 262.1,790.6 C261.3,790.6 260.6,790.2 260.2,789.6 C259.8,789.0 259.8,787.8 259.9,787.1 C260.1,786.4 260.4,785.5 261.2,785.4 C261.9,785.2 263.6,785.6 264.2,786.1 C264.8,786.5 264.7,787.4 264.8,788.0Z" fill="none" stroke="#d0e050" stroke-width="1.6" opacity="1.00" stroke-dasharray="2.2 1.8"/>
<path d="M248.0,749.1 C247.9,749.8 247.8,751.2 247.5,751.7 C247.1,752.2 246.5,752.4 245.9,752.3 C245.2,752.2 243.9,751.8 243.7,751.1 C243.5,750.5 244.3,749.1 244.6,748.5 C245.0,747.8 245.2,747.5 245.8,747.3 C246.3,747.1 247.7,747.0 248.1,747.3 C248.4,747.6 248.1,748.4 248.0,749.1Z" fill="none" stroke="#d0e050" stroke-width="1.6" opacity="1.00"/>
<path d="M226.7,776.7 C226.6,777.3 226.9,778.1 226.3,778.6 C225.8,779.0 224.1,779.7 223.5,779.6 C222.8,779.5 222.6,778.8 222.4,778.2 C222.3,777.6 222.5,776.5 222.6,775.9 C222.8,775.3 222.7,774.8 223.4,774.7 C224.0,774.6 226.0,774.9 226.5,775.3 C227.0,775.6 226.7,776.2 226.7,776.7Z" fill="none" stroke="#d0e050" stroke-width="1.6" opacity="1.00" stroke-dasharray="3.9 0.9"/>
</g></g>
<rect x="56.6" y="678.4" width="137" height="129.9" fill="none" stroke="#06062a" stroke-width="0.9" opacity="0.8"/>
<rect x="199.2" y="678.4" width="136.4" height="129.9" fill="none" stroke="#06062a" stroke-width="0.9" opacity="0.8"/>
<text x="0" y="0" font-size="14.6" text-anchor="middle" fill="#3a3a3a" transform="translate(124,859.8) scale(1.05,1)">cHL node</text>
<text x="0" y="0" font-size="14.6" text-anchor="middle" fill="#3a3a3a" transform="translate(296.8,858.9) scale(1.03,1)">DLBCL node</text>
<text x="0" y="0" font-size="12" text-anchor="middle" fill="#3a3a3a" transform="translate(123.6,1034) scale(0.87,1.2)">PD-L1</text>
<text x="0" y="0" font-size="12" text-anchor="middle" fill="#3a3a3a" transform="translate(296.5,1034.5) scale(0.87,1.2)">PD-L1</text>
<text x="0" y="0" font-size="12" text-anchor="middle" fill="#3a3a3a" transform="translate(47,942.2) rotate(-90) scale(0.88,1.24)">PD-L2</text>
<text x="0" y="0" font-size="12" text-anchor="middle" fill="#3a3a3a" transform="translate(220.2,940.2) rotate(-90) scale(0.88,1.24)">PD-L2</text>
<rect x="140.2" y="976.1" width="0.9" height="0.9" fill="#bbb"/><rect x="168.9" y="981.0" width="0.9" height="0.9" fill="#ccc"/><rect x="143.7" y="998.8" width="0.9" height="0.9" fill="#bbb"/><rect x="107.1" y="994.2" width="0.9" height="0.9" fill="#d5d5d5"/><rect x="129.8" y="952.1" width="0.9" height="0.9" fill="#bbb"/><rect x="154.5" y="928.4" width="0.9" height="0.9" fill="#ccc"/><rect x="179.0" y="979.5" width="0.9" height="0.9" fill="#ccc"/><rect x="158.6" y="880.3" width="0.9" height="0.9" fill="#d5d5d5"/><rect x="74.7" y="870.3" width="0.9" height="0.9" fill="#bbb"/><rect x="85.6" y="900.8" width="0.9" height="0.9" fill="#ccc"/><rect x="173.2" y="911.4" width="0.9" height="0.9" fill="#ccc"/><rect x="129.2" y="966.9" width="0.9" height="0.9" fill="#ccc"/><rect x="82.0" y="1008.5" width="0.9" height="0.9" fill="#ccc"/><rect x="185.6" y="997.8" width="0.9" height="0.9" fill="#aaa"/><rect x="60.8" y="929.3" width="0.9" height="0.9" fill="#ccc"/><rect x="92.8" y="917.5" width="0.9" height="0.9" fill="#bbb"/><rect x="136.7" y="971.2" width="0.9" height="0.9" fill="#bbb"/><rect x="98.9" y="987.0" width="0.9" height="0.9" fill="#d5d5d5"/><rect x="149.9" y="896.4" width="0.9" height="0.9" fill="#d5d5d5"/><rect x="151.0" y="878.2" width="0.9" height="0.9" fill="#bbb"/><rect x="183.3" y="921.1" width="0.9" height="0.9" fill="#d5d5d5"/><rect x="60.4" y="982.6" width="0.9" height="0.9" fill="#aaa"/><rect x="107.7" y="990.3" width="0.9" height="0.9" fill="#d5d5d5"/><rect x="64.2" y="895.9" width="0.9" height="0.9" fill="#ccc"/><rect x="73.7" y="905.2" width="0.9" height="0.9" fill="#d5d5d5"/><rect x="103.5" y="920.7" width="0.9" height="0.9" fill="#aaa"/><rect x="160.4" y="885.5" width="0.9" height="0.9" fill="#aaa"/><rect x="171.5" y="875.2" width="0.9" height="0.9" fill="#bbb"/><rect x="85.5" y="943.3" width="0.9" height="0.9" fill="#aaa"/><rect x="179.2" y="918.6" width="0.9" height="0.9" fill="#bbb"/><rect x="99.2" y="915.3" width="0.9" height="0.9" fill="#ccc"/><rect x="163.4" y="959.6" width="0.9" height="0.9" fill="#aaa"/><rect x="189.6" y="893.1" width="0.9" height="0.9" fill="#bbb"/><rect x="68.7" y="955.9" width="0.9" height="0.9" fill="#d5d5d5"/><rect x="62.2" y="975.9" width="0.9" height="0.9" fill="#aaa"/><rect x="167.1" y="935.2" width="0.9" height="0.9" fill="#d5d5d5"/><rect x="77.2" y="1010.0" width="0.9" height="0.9" fill="#bbb"/><rect x="163.8" y="917.8" width="0.9" height="0.9" fill="#ccc"/><rect x="75.2" y="974.6" width="0.9" height="0.9" fill="#ccc"/><rect x="141.2" y="982.7" width="0.9" height="0.9" fill="#bbb"/><rect x="80.3" y="923.3" width="0.9" height="0.9" fill="#bbb"/><rect x="169.5" y="912.2" width="0.9" height="0.9" fill="#d5d5d5"/><rect x="179.7" y="958.7" width="0.9" height="0.9" fill="#ccc"/><rect x="186.8" y="934.9" width="0.9" height="0.9" fill="#d5d5d5"/><rect x="148.9" y="915.4" width="0.9" height="0.9" fill="#aaa"/><rect x="96.4" y="927.7" width="0.9" height="0.9" fill="#ccc"/><rect x="72.9" y="987.6" width="0.9" height="0.9" fill="#ccc"/><rect x="140.8" y="941.4" width="0.9" height="0.9" fill="#aaa"/><rect x="81.8" y="940.3" width="0.9" height="0.9" fill="#aaa"/><rect x="66.3" y="983.7" width="0.9" height="0.9" fill="#aaa"/><rect x="149.7" y="965.0" width="0.9" height="0.9" fill="#aaa"/><rect x="106.0" y="970.7" width="0.9" height="0.9" fill="#aaa"/><rect x="168.3" y="907.9" width="0.9" height="0.9" fill="#aaa"/><rect x="184.3" y="918.6" width="0.9" height="0.9" fill="#ccc"/><rect x="134.6" y="871.7" width="0.9" height="0.9" fill="#aaa"/><rect x="101.0" y="909.1" width="0.9" height="0.9" fill="#aaa"/><rect x="165.8" y="962.6" width="0.9" height="0.9" fill="#aaa"/><rect x="103.9" y="962.1" width="0.9" height="0.9" fill="#d5d5d5"/><rect x="104.2" y="990.5" width="0.9" height="0.9" fill="#d5d5d5"/><rect x="186.8" y="1006.8" width="0.9" height="0.9" fill="#ccc"/><rect x="127.9" y="893.8" width="0.9" height="0.9" fill="#aaa"/><rect x="181.7" y="938.2" width="0.9" height="0.9" fill="#bbb"/><rect x="153.0" y="974.4" width="0.9" height="0.9" fill="#ccc"/><rect x="139.4" y="1003.9" width="0.9" height="0.9" fill="#d5d5d5"/><rect x="98.0" y="949.1" width="0.9" height="0.9" fill="#aaa"/><rect x="153.1" y="873.9" width="0.9" height="0.9" fill="#ccc"/><rect x="135.4" y="959.2" width="0.9" height="0.9" fill="#ccc"/><rect x="86.9" y="968.1" width="0.9" height="0.9" fill="#bbb"/><rect x="188.2" y="1010.1" width="0.9" height="0.9" fill="#ccc"/><rect x="65.1" y="889.1" width="0.9" height="0.9" fill="#aaa"/><rect x="185.8" y="939.0" width="0.9" height="0.9" fill="#bbb"/><rect x="112.8" y="920.2" width="0.9" height="0.9" fill="#bbb"/><rect x="135.9" y="904.0" width="0.9" height="0.9" fill="#aaa"/><rect x="58.1" y="928.0" width="0.9" height="0.9" fill="#aaa"/><rect x="171.0" y="993.9" width="0.9" height="0.9" fill="#aaa"/><rect x="185.3" y="948.6" width="0.9" height="0.9" fill="#aaa"/><rect x="70.5" y="948.0" width="0.9" height="0.9" fill="#aaa"/><rect x="183.5" y="911.9" width="0.9" height="0.9" fill="#aaa"/><rect x="166.0" y="929.9" width="0.9" height="0.9" fill="#aaa"/><rect x="119.7" y="892.4" width="0.9" height="0.9" fill="#d5d5d5"/><rect x="132.4" y="1006.9" width="0.9" height="0.9" fill="#ccc"/><rect x="138.3" y="920.2" width="0.9" height="0.9" fill="#bbb"/><rect x="108.4" y="916.6" width="0.9" height="0.9" fill="#ccc"/><rect x="101.0" y="995.3" width="0.9" height="0.9" fill="#d5d5d5"/><rect x="114.7" y="1009.7" width="0.9" height="0.9" fill="#d5d5d5"/><rect x="96.5" y="1009.1" width="0.9" height="0.9" fill="#d5d5d5"/><rect x="108.7" y="992.3" width="0.9" height="0.9" fill="#ccc"/><rect x="136.6" y="907.2" width="0.9" height="0.9" fill="#aaa"/><rect x="123.5" y="929.4" width="0.9" height="0.9" fill="#aaa"/><rect x="182.8" y="914.0" width="0.9" height="0.9" fill="#aaa"/><rect x="76.9" y="873.4" width="0.9" height="0.9" fill="#d5d5d5"/><rect x="90.4" y="875.7" width="0.9" height="0.9" fill="#ccc"/><rect x="167.1" y="871.9" width="0.9" height="0.9" fill="#aaa"/><rect x="90.1" y="937.8" width="0.9" height="0.9" fill="#bbb"/><rect x="90.4" y="908.3" width="0.9" height="0.9" fill="#ccc"/><rect x="153.2" y="910.9" width="0.9" height="0.9" fill="#d5d5d5"/><rect x="138.3" y="937.9" width="0.9" height="0.9" fill="#bbb"/><rect x="60.1" y="888.0" width="0.9" height="0.9" fill="#aaa"/><rect x="128.4" y="918.1" width="0.9" height="0.9" fill="#aaa"/><rect x="154.5" y="873.8" width="0.9" height="0.9" fill="#aaa"/><rect x="105.7" y="976.5" width="0.9" height="0.9" fill="#ccc"/><rect x="62.8" y="906.1" width="0.9" height="0.9" fill="#d5d5d5"/><rect x="148.5" y="885.4" width="0.9" height="0.9" fill="#ccc"/><rect x="59.9" y="981.3" width="0.9" height="0.9" fill="#d5d5d5"/><rect x="136.5" y="968.5" width="0.9" height="0.9" fill="#d5d5d5"/><rect x="171.3" y="990.3" width="0.9" height="0.9" fill="#d5d5d5"/><rect x="109.7" y="991.8" width="0.9" height="0.9" fill="#ccc"/><rect x="176.7" y="936.5" width="0.9" height="0.9" fill="#bbb"/><rect x="98.1" y="870.5" width="0.9" height="0.9" fill="#d5d5d5"/><rect x="134.8" y="962.7" width="0.9" height="0.9" fill="#d5d5d5"/><rect x="178.2" y="890.4" width="0.9" height="0.9" fill="#d5d5d5"/><rect x="149.8" y="997.1" width="0.9" height="0.9" fill="#aaa"/><rect x="129.0" y="930.9" width="0.9" height="0.9" fill="#bbb"/><rect x="67.0" y="902.9" width="0.9" height="0.9" fill="#bbb"/><rect x="162.5" y="964.9" width="0.9" height="0.9" fill="#bbb"/><rect x="102.0" y="931.4" width="0.9" height="0.9" fill="#bbb"/><rect x="189.8" y="970.3" width="0.9" height="0.9" fill="#bbb"/><rect x="74.3" y="887.5" width="0.9" height="0.9" fill="#bbb"/><rect x="152.0" y="889.3" width="0.9" height="0.9" fill="#aaa"/><rect x="151.2" y="932.6" width="0.9" height="0.9" fill="#ccc"/><rect x="138.6" y="929.2" width="0.9" height="0.9" fill="#ccc"/><rect x="66.9" y="900.5" width="0.9" height="0.9" fill="#bbb"/><rect x="145.1" y="976.6" width="0.9" height="0.9" fill="#aaa"/><rect x="65.6" y="952.3" width="0.9" height="0.9" fill="#d5d5d5"/><rect x="174.0" y="889.2" width="0.9" height="0.9" fill="#d5d5d5"/><rect x="70.1" y="968.0" width="0.9" height="0.9" fill="#d5d5d5"/><rect x="122.6" y="1004.2" width="0.9" height="0.9" fill="#aaa"/><rect x="178.8" y="889.8" width="0.9" height="0.9" fill="#aaa"/><rect x="77.9" y="960.3" width="0.9" height="0.9" fill="#aaa"/><rect x="178.2" y="949.3" width="0.9" height="0.9" fill="#ccc"/><rect x="92.7" y="948.9" width="0.9" height="0.9" fill="#aaa"/><rect x="167.9" y="910.5" width="0.9" height="0.9" fill="#ccc"/><rect x="164.7" y="993.5" width="0.9" height="0.9" fill="#d5d5d5"/><rect x="155.3" y="895.6" width="0.9" height="0.9" fill="#bbb"/><rect x="144.5" y="882.2" width="0.9" height="0.9" fill="#bbb"/><rect x="70.0" y="887.8" width="0.9" height="0.9" fill="#d5d5d5"/><rect x="89.5" y="995.4" width="0.9" height="0.9" fill="#d5d5d5"/><rect x="185.2" y="885.4" width="0.9" height="0.9" fill="#bbb"/><rect x="129.6" y="925.0" width="0.9" height="0.9" fill="#ccc"/><rect x="182.7" y="931.4" width="0.9" height="0.9" fill="#ccc"/><rect x="156.9" y="882.0" width="0.9" height="0.9" fill="#d5d5d5"/><rect x="166.3" y="890.0" width="0.9" height="0.9" fill="#d5d5d5"/><rect x="104.8" y="903.6" width="0.9" height="0.9" fill="#aaa"/><rect x="180.8" y="970.9" width="0.9" height="0.9" fill="#d5d5d5"/><rect x="107.9" y="973.3" width="0.9" height="0.9" fill="#aaa"/><rect x="143.5" y="985.0" width="0.9" height="0.9" fill="#d5d5d5"/><rect x="184.9" y="921.8" width="0.9" height="0.9" fill="#bbb"/><rect x="136.2" y="952.0" width="0.9" height="0.9" fill="#ccc"/><rect x="110.2" y="883.9" width="0.9" height="0.9" fill="#bbb"/><rect x="82.6" y="898.0" width="0.9" height="0.9" fill="#d5d5d5"/><rect x="175.4" y="938.8" width="0.9" height="0.9" fill="#aaa"/><rect x="58.1" y="937.2" width="0.9" height="0.9" fill="#d5d5d5"/><rect x="100.7" y="936.1" width="0.9" height="0.9" fill="#ccc"/><rect x="78.4" y="892.7" width="0.9" height="0.9" fill="#aaa"/><rect x="172.7" y="994.3" width="0.9" height="0.9" fill="#d5d5d5"/><rect x="78.1" y="906.3" width="0.9" height="0.9" fill="#aaa"/><rect x="166.0" y="977.3" width="0.9" height="0.9" fill="#ccc"/><rect x="62.4" y="998.2" width="0.9" height="0.9" fill="#aaa"/><rect x="180.0" y="922.8" width="0.9" height="0.9" fill="#bbb"/><rect x="148.8" y="966.4" width="0.9" height="0.9" fill="#d5d5d5"/><rect x="170.0" y="892.3" width="0.9" height="0.9" fill="#aaa"/><rect x="96.4" y="966.4" width="0.9" height="0.9" fill="#ccc"/><rect x="62.4" y="972.2" width="0.9" height="0.9" fill="#ccc"/><rect x="144.7" y="958.3" width="0.9" height="0.9" fill="#aaa"/><rect x="147.8" y="896.4" width="0.9" height="0.9" fill="#aaa"/><rect x="95.4" y="974.7" width="0.9" height="0.9" fill="#d5d5d5"/><rect x="79.6" y="904.4" width="0.9" height="0.9" fill="#ccc"/><rect x="182.1" y="962.4" width="0.9" height="0.9" fill="#d5d5d5"/><rect x="153.9" y="908.7" width="0.9" height="0.9" fill="#d5d5d5"/><rect x="66.0" y="981.4" width="0.9" height="0.9" fill="#d5d5d5"/><rect x="80.4" y="874.8" width="0.9" height="0.9" fill="#aaa"/><rect x="182.0" y="972.5" width="0.9" height="0.9" fill="#ccc"/><rect x="176.6" y="940.2" width="0.9" height="0.9" fill="#d5d5d5"/><rect x="65.1" y="904.8" width="0.9" height="0.9" fill="#bbb"/><rect x="123.7" y="981.8" width="0.9" height="0.9" fill="#bbb"/><rect x="91.7" y="928.3" width="0.9" height="0.9" fill="#aaa"/><rect x="142.5" y="995.1" width="0.9" height="0.9" fill="#ccc"/><rect x="81.7" y="942.7" width="0.9" height="0.9" fill="#d5d5d5"/><rect x="82.8" y="903.4" width="0.9" height="0.9" fill="#aaa"/><rect x="162.4" y="882.4" width="0.9" height="0.9" fill="#ccc"/><rect x="137.0" y="992.5" width="0.9" height="0.9" fill="#ccc"/><rect x="140.5" y="933.1" width="0.9" height="0.9" fill="#aaa"/><rect x="122.2" y="951.7" width="0.9" height="0.9" fill="#d5d5d5"/><rect x="126.9" y="889.0" width="0.9" height="0.9" fill="#bbb"/><rect x="178.5" y="914.0" width="0.9" height="0.9" fill="#d5d5d5"/><rect x="175.7" y="1013.0" width="0.9" height="0.9" fill="#bbb"/><rect x="76.3" y="939.1" width="0.9" height="0.9" fill="#aaa"/><rect x="166.2" y="914.7" width="0.9" height="0.9" fill="#ccc"/><rect x="128.9" y="937.4" width="0.9" height="0.9" fill="#bbb"/><rect x="163.4" y="1008.4" width="0.9" height="0.9" fill="#ccc"/><rect x="94.4" y="940.5" width="0.9" height="0.9" fill="#ccc"/><rect x="64.3" y="898.6" width="0.9" height="0.9" fill="#aaa"/><rect x="174.5" y="996.6" width="0.9" height="0.9" fill="#bbb"/><rect x="113.5" y="914.9" width="0.9" height="0.9" fill="#bbb"/><rect x="176.3" y="963.5" width="0.9" height="0.9" fill="#ccc"/><rect x="133.9" y="933.2" width="0.9" height="0.9" fill="#bbb"/><rect x="154.1" y="970.3" width="0.9" height="0.9" fill="#aaa"/><rect x="72.1" y="985.2" width="0.9" height="0.9" fill="#ccc"/><rect x="100.4" y="913.8" width="0.9" height="0.9" fill="#ccc"/><rect x="92.7" y="966.7" width="0.9" height="0.9" fill="#aaa"/><rect x="62.5" y="947.6" width="0.9" height="0.9" fill="#bbb"/><rect x="61.6" y="877.2" width="0.9" height="0.9" fill="#ccc"/><rect x="167.1" y="932.3" width="0.9" height="0.9" fill="#aaa"/><rect x="183.3" y="957.5" width="0.9" height="0.9" fill="#ccc"/><rect x="127.6" y="887.9" width="0.9" height="0.9" fill="#ccc"/><rect x="101.6" y="871.8" width="0.9" height="0.9" fill="#ccc"/><rect x="153.9" y="883.6" width="0.9" height="0.9" fill="#ccc"/><rect x="141.2" y="890.6" width="0.9" height="0.9" fill="#d5d5d5"/><rect x="162.9" y="886.9" width="0.9" height="0.9" fill="#aaa"/><rect x="116.8" y="902.6" width="0.9" height="0.9" fill="#d5d5d5"/><rect x="80.6" y="876.9" width="0.9" height="0.9" fill="#ccc"/><rect x="128.3" y="1008.7" width="0.9" height="0.9" fill="#bbb"/><rect x="71.7" y="986.4" width="0.9" height="0.9" fill="#d5d5d5"/><rect x="148.5" y="899.7" width="0.9" height="0.9" fill="#bbb"/><rect x="62.3" y="952.5" width="0.9" height="0.9" fill="#d5d5d5"/><rect x="151.1" y="920.7" width="0.9" height="0.9" fill="#d5d5d5"/><rect x="86.5" y="909.6" width="0.9" height="0.9" fill="#ccc"/><rect x="98.0" y="943.8" width="0.9" height="0.9" fill="#ccc"/><rect x="106.4" y="985.7" width="0.9" height="0.9" fill="#bbb"/><rect x="139.6" y="927.3" width="0.9" height="0.9" fill="#ccc"/><rect x="76.9" y="904.1" width="0.9" height="0.9" fill="#d5d5d5"/><rect x="63.0" y="894.2" width="0.9" height="0.9" fill="#bbb"/><rect x="157.5" y="910.2" width="0.9" height="0.9" fill="#ccc"/><rect x="163.1" y="978.0" width="0.9" height="0.9" fill="#d5d5d5"/><rect x="148.1" y="993.4" width="0.9" height="0.9" fill="#bbb"/><rect x="163.6" y="923.8" width="0.9" height="0.9" fill="#bbb"/><rect x="71.7" y="956.6" width="0.9" height="0.9" fill="#ccc"/><rect x="165.4" y="873.2" width="0.9" height="0.9" fill="#bbb"/><rect x="138.6" y="943.4" width="0.9" height="0.9" fill="#d5d5d5"/><rect x="130.0" y="968.8" width="0.9" height="0.9" fill="#d5d5d5"/><rect x="187.7" y="986.6" width="0.9" height="0.9" fill="#bbb"/><rect x="128.8" y="984.2" width="0.9" height="0.9" fill="#aaa"/><rect x="184.5" y="872.9" width="0.9" height="0.9" fill="#ccc"/><rect x="95.5" y="881.1" width="0.9" height="0.9" fill="#bbb"/><rect x="160.1" y="957.3" width="0.9" height="0.9" fill="#d5d5d5"/><rect x="98.5" y="1002.9" width="0.9" height="0.9" fill="#aaa"/><rect x="180.7" y="903.5" width="0.9" height="0.9" fill="#bbb"/><rect x="157.4" y="965.8" width="0.9" height="0.9" fill="#aaa"/><rect x="176.4" y="968.3" width="0.9" height="0.9" fill="#ccc"/><rect x="121.8" y="883.1" width="0.9" height="0.9" fill="#bbb"/><rect x="89.6" y="1009.4" width="0.9" height="0.9" fill="#d5d5d5"/><rect x="109.9" y="870.4" width="0.9" height="0.9" fill="#d5d5d5"/><rect x="107.9" y="977.4" width="0.9" height="0.9" fill="#ccc"/><rect x="178.1" y="957.7" width="0.9" height="0.9" fill="#d5d5d5"/><rect x="100.8" y="990.6" width="0.9" height="0.9" fill="#aaa"/><rect x="90.9" y="884.3" width="0.9" height="0.9" fill="#aaa"/><rect x="98.3" y="908.3" width="0.9" height="0.9" fill="#bbb"/><rect x="176.4" y="893.9" width="0.9" height="0.9" fill="#d5d5d5"/><rect x="159.2" y="902.1" width="0.9" height="0.9" fill="#bbb"/><rect x="133.2" y="959.6" width="0.9" height="0.9" fill="#d5d5d5"/><rect x="113.0" y="930.8" width="0.9" height="0.9" fill="#ccc"/><rect x="97.9" y="910.1" width="0.9" height="0.9" fill="#aaa"/><rect x="82.7" y="874.4" width="0.9" height="0.9" fill="#bbb"/><rect x="97.0" y="949.4" width="0.9" height="0.9" fill="#ccc"/><rect x="115.3" y="916.6" width="0.9" height="0.9" fill="#bbb"/><rect x="143.3" y="968.7" width="0.9" height="0.9" fill="#bbb"/><rect x="66.1" y="939.3" width="0.9" height="0.9" fill="#bbb"/><rect x="100.0" y="991.6" width="0.9" height="0.9" fill="#d5d5d5"/><rect x="180.3" y="902.8" width="0.9" height="0.9" fill="#d5d5d5"/><rect x="168.9" y="870.2" width="0.9" height="0.9" fill="#ccc"/>
<rect x="335.7" y="987.4" width="0.9" height="0.9" fill="#d5d5d5"/><rect x="331.6" y="874.3" width="0.9" height="0.9" fill="#ccc"/><rect x="318.5" y="936.7" width="0.9" height="0.9" fill="#aaa"/><rect x="273.2" y="872.2" width="0.9" height="0.9" fill="#d5d5d5"/><rect x="336.9" y="974.1" width="0.9" height="0.9" fill="#d5d5d5"/><rect x="351.2" y="946.7" width="0.9" height="0.9" fill="#bbb"/><rect x="256.5" y="948.7" width="0.9" height="0.9" fill="#aaa"/><rect x="318.5" y="956.8" width="0.9" height="0.9" fill="#bbb"/><rect x="342.4" y="917.3" width="0.9" height="0.9" fill="#bbb"/><rect x="278.8" y="928.0" width="0.9" height="0.9" fill="#aaa"/><rect x="289.8" y="882.5" width="0.9" height="0.9" fill="#ccc"/><rect x="323.5" y="983.7" width="0.9" height="0.9" fill="#bbb"/><rect x="356.6" y="953.8" width="0.9" height="0.9" fill="#ccc"/><rect x="340.3" y="1000.4" width="0.9" height="0.9" fill="#d5d5d5"/><rect x="354.1" y="1000.0" width="0.9" height="0.9" fill="#bbb"/><rect x="314.6" y="904.3" width="0.9" height="0.9" fill="#d5d5d5"/><rect x="271.2" y="953.8" width="0.9" height="0.9" fill="#bbb"/><rect x="297.0" y="966.7" width="0.9" height="0.9" fill="#ccc"/><rect x="246.4" y="964.4" width="0.9" height="0.9" fill="#aaa"/><rect x="325.9" y="923.7" width="0.9" height="0.9" fill="#ccc"/><rect x="249.2" y="899.2" width="0.9" height="0.9" fill="#bbb"/><rect x="255.9" y="893.4" width="0.9" height="0.9" fill="#aaa"/><rect x="304.6" y="965.7" width="0.9" height="0.9" fill="#aaa"/><rect x="280.5" y="944.9" width="0.9" height="0.9" fill="#aaa"/><rect x="247.7" y="1013.0" width="0.9" height="0.9" fill="#bbb"/><rect x="255.5" y="954.5" width="0.9" height="0.9" fill="#d5d5d5"/><rect x="243.7" y="932.5" width="0.9" height="0.9" fill="#bbb"/><rect x="348.8" y="965.5" width="0.9" height="0.9" fill="#d5d5d5"/><rect x="290.0" y="988.7" width="0.9" height="0.9" fill="#bbb"/><rect x="299.2" y="936.8" width="0.9" height="0.9" fill="#d5d5d5"/><rect x="355.2" y="896.7" width="0.9" height="0.9" fill="#aaa"/><rect x="290.6" y="973.1" width="0.9" height="0.9" fill="#ccc"/><rect x="233.4" y="946.5" width="0.9" height="0.9" fill="#aaa"/><rect x="308.8" y="921.0" width="0.9" height="0.9" fill="#aaa"/><rect x="297.4" y="916.4" width="0.9" height="0.9" fill="#aaa"/><rect x="360.6" y="1002.5" width="0.9" height="0.9" fill="#d5d5d5"/><rect x="311.8" y="907.6" width="0.9" height="0.9" fill="#d5d5d5"/><rect x="317.6" y="939.9" width="0.9" height="0.9" fill="#d5d5d5"/><rect x="296.6" y="960.4" width="0.9" height="0.9" fill="#d5d5d5"/><rect x="273.7" y="963.9" width="0.9" height="0.9" fill="#d5d5d5"/><rect x="322.7" y="907.3" width="0.9" height="0.9" fill="#d5d5d5"/><rect x="359.7" y="974.0" width="0.9" height="0.9" fill="#ccc"/><rect x="354.6" y="910.9" width="0.9" height="0.9" fill="#bbb"/><rect x="313.3" y="1007.9" width="0.9" height="0.9" fill="#ccc"/><rect x="235.0" y="980.4" width="0.9" height="0.9" fill="#bbb"/><rect x="321.0" y="922.4" width="0.9" height="0.9" fill="#d5d5d5"/><rect x="343.7" y="878.0" width="0.9" height="0.9" fill="#ccc"/><rect x="251.4" y="907.8" width="0.9" height="0.9" fill="#bbb"/><rect x="286.7" y="981.6" width="0.9" height="0.9" fill="#d5d5d5"/><rect x="241.0" y="902.4" width="0.9" height="0.9" fill="#aaa"/><rect x="278.8" y="889.9" width="0.9" height="0.9" fill="#ccc"/><rect x="311.1" y="889.8" width="0.9" height="0.9" fill="#bbb"/><rect x="325.2" y="875.5" width="0.9" height="0.9" fill="#d5d5d5"/><rect x="292.1" y="998.5" width="0.9" height="0.9" fill="#bbb"/><rect x="323.6" y="887.3" width="0.9" height="0.9" fill="#bbb"/><rect x="252.3" y="959.9" width="0.9" height="0.9" fill="#aaa"/><rect x="350.8" y="997.6" width="0.9" height="0.9" fill="#d5d5d5"/><rect x="297.0" y="871.9" width="0.9" height="0.9" fill="#ccc"/><rect x="339.0" y="896.2" width="0.9" height="0.9" fill="#d5d5d5"/><rect x="294.2" y="932.3" width="0.9" height="0.9" fill="#aaa"/>
<defs><radialGradient id="g0" gradientUnits="userSpaceOnUse" cx="163" cy="921" r="58"><stop offset="0" stop-color="#3a3a3a"/><stop offset="0.4" stop-color="#555"/><stop offset="0.62" stop-color="#8a8a8a"/><stop offset="0.82" stop-color="#c4c4c4"/><stop offset="1" stop-color="#e6e6e6"/></radialGradient><radialGradient id="g1" gradientUnits="userSpaceOnUse" cx="165" cy="919" r="32"><stop offset="0" stop-color="#2a2a2a"/><stop offset="1" stop-color="#d8d8d8"/></radialGradient><radialGradient id="g2" gradientUnits="userSpaceOnUse" cx="165" cy="920" r="22"><stop offset="0" stop-color="#2a2a2a"/><stop offset="1" stop-color="#d0d0d0"/></radialGradient><radialGradient id="g3" gradientUnits="userSpaceOnUse" cx="164" cy="921" r="14"><stop offset="0" stop-color="#222"/><stop offset="1" stop-color="#c8c8c8"/></radialGradient><radialGradient id="g4" gradientUnits="userSpaceOnUse" cx="165" cy="920" r="9"><stop offset="0" stop-color="#111"/><stop offset="1" stop-color="#bbb"/></radialGradient><radialGradient id="h0" gradientUnits="userSpaceOnUse" cx="346" cy="927" r="70"><stop offset="0" stop-color="#2a2a2a"/><stop offset="1" stop-color="#f0f0f0"/></radialGradient><radialGradient id="h1" gradientUnits="userSpaceOnUse" cx="346" cy="927" r="34"><stop offset="0" stop-color="#2a2a2a"/><stop offset="1" stop-color="#d8d8d8"/></radialGradient><radialGradient id="h2" gradientUnits="userSpaceOnUse" cx="345" cy="929" r="22"><stop offset="0" stop-color="#222"/><stop offset="1" stop-color="#d0d0d0"/></radialGradient><radialGradient id="h3" gradientUnits="userSpaceOnUse" cx="345" cy="929" r="12"><stop offset="0" stop-color="#111"/><stop offset="1" stop-color="#bbb"/></radialGradient><filter id="i0" x="-20%" y="-20%" width="140%" height="140%"><feMorphology operator="erode" radius="5"/><feGaussianBlur stdDeviation="6"/></filter><filter id="i1" x="-20%" y="-20%" width="140%" height="140%"><feMorphology operator="erode" radius="2.2"/><feGaussianBlur stdDeviation="3.2"/></filter><filter id="i2" x="-20%" y="-20%" width="140%" height="140%"><feMorphology operator="erode" radius="1.6"/><feGaussianBlur stdDeviation="2.6"/></filter><filter id="i3" x="-20%" y="-20%" width="140%" height="140%"><feMorphology operator="erode" radius="1.1"/><feGaussianBlur stdDeviation="2"/></filter><filter id="i4" x="-20%" y="-20%" width="140%" height="140%"><feMorphology operator="erode" radius="0.8"/><feGaussianBlur stdDeviation="1.5"/></filter><filter id="j0" x="-20%" y="-20%" width="140%" height="140%"><feMorphology operator="erode" radius="4"/><feGaussianBlur stdDeviation="4.5"/></filter><filter id="j1" x="-20%" y="-20%" width="140%" height="140%"><feMorphology operator="erode" radius="2"/><feGaussianBlur stdDeviation="3"/></filter><filter id="j2" x="-20%" y="-20%" width="140%" height="140%"><feMorphology operator="erode" radius="1.5"/><feGaussianBlur stdDeviation="2.4"/></filter><filter id="j3" x="-20%" y="-20%" width="140%" height="140%"><feMorphology operator="erode" radius="1"/><feGaussianBlur stdDeviation="1.8"/></filter></defs>
<path d="M119.7,891.0 C120.7,890.5 122.5,892.9 124.0,893.5 C125.5,894.1 127.0,894.6 128.4,894.6 C129.8,894.6 131.2,894.1 132.5,893.8 C133.8,893.5 135.2,893.4 136.5,892.7 C137.8,892.0 139.1,890.5 140.0,889.5 C140.9,888.5 141.2,887.7 142.2,886.9 C143.1,886.1 144.4,885.2 145.7,884.6 C147.0,884.0 145.9,883.7 150.0,883.5 C154.1,883.3 166.0,883.3 170.0,883.5 C174.0,883.7 172.8,884.0 174.0,884.5 C175.2,885.0 176.2,885.5 177.5,886.5 C178.8,887.5 180.2,888.8 181.5,890.3 C182.8,891.8 184.0,893.7 185.0,895.5 C186.0,897.3 186.8,899.1 187.5,901.0 C188.2,902.9 188.9,904.8 189.5,907.0 C190.1,909.2 190.6,911.5 191.0,914.0 C191.4,916.5 191.7,919.0 191.8,921.7 C191.9,924.4 192.0,927.8 191.7,930.0 C191.4,932.2 190.8,933.3 190.0,934.9 C189.2,936.5 188.2,937.9 186.8,939.8 C185.5,941.7 183.5,944.5 181.9,946.3 C180.3,948.1 178.9,948.8 177.0,950.4 C175.1,952.0 172.7,954.6 170.5,956.2 C168.3,957.8 166.4,958.7 164.0,960.2 C161.6,961.7 158.3,963.1 155.8,965.1 C153.3,967.1 151.4,970.5 149.2,972.5 C147.0,974.5 144.5,976.0 142.7,977.4 C140.9,978.8 139.7,981.5 138.6,980.7 C137.5,979.9 137.4,974.5 136.2,972.5 C135.0,970.5 133.1,969.4 131.2,968.4 C129.3,967.4 126.3,967.8 124.7,966.8 C123.1,965.8 122.8,964.3 121.4,962.7 C120.0,961.1 117.7,958.1 116.5,957.0 C115.3,955.9 115.6,956.7 114.5,956.2 C113.4,955.7 111.8,954.6 109.9,953.8 C108.0,953.0 104.9,951.7 103.0,951.5 C101.1,951.3 99.8,953.1 98.4,952.7 C97.1,952.3 95.8,950.7 94.9,949.2 C94.0,947.7 93.0,945.2 93.2,943.5 C93.4,941.8 94.6,940.3 96.0,938.8 C97.4,937.2 99.7,935.2 101.8,934.2 C103.9,933.2 107.2,934.0 108.8,933.0 C110.4,932.0 111.0,930.0 111.6,928.5 C112.2,927.0 112.5,925.5 112.2,923.8 C111.9,922.0 110.2,919.7 110.0,918.0 C109.8,916.3 110.2,915.4 111.0,913.5 C111.8,911.6 113.1,908.2 114.5,906.5 C115.9,904.8 118.6,904.7 119.2,903.0 C119.8,901.3 117.9,898.2 118.0,896.2 C118.1,894.2 118.7,891.5 119.7,891.0Z" fill="#000"/>
<clipPath id="k0"><path d="M122.6,900.8 C122.6,899.7 124.1,898.9 126.0,898.5 C127.9,898.1 131.7,898.3 134.0,898.5 C136.3,898.7 138.4,900.0 140.0,899.6 C141.6,899.2 142.4,897.3 143.4,896.2 C144.4,895.1 143.2,894.4 146.0,893.0 C148.8,891.6 155.3,889.1 160.0,888.0 C164.7,886.9 171.2,886.5 174.0,886.3 C176.8,886.1 175.5,886.0 176.5,886.6 C177.5,887.2 178.8,888.7 180.0,890.2 C181.2,891.7 182.8,893.8 183.8,895.6 C184.8,897.5 185.4,899.3 186.2,901.3 C186.9,903.3 187.7,905.4 188.3,907.5 C188.9,909.6 189.5,911.8 189.8,914.0 C190.2,916.2 190.3,918.5 190.4,921.0 C190.5,923.5 190.7,926.8 190.4,929.0 C190.1,931.2 189.6,932.4 188.8,934.0 C188.0,935.6 187.2,937.0 185.8,938.8 C184.4,940.6 182.0,943.0 180.3,944.7 C178.6,946.4 177.3,947.3 175.4,948.8 C173.5,950.3 171.0,952.3 168.8,953.7 C166.6,955.1 164.8,956.0 162.3,957.0 C159.9,958.0 156.6,958.0 154.1,959.4 C151.6,960.8 149.9,963.5 147.6,965.1 C145.3,966.7 142.1,968.8 140.2,969.2 C138.3,969.6 138.0,968.4 136.2,967.6 C134.4,966.8 131.8,965.5 129.6,964.3 C127.4,963.1 124.9,961.8 123.0,960.2 C121.1,958.6 120.0,955.7 118.2,954.5 C116.4,953.3 114.0,953.5 112.0,953.0 C110.0,952.5 107.6,952.1 106.0,951.5 C104.4,950.9 103.2,950.4 102.5,949.5 C101.8,948.6 101.7,947.1 101.8,946.0 C101.9,944.9 102.2,943.7 103.0,943.0 C103.8,942.3 105.2,942.2 106.5,941.8 C107.8,941.4 109.3,941.4 110.5,940.5 C111.7,939.6 112.8,938.1 113.5,936.5 C114.2,934.9 114.3,932.7 114.5,931.0 C114.7,929.3 114.4,928.0 114.8,926.2 C115.2,924.4 115.7,921.9 116.8,920.4 C117.9,918.9 119.9,918.6 121.5,917.0 C123.1,915.4 125.8,913.0 126.5,911.0 C127.2,909.0 126.7,906.7 126.0,905.0 C125.3,903.3 122.6,901.9 122.6,900.8Z"/></clipPath><g clip-path="url(#k0)"><path d="M122.6,900.8 C122.6,899.7 124.1,898.9 126.0,898.5 C127.9,898.1 131.7,898.3 134.0,898.5 C136.3,898.7 138.4,900.0 140.0,899.6 C141.6,899.2 142.4,897.3 143.4,896.2 C144.4,895.1 143.2,894.4 146.0,893.0 C148.8,891.6 155.3,889.1 160.0,888.0 C164.7,886.9 171.2,886.5 174.0,886.3 C176.8,886.1 175.5,886.0 176.5,886.6 C177.5,887.2 178.8,888.7 180.0,890.2 C181.2,891.7 182.8,893.8 183.8,895.6 C184.8,897.5 185.4,899.3 186.2,901.3 C186.9,903.3 187.7,905.4 188.3,907.5 C188.9,909.6 189.5,911.8 189.8,914.0 C190.2,916.2 190.3,918.5 190.4,921.0 C190.5,923.5 190.7,926.8 190.4,929.0 C190.1,931.2 189.6,932.4 188.8,934.0 C188.0,935.6 187.2,937.0 185.8,938.8 C184.4,940.6 182.0,943.0 180.3,944.7 C178.6,946.4 177.3,947.3 175.4,948.8 C173.5,950.3 171.0,952.3 168.8,953.7 C166.6,955.1 164.8,956.0 162.3,957.0 C159.9,958.0 156.6,958.0 154.1,959.4 C151.6,960.8 149.9,963.5 147.6,965.1 C145.3,966.7 142.1,968.8 140.2,969.2 C138.3,969.6 138.0,968.4 136.2,967.6 C134.4,966.8 131.8,965.5 129.6,964.3 C127.4,963.1 124.9,961.8 123.0,960.2 C121.1,958.6 120.0,955.7 118.2,954.5 C116.4,953.3 114.0,953.5 112.0,953.0 C110.0,952.5 107.6,952.1 106.0,951.5 C104.4,950.9 103.2,950.4 102.5,949.5 C101.8,948.6 101.7,947.1 101.8,946.0 C101.9,944.9 102.2,943.7 103.0,943.0 C103.8,942.3 105.2,942.2 106.5,941.8 C107.8,941.4 109.3,941.4 110.5,940.5 C111.7,939.6 112.8,938.1 113.5,936.5 C114.2,934.9 114.3,932.7 114.5,931.0 C114.7,929.3 114.4,928.0 114.8,926.2 C115.2,924.4 115.7,921.9 116.8,920.4 C117.9,918.9 119.9,918.6 121.5,917.0 C123.1,915.4 125.8,913.0 126.5,911.0 C127.2,909.0 126.7,906.7 126.0,905.0 C125.3,903.3 122.6,901.9 122.6,900.8Z" fill="#e6e6e6"/><path d="M122.6,900.8 C122.6,899.7 124.1,898.9 126.0,898.5 C127.9,898.1 131.7,898.3 134.0,898.5 C136.3,898.7 138.4,900.0 140.0,899.6 C141.6,899.2 142.4,897.3 143.4,896.2 C144.4,895.1 143.2,894.4 146.0,893.0 C148.8,891.6 155.3,889.1 160.0,888.0 C164.7,886.9 171.2,886.5 174.0,886.3 C176.8,886.1 175.5,886.0 176.5,886.6 C177.5,887.2 178.8,888.7 180.0,890.2 C181.2,891.7 182.8,893.8 183.8,895.6 C184.8,897.5 185.4,899.3 186.2,901.3 C186.9,903.3 187.7,905.4 188.3,907.5 C188.9,909.6 189.5,911.8 189.8,914.0 C190.2,916.2 190.3,918.5 190.4,921.0 C190.5,923.5 190.7,926.8 190.4,929.0 C190.1,931.2 189.6,932.4 188.8,934.0 C188.0,935.6 187.2,937.0 185.8,938.8 C184.4,940.6 182.0,943.0 180.3,944.7 C178.6,946.4 177.3,947.3 175.4,948.8 C173.5,950.3 171.0,952.3 168.8,953.7 C166.6,955.1 164.8,956.0 162.3,957.0 C159.9,958.0 156.6,958.0 154.1,959.4 C151.6,960.8 149.9,963.5 147.6,965.1 C145.3,966.7 142.1,968.8 140.2,969.2 C138.3,969.6 138.0,968.4 136.2,967.6 C134.4,966.8 131.8,965.5 129.6,964.3 C127.4,963.1 124.9,961.8 123.0,960.2 C121.1,958.6 120.0,955.7 118.2,954.5 C116.4,953.3 114.0,953.5 112.0,953.0 C110.0,952.5 107.6,952.1 106.0,951.5 C104.4,950.9 103.2,950.4 102.5,949.5 C101.8,948.6 101.7,947.1 101.8,946.0 C101.9,944.9 102.2,943.7 103.0,943.0 C103.8,942.3 105.2,942.2 106.5,941.8 C107.8,941.4 109.3,941.4 110.5,940.5 C111.7,939.6 112.8,938.1 113.5,936.5 C114.2,934.9 114.3,932.7 114.5,931.0 C114.7,929.3 114.4,928.0 114.8,926.2 C115.2,924.4 115.7,921.9 116.8,920.4 C117.9,918.9 119.9,918.6 121.5,917.0 C123.1,915.4 125.8,913.0 126.5,911.0 C127.2,909.0 126.7,906.7 126.0,905.0 C125.3,903.3 122.6,901.9 122.6,900.8Z" fill="#474747" filter="url(#i0)"/></g>
<circle cx="118.6" cy="915.8" r="2.3" fill="#fff"/>
<clipPath id="kc0"><path d="M134.7,942.7 C134.9,941.3 136.0,938.8 137.9,936.3 C139.8,933.8 143.5,931.1 146.3,927.9 C149.1,924.7 152.3,920.8 154.8,917.3 C157.3,913.8 159.1,909.7 161.2,906.7 C163.3,903.7 165.8,900.4 167.5,899.3 C169.2,898.2 169.9,898.4 171.7,900.0 C173.5,901.6 176.0,905.2 178.1,908.8 C180.2,912.4 183.2,918.0 184.4,921.5 C185.6,925.0 185.8,927.5 185.5,930.0 C185.2,932.5 185.0,934.9 182.3,936.3 C179.7,937.7 174.2,937.8 169.6,938.5 C165.0,939.2 159.4,939.9 154.8,940.6 C150.2,941.3 145.1,942.0 142.1,942.7 C139.1,943.4 138.0,944.8 136.8,944.8 C135.6,944.8 134.5,944.1 134.7,942.7Z"/></clipPath><g clip-path="url(#kc0)"><path d="M134.7,942.7 C134.9,941.3 136.0,938.8 137.9,936.3 C139.8,933.8 143.5,931.1 146.3,927.9 C149.1,924.7 152.3,920.8 154.8,917.3 C157.3,913.8 159.1,909.7 161.2,906.7 C163.3,903.7 165.8,900.4 167.5,899.3 C169.2,898.2 169.9,898.4 171.7,900.0 C173.5,901.6 176.0,905.2 178.1,908.8 C180.2,912.4 183.2,918.0 184.4,921.5 C185.6,925.0 185.8,927.5 185.5,930.0 C185.2,932.5 185.0,934.9 182.3,936.3 C179.7,937.7 174.2,937.8 169.6,938.5 C165.0,939.2 159.4,939.9 154.8,940.6 C150.2,941.3 145.1,942.0 142.1,942.7 C139.1,943.4 138.0,944.8 136.8,944.8 C135.6,944.8 134.5,944.1 134.7,942.7Z" fill="#e2e2e2"/><path d="M134.7,942.7 C134.9,941.3 136.0,938.8 137.9,936.3 C139.8,933.8 143.5,931.1 146.3,927.9 C149.1,924.7 152.3,920.8 154.8,917.3 C157.3,913.8 159.1,909.7 161.2,906.7 C163.3,903.7 165.8,900.4 167.5,899.3 C169.2,898.2 169.9,898.4 171.7,900.0 C173.5,901.6 176.0,905.2 178.1,908.8 C180.2,912.4 183.2,918.0 184.4,921.5 C185.6,925.0 185.8,927.5 185.5,930.0 C185.2,932.5 185.0,934.9 182.3,936.3 C179.7,937.7 174.2,937.8 169.6,938.5 C165.0,939.2 159.4,939.9 154.8,940.6 C150.2,941.3 145.1,942.0 142.1,942.7 C139.1,943.4 138.0,944.8 136.8,944.8 C135.6,944.8 134.5,944.1 134.7,942.7Z" fill="#3a3a3a" filter="url(#i1)"/><path d="M134.7,942.7 C134.9,941.3 136.0,938.8 137.9,936.3 C139.8,933.8 143.5,931.1 146.3,927.9 C149.1,924.7 152.3,920.8 154.8,917.3 C157.3,913.8 159.1,909.7 161.2,906.7 C163.3,903.7 165.8,900.4 167.5,899.3 C169.2,898.2 169.9,898.4 171.7,900.0 C173.5,901.6 176.0,905.2 178.1,908.8 C180.2,912.4 183.2,918.0 184.4,921.5 C185.6,925.0 185.8,927.5 185.5,930.0 C185.2,932.5 185.0,934.9 182.3,936.3 C179.7,937.7 174.2,937.8 169.6,938.5 C165.0,939.2 159.4,939.9 154.8,940.6 C150.2,941.3 145.1,942.0 142.1,942.7 C139.1,943.4 138.0,944.8 136.8,944.8 C135.6,944.8 134.5,944.1 134.7,942.7Z" fill="none" stroke="#fff" stroke-width="3.4"/></g>
<path d="M134.7,942.7 C134.9,941.3 136.0,938.8 137.9,936.3 C139.8,933.8 143.5,931.1 146.3,927.9 C149.1,924.7 152.3,920.8 154.8,917.3 C157.3,913.8 159.1,909.7 161.2,906.7 C163.3,903.7 165.8,900.4 167.5,899.3 C169.2,898.2 169.9,898.4 171.7,900.0 C173.5,901.6 176.0,905.2 178.1,908.8 C180.2,912.4 183.2,918.0 184.4,921.5 C185.6,925.0 185.8,927.5 185.5,930.0 C185.2,932.5 185.0,934.9 182.3,936.3 C179.7,937.7 174.2,937.8 169.6,938.5 C165.0,939.2 159.4,939.9 154.8,940.6 C150.2,941.3 145.1,942.0 142.1,942.7 C139.1,943.4 138.0,944.8 136.8,944.8 C135.6,944.8 134.5,944.1 134.7,942.7Z" fill="none" stroke="#000" stroke-width="1.3"/>
<clipPath id="kc1"><path d="M141.1,933.2 C142.2,931.6 145.9,928.4 148.5,925.8 C151.1,923.1 154.4,919.9 156.9,917.3 C159.4,914.6 161.4,911.5 163.3,909.9 C165.2,908.3 166.8,906.9 168.6,907.8 C170.4,908.7 172.3,912.2 173.9,915.2 C175.5,918.2 177.8,923.1 178.1,925.8 C178.4,928.4 178.1,929.9 176.0,931.1 C173.9,932.3 169.6,932.7 165.4,933.2 C161.2,933.7 154.5,933.9 150.6,934.2 C146.7,934.6 143.7,935.5 142.1,935.3 C140.5,935.1 140.0,934.8 141.1,933.2Z"/></clipPath><g clip-path="url(#kc1)"><path d="M141.1,933.2 C142.2,931.6 145.9,928.4 148.5,925.8 C151.1,923.1 154.4,919.9 156.9,917.3 C159.4,914.6 161.4,911.5 163.3,909.9 C165.2,908.3 166.8,906.9 168.6,907.8 C170.4,908.7 172.3,912.2 173.9,915.2 C175.5,918.2 177.8,923.1 178.1,925.8 C178.4,928.4 178.1,929.9 176.0,931.1 C173.9,932.3 169.6,932.7 165.4,933.2 C161.2,933.7 154.5,933.9 150.6,934.2 C146.7,934.6 143.7,935.5 142.1,935.3 C140.5,935.1 140.0,934.8 141.1,933.2Z" fill="#dadada"/><path d="M141.1,933.2 C142.2,931.6 145.9,928.4 148.5,925.8 C151.1,923.1 154.4,919.9 156.9,917.3 C159.4,914.6 161.4,911.5 163.3,909.9 C165.2,908.3 166.8,906.9 168.6,907.8 C170.4,908.7 172.3,912.2 173.9,915.2 C175.5,918.2 177.8,923.1 178.1,925.8 C178.4,928.4 178.1,929.9 176.0,931.1 C173.9,932.3 169.6,932.7 165.4,933.2 C161.2,933.7 154.5,933.9 150.6,934.2 C146.7,934.6 143.7,935.5 142.1,935.3 C140.5,935.1 140.0,934.8 141.1,933.2Z" fill="#333" filter="url(#i2)"/><path d="M141.1,933.2 C142.2,931.6 145.9,928.4 148.5,925.8 C151.1,923.1 154.4,919.9 156.9,917.3 C159.4,914.6 161.4,911.5 163.3,909.9 C165.2,908.3 166.8,906.9 168.6,907.8 C170.4,908.7 172.3,912.2 173.9,915.2 C175.5,918.2 177.8,923.1 178.1,925.8 C178.4,928.4 178.1,929.9 176.0,931.1 C173.9,932.3 169.6,932.7 165.4,933.2 C161.2,933.7 154.5,933.9 150.6,934.2 C146.7,934.6 143.7,935.5 142.1,935.3 C140.5,935.1 140.0,934.8 141.1,933.2Z" fill="none" stroke="#fff" stroke-width="3.4"/></g>
<path d="M141.1,933.2 C142.2,931.6 145.9,928.4 148.5,925.8 C151.1,923.1 154.4,919.9 156.9,917.3 C159.4,914.6 161.4,911.5 163.3,909.9 C165.2,908.3 166.8,906.9 168.6,907.8 C170.4,908.7 172.3,912.2 173.9,915.2 C175.5,918.2 177.8,923.1 178.1,925.8 C178.4,928.4 178.1,929.9 176.0,931.1 C173.9,932.3 169.6,932.7 165.4,933.2 C161.2,933.7 154.5,933.9 150.6,934.2 C146.7,934.6 143.7,935.5 142.1,935.3 C140.5,935.1 140.0,934.8 141.1,933.2Z" fill="none" stroke="#000" stroke-width="1.3"/>
<clipPath id="kc2"><path d="M149.5,927.9 C150.2,926.7 153.0,924.5 154.8,922.6 C156.6,920.7 158.5,918.1 160.1,916.3 C161.7,914.5 162.9,912.9 164.3,912.0 C165.7,911.1 167.4,910.1 168.6,911.0 C169.8,911.9 170.8,914.8 171.7,917.3 C172.6,919.8 174.2,923.9 173.9,925.8 C173.6,927.7 172.1,928.3 169.6,928.9 C167.1,929.5 162.2,929.5 159.0,929.6 C155.8,929.7 152.2,929.9 150.6,929.6 C149.0,929.3 148.8,929.1 149.5,927.9Z"/></clipPath><g clip-path="url(#kc2)"><path d="M149.5,927.9 C150.2,926.7 153.0,924.5 154.8,922.6 C156.6,920.7 158.5,918.1 160.1,916.3 C161.7,914.5 162.9,912.9 164.3,912.0 C165.7,911.1 167.4,910.1 168.6,911.0 C169.8,911.9 170.8,914.8 171.7,917.3 C172.6,919.8 174.2,923.9 173.9,925.8 C173.6,927.7 172.1,928.3 169.6,928.9 C167.1,929.5 162.2,929.5 159.0,929.6 C155.8,929.7 152.2,929.9 150.6,929.6 C149.0,929.3 148.8,929.1 149.5,927.9Z" fill="#d2d2d2"/><path d="M149.5,927.9 C150.2,926.7 153.0,924.5 154.8,922.6 C156.6,920.7 158.5,918.1 160.1,916.3 C161.7,914.5 162.9,912.9 164.3,912.0 C165.7,911.1 167.4,910.1 168.6,911.0 C169.8,911.9 170.8,914.8 171.7,917.3 C172.6,919.8 174.2,923.9 173.9,925.8 C173.6,927.7 172.1,928.3 169.6,928.9 C167.1,929.5 162.2,929.5 159.0,929.6 C155.8,929.7 152.2,929.9 150.6,929.6 C149.0,929.3 148.8,929.1 149.5,927.9Z" fill="#2a2a2a" filter="url(#i3)"/><path d="M149.5,927.9 C150.2,926.7 153.0,924.5 154.8,922.6 C156.6,920.7 158.5,918.1 160.1,916.3 C161.7,914.5 162.9,912.9 164.3,912.0 C165.7,911.1 167.4,910.1 168.6,911.0 C169.8,911.9 170.8,914.8 171.7,917.3 C172.6,919.8 174.2,923.9 173.9,925.8 C173.6,927.7 172.1,928.3 169.6,928.9 C167.1,929.5 162.2,929.5 159.0,929.6 C155.8,929.7 152.2,929.9 150.6,929.6 C149.0,929.3 148.8,929.1 149.5,927.9Z" fill="none" stroke="#fff" stroke-width="3.4"/></g>
<path d="M149.5,927.9 C150.2,926.7 153.0,924.5 154.8,922.6 C156.6,920.7 158.5,918.1 160.1,916.3 C161.7,914.5 162.9,912.9 164.3,912.0 C165.7,911.1 167.4,910.1 168.6,911.0 C169.8,911.9 170.8,914.8 171.7,917.3 C172.6,919.8 174.2,923.9 173.9,925.8 C173.6,927.7 172.1,928.3 169.6,928.9 C167.1,929.5 162.2,929.5 159.0,929.6 C155.8,929.7 152.2,929.9 150.6,929.6 C149.0,929.3 148.8,929.1 149.5,927.9Z" fill="none" stroke="#000" stroke-width="1.3"/>
<clipPath id="kc3"><path d="M154.8,925.8 C155.0,924.6 157.6,922.3 159.0,920.5 C160.4,918.7 162.1,916.4 163.3,915.2 C164.5,914.0 165.4,913.1 166.4,913.1 C167.4,913.1 168.5,914.0 169.2,915.2 C169.9,916.4 170.4,918.7 170.7,920.5 C170.9,922.3 171.6,924.6 170.7,925.8 C169.8,927.0 167.5,927.1 165.4,927.5 C163.3,927.9 159.8,928.2 158.0,927.9 C156.2,927.6 154.6,927.0 154.8,925.8Z"/></clipPath><g clip-path="url(#kc3)"><path d="M154.8,925.8 C155.0,924.6 157.6,922.3 159.0,920.5 C160.4,918.7 162.1,916.4 163.3,915.2 C164.5,914.0 165.4,913.1 166.4,913.1 C167.4,913.1 168.5,914.0 169.2,915.2 C169.9,916.4 170.4,918.7 170.7,920.5 C170.9,922.3 171.6,924.6 170.7,925.8 C169.8,927.0 167.5,927.1 165.4,927.5 C163.3,927.9 159.8,928.2 158.0,927.9 C156.2,927.6 154.6,927.0 154.8,925.8Z" fill="#c8c8c8"/><path d="M154.8,925.8 C155.0,924.6 157.6,922.3 159.0,920.5 C160.4,918.7 162.1,916.4 163.3,915.2 C164.5,914.0 165.4,913.1 166.4,913.1 C167.4,913.1 168.5,914.0 169.2,915.2 C169.9,916.4 170.4,918.7 170.7,920.5 C170.9,922.3 171.6,924.6 170.7,925.8 C169.8,927.0 167.5,927.1 165.4,927.5 C163.3,927.9 159.8,928.2 158.0,927.9 C156.2,927.6 154.6,927.0 154.8,925.8Z" fill="#202020" filter="url(#i4)"/><path d="M154.8,925.8 C155.0,924.6 157.6,922.3 159.0,920.5 C160.4,918.7 162.1,916.4 163.3,915.2 C164.5,914.0 165.4,913.1 166.4,913.1 C167.4,913.1 168.5,914.0 169.2,915.2 C169.9,916.4 170.4,918.7 170.7,920.5 C170.9,922.3 171.6,924.6 170.7,925.8 C169.8,927.0 167.5,927.1 165.4,927.5 C163.3,927.9 159.8,928.2 158.0,927.9 C156.2,927.6 154.6,927.0 154.8,925.8Z" fill="none" stroke="#fff" stroke-width="3.4"/></g>
<path d="M154.8,925.8 C155.0,924.6 157.6,922.3 159.0,920.5 C160.4,918.7 162.1,916.4 163.3,915.2 C164.5,914.0 165.4,913.1 166.4,913.1 C167.4,913.1 168.5,914.0 169.2,915.2 C169.9,916.4 170.4,918.7 170.7,920.5 C170.9,922.3 171.6,924.6 170.7,925.8 C169.8,927.0 167.5,927.1 165.4,927.5 C163.3,927.9 159.8,928.2 158.0,927.9 C156.2,927.6 154.6,927.0 154.8,925.8Z" fill="none" stroke="#000" stroke-width="1.3"/>
<clipPath id="m0"><path d="M364.5,886.5 C364.0,877.7 363.1,886.8 361.5,887.0 C359.9,887.2 356.7,887.3 354.6,888.0 C352.5,888.7 351.2,889.8 348.8,891.0 C346.4,892.2 342.5,894.5 340.0,895.5 C337.5,896.5 336.0,896.9 334.0,897.0 C332.0,897.1 329.6,895.6 328.0,896.2 C326.4,896.8 326.1,899.5 324.6,900.8 C323.1,902.1 320.0,902.9 318.8,904.2 C317.6,905.5 318.1,907.8 317.3,908.8 C316.5,909.8 315.0,910.4 313.8,910.0 C312.6,909.6 311.4,906.9 310.4,906.5 C309.3,906.1 307.9,906.9 307.5,907.7 C307.1,908.5 307.4,909.9 308.0,911.2 C308.6,912.6 310.6,914.3 311.0,915.8 C311.4,917.3 310.9,919.2 310.4,920.4 C309.9,921.5 309.0,922.7 308.0,922.7 C307.0,922.7 305.9,920.8 304.6,920.4 C303.3,920.0 301.4,919.8 300.0,920.4 C298.6,921.0 297.9,922.4 296.5,923.8 C295.1,925.1 293.4,927.1 291.9,928.5 C290.4,929.9 288.4,930.9 287.3,932.0 C286.2,933.1 284.4,934.1 285.2,935.2 C286.0,936.3 289.7,937.6 292.0,938.5 C294.3,939.4 297.8,938.9 299.0,940.4 C300.2,941.9 299.1,945.4 299.0,947.3 C298.9,949.2 298.3,950.3 298.5,952.0 C298.7,953.7 299.5,955.2 300.0,957.7 C300.5,960.2 300.6,965.0 301.6,967.2 C302.6,969.4 303.8,970.4 306.0,970.7 C308.2,971.0 311.7,969.7 314.6,969.0 C317.5,968.3 320.4,966.6 323.3,966.3 C326.2,966.0 329.4,967.6 332.0,967.2 C334.6,966.8 335.9,964.7 338.8,963.7 C341.7,962.7 346.6,962.2 349.2,961.2 C351.8,960.2 353.2,958.9 354.4,957.7 C355.6,956.5 354.8,955.9 356.2,954.2 C357.6,952.5 361.6,949.7 363.0,947.3 C364.4,944.9 364.2,950.1 364.5,940.0 C364.8,929.9 365.0,895.3 364.5,886.5Z"/></clipPath><g clip-path="url(#m0)"><path d="M364.5,886.5 C364.0,877.7 363.1,886.8 361.5,887.0 C359.9,887.2 356.7,887.3 354.6,888.0 C352.5,888.7 351.2,889.8 348.8,891.0 C346.4,892.2 342.5,894.5 340.0,895.5 C337.5,896.5 336.0,896.9 334.0,897.0 C332.0,897.1 329.6,895.6 328.0,896.2 C326.4,896.8 326.1,899.5 324.6,900.8 C323.1,902.1 320.0,902.9 318.8,904.2 C317.6,905.5 318.1,907.8 317.3,908.8 C316.5,909.8 315.0,910.4 313.8,910.0 C312.6,909.6 311.4,906.9 310.4,906.5 C309.3,906.1 307.9,906.9 307.5,907.7 C307.1,908.5 307.4,909.9 308.0,911.2 C308.6,912.6 310.6,914.3 311.0,915.8 C311.4,917.3 310.9,919.2 310.4,920.4 C309.9,921.5 309.0,922.7 308.0,922.7 C307.0,922.7 305.9,920.8 304.6,920.4 C303.3,920.0 301.4,919.8 300.0,920.4 C298.6,921.0 297.9,922.4 296.5,923.8 C295.1,925.1 293.4,927.1 291.9,928.5 C290.4,929.9 288.4,930.9 287.3,932.0 C286.2,933.1 284.4,934.1 285.2,935.2 C286.0,936.3 289.7,937.6 292.0,938.5 C294.3,939.4 297.8,938.9 299.0,940.4 C300.2,941.9 299.1,945.4 299.0,947.3 C298.9,949.2 298.3,950.3 298.5,952.0 C298.7,953.7 299.5,955.2 300.0,957.7 C300.5,960.2 300.6,965.0 301.6,967.2 C302.6,969.4 303.8,970.4 306.0,970.7 C308.2,971.0 311.7,969.7 314.6,969.0 C317.5,968.3 320.4,966.6 323.3,966.3 C326.2,966.0 329.4,967.6 332.0,967.2 C334.6,966.8 335.9,964.7 338.8,963.7 C341.7,962.7 346.6,962.2 349.2,961.2 C351.8,960.2 353.2,958.9 354.4,957.7 C355.6,956.5 354.8,955.9 356.2,954.2 C357.6,952.5 361.6,949.7 363.0,947.3 C364.4,944.9 364.2,950.1 364.5,940.0 C364.8,929.9 365.0,895.3 364.5,886.5Z" fill="#e6e6e6"/><path d="M364.5,886.5 C364.0,877.7 363.1,886.8 361.5,887.0 C359.9,887.2 356.7,887.3 354.6,888.0 C352.5,888.7 351.2,889.8 348.8,891.0 C346.4,892.2 342.5,894.5 340.0,895.5 C337.5,896.5 336.0,896.9 334.0,897.0 C332.0,897.1 329.6,895.6 328.0,896.2 C326.4,896.8 326.1,899.5 324.6,900.8 C323.1,902.1 320.0,902.9 318.8,904.2 C317.6,905.5 318.1,907.8 317.3,908.8 C316.5,909.8 315.0,910.4 313.8,910.0 C312.6,909.6 311.4,906.9 310.4,906.5 C309.3,906.1 307.9,906.9 307.5,907.7 C307.1,908.5 307.4,909.9 308.0,911.2 C308.6,912.6 310.6,914.3 311.0,915.8 C311.4,917.3 310.9,919.2 310.4,920.4 C309.9,921.5 309.0,922.7 308.0,922.7 C307.0,922.7 305.9,920.8 304.6,920.4 C303.3,920.0 301.4,919.8 300.0,920.4 C298.6,921.0 297.9,922.4 296.5,923.8 C295.1,925.1 293.4,927.1 291.9,928.5 C290.4,929.9 288.4,930.9 287.3,932.0 C286.2,933.1 284.4,934.1 285.2,935.2 C286.0,936.3 289.7,937.6 292.0,938.5 C294.3,939.4 297.8,938.9 299.0,940.4 C300.2,941.9 299.1,945.4 299.0,947.3 C298.9,949.2 298.3,950.3 298.5,952.0 C298.7,953.7 299.5,955.2 300.0,957.7 C300.5,960.2 300.6,965.0 301.6,967.2 C302.6,969.4 303.8,970.4 306.0,970.7 C308.2,971.0 311.7,969.7 314.6,969.0 C317.5,968.3 320.4,966.6 323.3,966.3 C326.2,966.0 329.4,967.6 332.0,967.2 C334.6,966.8 335.9,964.7 338.8,963.7 C341.7,962.7 346.6,962.2 349.2,961.2 C351.8,960.2 353.2,958.9 354.4,957.7 C355.6,956.5 354.8,955.9 356.2,954.2 C357.6,952.5 361.6,949.7 363.0,947.3 C364.4,944.9 364.2,950.1 364.5,940.0 C364.8,929.9 365.0,895.3 364.5,886.5Z" fill="#444" filter="url(#j0)"/></g>
<path d="M364.5,886.5 C364.0,877.7 363.1,886.8 361.5,887.0 C359.9,887.2 356.7,887.3 354.6,888.0 C352.5,888.7 351.2,889.8 348.8,891.0 C346.4,892.2 342.5,894.5 340.0,895.5 C337.5,896.5 336.0,896.9 334.0,897.0 C332.0,897.1 329.6,895.6 328.0,896.2 C326.4,896.8 326.1,899.5 324.6,900.8 C323.1,902.1 320.0,902.9 318.8,904.2 C317.6,905.5 318.1,907.8 317.3,908.8 C316.5,909.8 315.0,910.4 313.8,910.0 C312.6,909.6 311.4,906.9 310.4,906.5 C309.3,906.1 307.9,906.9 307.5,907.7 C307.1,908.5 307.4,909.9 308.0,911.2 C308.6,912.6 310.6,914.3 311.0,915.8 C311.4,917.3 310.9,919.2 310.4,920.4 C309.9,921.5 309.0,922.7 308.0,922.7 C307.0,922.7 305.9,920.8 304.6,920.4 C303.3,920.0 301.4,919.8 300.0,920.4 C298.6,921.0 297.9,922.4 296.5,923.8 C295.1,925.1 293.4,927.1 291.9,928.5 C290.4,929.9 288.4,930.9 287.3,932.0 C286.2,933.1 284.4,934.1 285.2,935.2 C286.0,936.3 289.7,937.6 292.0,938.5 C294.3,939.4 297.8,938.9 299.0,940.4 C300.2,941.9 299.1,945.4 299.0,947.3 C298.9,949.2 298.3,950.3 298.5,952.0 C298.7,953.7 299.5,955.2 300.0,957.7 C300.5,960.2 300.6,965.0 301.6,967.2 C302.6,969.4 303.8,970.4 306.0,970.7 C308.2,971.0 311.7,969.7 314.6,969.0 C317.5,968.3 320.4,966.6 323.3,966.3 C326.2,966.0 329.4,967.6 332.0,967.2 C334.6,966.8 335.9,964.7 338.8,963.7 C341.7,962.7 346.6,962.2 349.2,961.2 C351.8,960.2 353.2,958.9 354.4,957.7 C355.6,956.5 354.8,955.9 356.2,954.2 C357.6,952.5 361.6,949.7 363.0,947.3 C364.4,944.9 364.2,950.1 364.5,940.0 C364.8,929.9 365.0,895.3 364.5,886.5Z" fill="none" stroke="#000" stroke-width="1.4" stroke-linejoin="round"/>
<clipPath id="mc0"><path d="M311.9,948.0 C312.5,946.1 313.8,943.6 316.5,940.0 C319.2,936.4 324.5,930.4 328.0,926.2 C331.5,922.0 334.0,918.3 337.3,914.6 C340.6,910.9 345.0,906.5 347.7,904.2 C350.4,901.9 351.6,901.5 353.5,900.8 C355.4,900.1 357.9,899.6 359.2,900.2 C360.5,900.8 361.1,901.8 361.5,904.2 C361.9,906.6 361.7,910.6 361.5,914.6 C361.3,918.6 361.3,924.3 360.4,928.5 C359.4,932.7 357.7,936.9 355.8,940.0 C353.9,943.1 351.5,945.0 348.8,946.9 C346.1,948.8 343.1,950.4 339.6,951.5 C336.1,952.6 331.5,953.4 328.0,953.8 C324.5,954.2 321.3,954.2 318.8,953.8 C316.3,953.4 314.1,952.5 313.0,951.5 C311.9,950.5 311.3,949.9 311.9,948.0Z"/></clipPath><g clip-path="url(#mc0)"><path d="M311.9,948.0 C312.5,946.1 313.8,943.6 316.5,940.0 C319.2,936.4 324.5,930.4 328.0,926.2 C331.5,922.0 334.0,918.3 337.3,914.6 C340.6,910.9 345.0,906.5 347.7,904.2 C350.4,901.9 351.6,901.5 353.5,900.8 C355.4,900.1 357.9,899.6 359.2,900.2 C360.5,900.8 361.1,901.8 361.5,904.2 C361.9,906.6 361.7,910.6 361.5,914.6 C361.3,918.6 361.3,924.3 360.4,928.5 C359.4,932.7 357.7,936.9 355.8,940.0 C353.9,943.1 351.5,945.0 348.8,946.9 C346.1,948.8 343.1,950.4 339.6,951.5 C336.1,952.6 331.5,953.4 328.0,953.8 C324.5,954.2 321.3,954.2 318.8,953.8 C316.3,953.4 314.1,952.5 313.0,951.5 C311.9,950.5 311.3,949.9 311.9,948.0Z" fill="#e2e2e2"/><path d="M311.9,948.0 C312.5,946.1 313.8,943.6 316.5,940.0 C319.2,936.4 324.5,930.4 328.0,926.2 C331.5,922.0 334.0,918.3 337.3,914.6 C340.6,910.9 345.0,906.5 347.7,904.2 C350.4,901.9 351.6,901.5 353.5,900.8 C355.4,900.1 357.9,899.6 359.2,900.2 C360.5,900.8 361.1,901.8 361.5,904.2 C361.9,906.6 361.7,910.6 361.5,914.6 C361.3,918.6 361.3,924.3 360.4,928.5 C359.4,932.7 357.7,936.9 355.8,940.0 C353.9,943.1 351.5,945.0 348.8,946.9 C346.1,948.8 343.1,950.4 339.6,951.5 C336.1,952.6 331.5,953.4 328.0,953.8 C324.5,954.2 321.3,954.2 318.8,953.8 C316.3,953.4 314.1,952.5 313.0,951.5 C311.9,950.5 311.3,949.9 311.9,948.0Z" fill="#333" filter="url(#j1)"/><path d="M311.9,948.0 C312.5,946.1 313.8,943.6 316.5,940.0 C319.2,936.4 324.5,930.4 328.0,926.2 C331.5,922.0 334.0,918.3 337.3,914.6 C340.6,910.9 345.0,906.5 347.7,904.2 C350.4,901.9 351.6,901.5 353.5,900.8 C355.4,900.1 357.9,899.6 359.2,900.2 C360.5,900.8 361.1,901.8 361.5,904.2 C361.9,906.6 361.7,910.6 361.5,914.6 C361.3,918.6 361.3,924.3 360.4,928.5 C359.4,932.7 357.7,936.9 355.8,940.0 C353.9,943.1 351.5,945.0 348.8,946.9 C346.1,948.8 343.1,950.4 339.6,951.5 C336.1,952.6 331.5,953.4 328.0,953.8 C324.5,954.2 321.3,954.2 318.8,953.8 C316.3,953.4 314.1,952.5 313.0,951.5 C311.9,950.5 311.3,949.9 311.9,948.0Z" fill="none" stroke="#fff" stroke-width="3.2"/></g>
<path d="M311.9,948.0 C312.5,946.1 313.8,943.6 316.5,940.0 C319.2,936.4 324.5,930.4 328.0,926.2 C331.5,922.0 334.0,918.3 337.3,914.6 C340.6,910.9 345.0,906.5 347.7,904.2 C350.4,901.9 351.6,901.5 353.5,900.8 C355.4,900.1 357.9,899.6 359.2,900.2 C360.5,900.8 361.1,901.8 361.5,904.2 C361.9,906.6 361.7,910.6 361.5,914.6 C361.3,918.6 361.3,924.3 360.4,928.5 C359.4,932.7 357.7,936.9 355.8,940.0 C353.9,943.1 351.5,945.0 348.8,946.9 C346.1,948.8 343.1,950.4 339.6,951.5 C336.1,952.6 331.5,953.4 328.0,953.8 C324.5,954.2 321.3,954.2 318.8,953.8 C316.3,953.4 314.1,952.5 313.0,951.5 C311.9,950.5 311.3,949.9 311.9,948.0Z" fill="none" stroke="#000" stroke-width="1.2"/>
<clipPath id="mc1"><path d="M324.6,942.3 C325.6,940.1 329.0,934.1 331.5,930.8 C334.0,927.5 336.7,925.8 339.6,922.7 C342.5,919.6 346.3,914.8 348.8,912.3 C351.3,909.8 353.4,908.1 354.6,907.7 C355.8,907.3 355.8,908.1 355.8,910.0 C355.8,911.9 355.0,915.5 354.6,919.2 C354.2,922.9 354.5,928.5 353.5,932.0 C352.5,935.5 351.1,937.9 348.8,940.0 C346.5,942.1 342.5,943.8 339.6,944.6 C336.7,945.4 333.8,944.7 331.5,944.6 C329.2,944.5 326.9,944.4 325.8,944.0 C324.7,943.6 323.7,944.5 324.6,942.3Z"/></clipPath><g clip-path="url(#mc1)"><path d="M324.6,942.3 C325.6,940.1 329.0,934.1 331.5,930.8 C334.0,927.5 336.7,925.8 339.6,922.7 C342.5,919.6 346.3,914.8 348.8,912.3 C351.3,909.8 353.4,908.1 354.6,907.7 C355.8,907.3 355.8,908.1 355.8,910.0 C355.8,911.9 355.0,915.5 354.6,919.2 C354.2,922.9 354.5,928.5 353.5,932.0 C352.5,935.5 351.1,937.9 348.8,940.0 C346.5,942.1 342.5,943.8 339.6,944.6 C336.7,945.4 333.8,944.7 331.5,944.6 C329.2,944.5 326.9,944.4 325.8,944.0 C324.7,943.6 323.7,944.5 324.6,942.3Z" fill="#d8d8d8"/><path d="M324.6,942.3 C325.6,940.1 329.0,934.1 331.5,930.8 C334.0,927.5 336.7,925.8 339.6,922.7 C342.5,919.6 346.3,914.8 348.8,912.3 C351.3,909.8 353.4,908.1 354.6,907.7 C355.8,907.3 355.8,908.1 355.8,910.0 C355.8,911.9 355.0,915.5 354.6,919.2 C354.2,922.9 354.5,928.5 353.5,932.0 C352.5,935.5 351.1,937.9 348.8,940.0 C346.5,942.1 342.5,943.8 339.6,944.6 C336.7,945.4 333.8,944.7 331.5,944.6 C329.2,944.5 326.9,944.4 325.8,944.0 C324.7,943.6 323.7,944.5 324.6,942.3Z" fill="#2a2a2a" filter="url(#j2)"/><path d="M324.6,942.3 C325.6,940.1 329.0,934.1 331.5,930.8 C334.0,927.5 336.7,925.8 339.6,922.7 C342.5,919.6 346.3,914.8 348.8,912.3 C351.3,909.8 353.4,908.1 354.6,907.7 C355.8,907.3 355.8,908.1 355.8,910.0 C355.8,911.9 355.0,915.5 354.6,919.2 C354.2,922.9 354.5,928.5 353.5,932.0 C352.5,935.5 351.1,937.9 348.8,940.0 C346.5,942.1 342.5,943.8 339.6,944.6 C336.7,945.4 333.8,944.7 331.5,944.6 C329.2,944.5 326.9,944.4 325.8,944.0 C324.7,943.6 323.7,944.5 324.6,942.3Z" fill="none" stroke="#fff" stroke-width="3.2"/></g>
<path d="M324.6,942.3 C325.6,940.1 329.0,934.1 331.5,930.8 C334.0,927.5 336.7,925.8 339.6,922.7 C342.5,919.6 346.3,914.8 348.8,912.3 C351.3,909.8 353.4,908.1 354.6,907.7 C355.8,907.3 355.8,908.1 355.8,910.0 C355.8,911.9 355.0,915.5 354.6,919.2 C354.2,922.9 354.5,928.5 353.5,932.0 C352.5,935.5 351.1,937.9 348.8,940.0 C346.5,942.1 342.5,943.8 339.6,944.6 C336.7,945.4 333.8,944.7 331.5,944.6 C329.2,944.5 326.9,944.4 325.8,944.0 C324.7,943.6 323.7,944.5 324.6,942.3Z" fill="none" stroke="#000" stroke-width="1.2"/>
<clipPath id="mc2"><path d="M332.7,937.7 C333.1,936.2 334.7,931.9 336.2,929.6 C337.7,927.3 340.2,925.1 341.9,923.8 C343.6,922.4 345.4,921.5 346.5,921.5 C347.6,921.5 348.2,922.0 348.8,923.8 C349.4,925.5 350.2,929.7 350.0,932.0 C349.8,934.3 349.4,936.6 347.7,937.7 C346.0,938.8 341.9,938.6 339.6,938.8 C337.3,939.0 335.0,939.0 333.8,938.8 C332.6,938.6 332.3,939.2 332.7,937.7Z"/></clipPath><g clip-path="url(#mc2)"><path d="M332.7,937.7 C333.1,936.2 334.7,931.9 336.2,929.6 C337.7,927.3 340.2,925.1 341.9,923.8 C343.6,922.4 345.4,921.5 346.5,921.5 C347.6,921.5 348.2,922.0 348.8,923.8 C349.4,925.5 350.2,929.7 350.0,932.0 C349.8,934.3 349.4,936.6 347.7,937.7 C346.0,938.8 341.9,938.6 339.6,938.8 C337.3,939.0 335.0,939.0 333.8,938.8 C332.6,938.6 332.3,939.2 332.7,937.7Z" fill="#d0d0d0"/><path d="M332.7,937.7 C333.1,936.2 334.7,931.9 336.2,929.6 C337.7,927.3 340.2,925.1 341.9,923.8 C343.6,922.4 345.4,921.5 346.5,921.5 C347.6,921.5 348.2,922.0 348.8,923.8 C349.4,925.5 350.2,929.7 350.0,932.0 C349.8,934.3 349.4,936.6 347.7,937.7 C346.0,938.8 341.9,938.6 339.6,938.8 C337.3,939.0 335.0,939.0 333.8,938.8 C332.6,938.6 332.3,939.2 332.7,937.7Z" fill="#1e1e1e" filter="url(#j3)"/><path d="M332.7,937.7 C333.1,936.2 334.7,931.9 336.2,929.6 C337.7,927.3 340.2,925.1 341.9,923.8 C343.6,922.4 345.4,921.5 346.5,921.5 C347.6,921.5 348.2,922.0 348.8,923.8 C349.4,925.5 350.2,929.7 350.0,932.0 C349.8,934.3 349.4,936.6 347.7,937.7 C346.0,938.8 341.9,938.6 339.6,938.8 C337.3,939.0 335.0,939.0 333.8,938.8 C332.6,938.6 332.3,939.2 332.7,937.7Z" fill="none" stroke="#fff" stroke-width="3.2"/></g>
<path d="M332.7,937.7 C333.1,936.2 334.7,931.9 336.2,929.6 C337.7,927.3 340.2,925.1 341.9,923.8 C343.6,922.4 345.4,921.5 346.5,921.5 C347.6,921.5 348.2,922.0 348.8,923.8 C349.4,925.5 350.2,929.7 350.0,932.0 C349.8,934.3 349.4,936.6 347.7,937.7 C346.0,938.8 341.9,938.6 339.6,938.8 C337.3,939.0 335.0,939.0 333.8,938.8 C332.6,938.6 332.3,939.2 332.7,937.7Z" fill="none" stroke="#000" stroke-width="1.2"/>
<clipPath id="mc3"><path d="M338.0,934.0 C337.8,932.8 338.6,930.0 339.5,928.5 C340.4,927.0 342.3,925.2 343.5,924.8 C344.7,924.3 346.1,924.9 346.8,925.8 C347.5,926.7 347.9,928.8 347.8,930.2 C347.7,931.7 347.1,933.6 346.0,934.5 C344.9,935.4 342.3,935.6 341.0,935.5 C339.7,935.4 338.2,935.2 338.0,934.0Z"/></clipPath><g clip-path="url(#mc3)"><path d="M338.0,934.0 C337.8,932.8 338.6,930.0 339.5,928.5 C340.4,927.0 342.3,925.2 343.5,924.8 C344.7,924.3 346.1,924.9 346.8,925.8 C347.5,926.7 347.9,928.8 347.8,930.2 C347.7,931.7 347.1,933.6 346.0,934.5 C344.9,935.4 342.3,935.6 341.0,935.5 C339.7,935.4 338.2,935.2 338.0,934.0Z" fill="#c8c8c8"/><path d="M338.0,934.0 C337.8,932.8 338.6,930.0 339.5,928.5 C340.4,927.0 342.3,925.2 343.5,924.8 C344.7,924.3 346.1,924.9 346.8,925.8 C347.5,926.7 347.9,928.8 347.8,930.2 C347.7,931.7 347.1,933.6 346.0,934.5 C344.9,935.4 342.3,935.6 341.0,935.5 C339.7,935.4 338.2,935.2 338.0,934.0Z" fill="#1a1a1a" filter="url(#i4)"/><path d="M338.0,934.0 C337.8,932.8 338.6,930.0 339.5,928.5 C340.4,927.0 342.3,925.2 343.5,924.8 C344.7,924.3 346.1,924.9 346.8,925.8 C347.5,926.7 347.9,928.8 347.8,930.2 C347.7,931.7 347.1,933.6 346.0,934.5 C344.9,935.4 342.3,935.6 341.0,935.5 C339.7,935.4 338.2,935.2 338.0,934.0Z" fill="none" stroke="#fff" stroke-width="3.2"/></g>
<path d="M338.0,934.0 C337.8,932.8 338.6,930.0 339.5,928.5 C340.4,927.0 342.3,925.2 343.5,924.8 C344.7,924.3 346.1,924.9 346.8,925.8 C347.5,926.7 347.9,928.8 347.8,930.2 C347.7,931.7 347.1,933.6 346.0,934.5 C344.9,935.4 342.3,935.6 341.0,935.5 C339.7,935.4 338.2,935.2 338.0,934.0Z" fill="none" stroke="#000" stroke-width="1.2"/>
<path d="M276,898 C280,894 288,895 289,899 C292,896 295,892 293,890 C296,894 292,901 290,905 C288,909 282,910 278,907 C274,904 274,900 276,898 Z" fill="#bdbdbd" stroke="#000" stroke-width="1.3"/>
<circle cx="281.5" cy="913.5" r="2.8" fill="none" stroke="#000" stroke-width="1.5" opacity="1"/>
<circle cx="271.7" cy="922.7" r="1.8" fill="none" stroke="#000" stroke-width="1.6" opacity="1"/>
<ellipse cx="265.6" cy="907.5" rx="2" ry="3.8" transform="rotate(25 265.6 907.5)" fill="none" stroke="#000" stroke-width="1.4"/>
<ellipse cx="297.7" cy="886.3" rx="2.2" ry="1.6" fill="#000"/>
<circle cx="310.6" cy="895.4" r="2" fill="#000"/><path d="M311,895 L318.5,894.5" stroke="#000" stroke-width="1.5"/>
<path d="M293,950 C297,948 299,953 296,956 C292,959 290,955 293,950 Z" fill="#000"/>
<circle cx="291.2" cy="962.0" r="2.8" fill="none" stroke="#000" stroke-width="1.4" opacity="1"/>
<circle cx="312.0" cy="982.0" r="2.3" fill="none" stroke="#000" stroke-width="1.6" opacity="1"/><path d="M314,980 C317,976 320,974 323.3,975" fill="none" stroke="#000" stroke-width="2"/>
<circle cx="333.6" cy="1014.0" r="1.6" fill="none" stroke="#000" stroke-width="1.3" opacity="1"/>
<rect x="146.3" y="875.5" width="29.2" height="13.5" fill="#fff"/><rect x="146.3" y="889" width="29.2" height="8" fill="#eee"/>
<rect x="56.3" y="868.3" width="135.7" height="147.2" fill="none" stroke="#8a8a8a" stroke-width="1.3"/>
<line x1="111.2" y1="868.3" x2="111.2" y2="1015.5" stroke="#222" stroke-width="1.3"/><line x1="56.3" y1="956.2" x2="192" y2="956.2" stroke="#222" stroke-width="1.3"/>
<rect x="229" y="867.6" width="135.6" height="147.8" fill="none" stroke="#8a8a8a" stroke-width="1.3"/>
<line x1="283.3" y1="867.6" x2="283.3" y2="1015.4" stroke="#222" stroke-width="1.3"/><line x1="229" y1="956.1" x2="364.6" y2="956.1" stroke="#222" stroke-width="1.3"/>
<text x="59.5" y="888" font-size="13.6" fill="#1a1a1a" stroke="#1a1a1a" stroke-width="0.3">1.13</text>
<text x="147.5" y="888" font-size="13.6" fill="#1a1a1a" stroke="#1a1a1a" stroke-width="0.3">97.1</text>
<text x="58.8" y="1004" font-size="13.6" fill="#1a1a1a" stroke="#1a1a1a" stroke-width="0.3">0.11</text>
<text x="148" y="1004" font-size="13.6" fill="#1a1a1a" stroke="#1a1a1a" stroke-width="0.3">1.67</text>
<text x="232" y="887.3" font-size="13.6" fill="#1a1a1a" stroke="#1a1a1a" stroke-width="0.3">1.55</text>
<text x="320" y="887.3" font-size="13.6" fill="#1a1a1a" stroke="#1a1a1a" stroke-width="0.3">93.4</text>
<text x="231.8" y="1003.2" font-size="13.6" fill="#1a1a1a" stroke="#1a1a1a" stroke-width="0.3">0.091</text>
<text x="320" y="1003.2" font-size="13.6" fill="#1a1a1a" stroke="#1a1a1a" stroke-width="0.3">5.01</text>
</svg>
</body></html>
